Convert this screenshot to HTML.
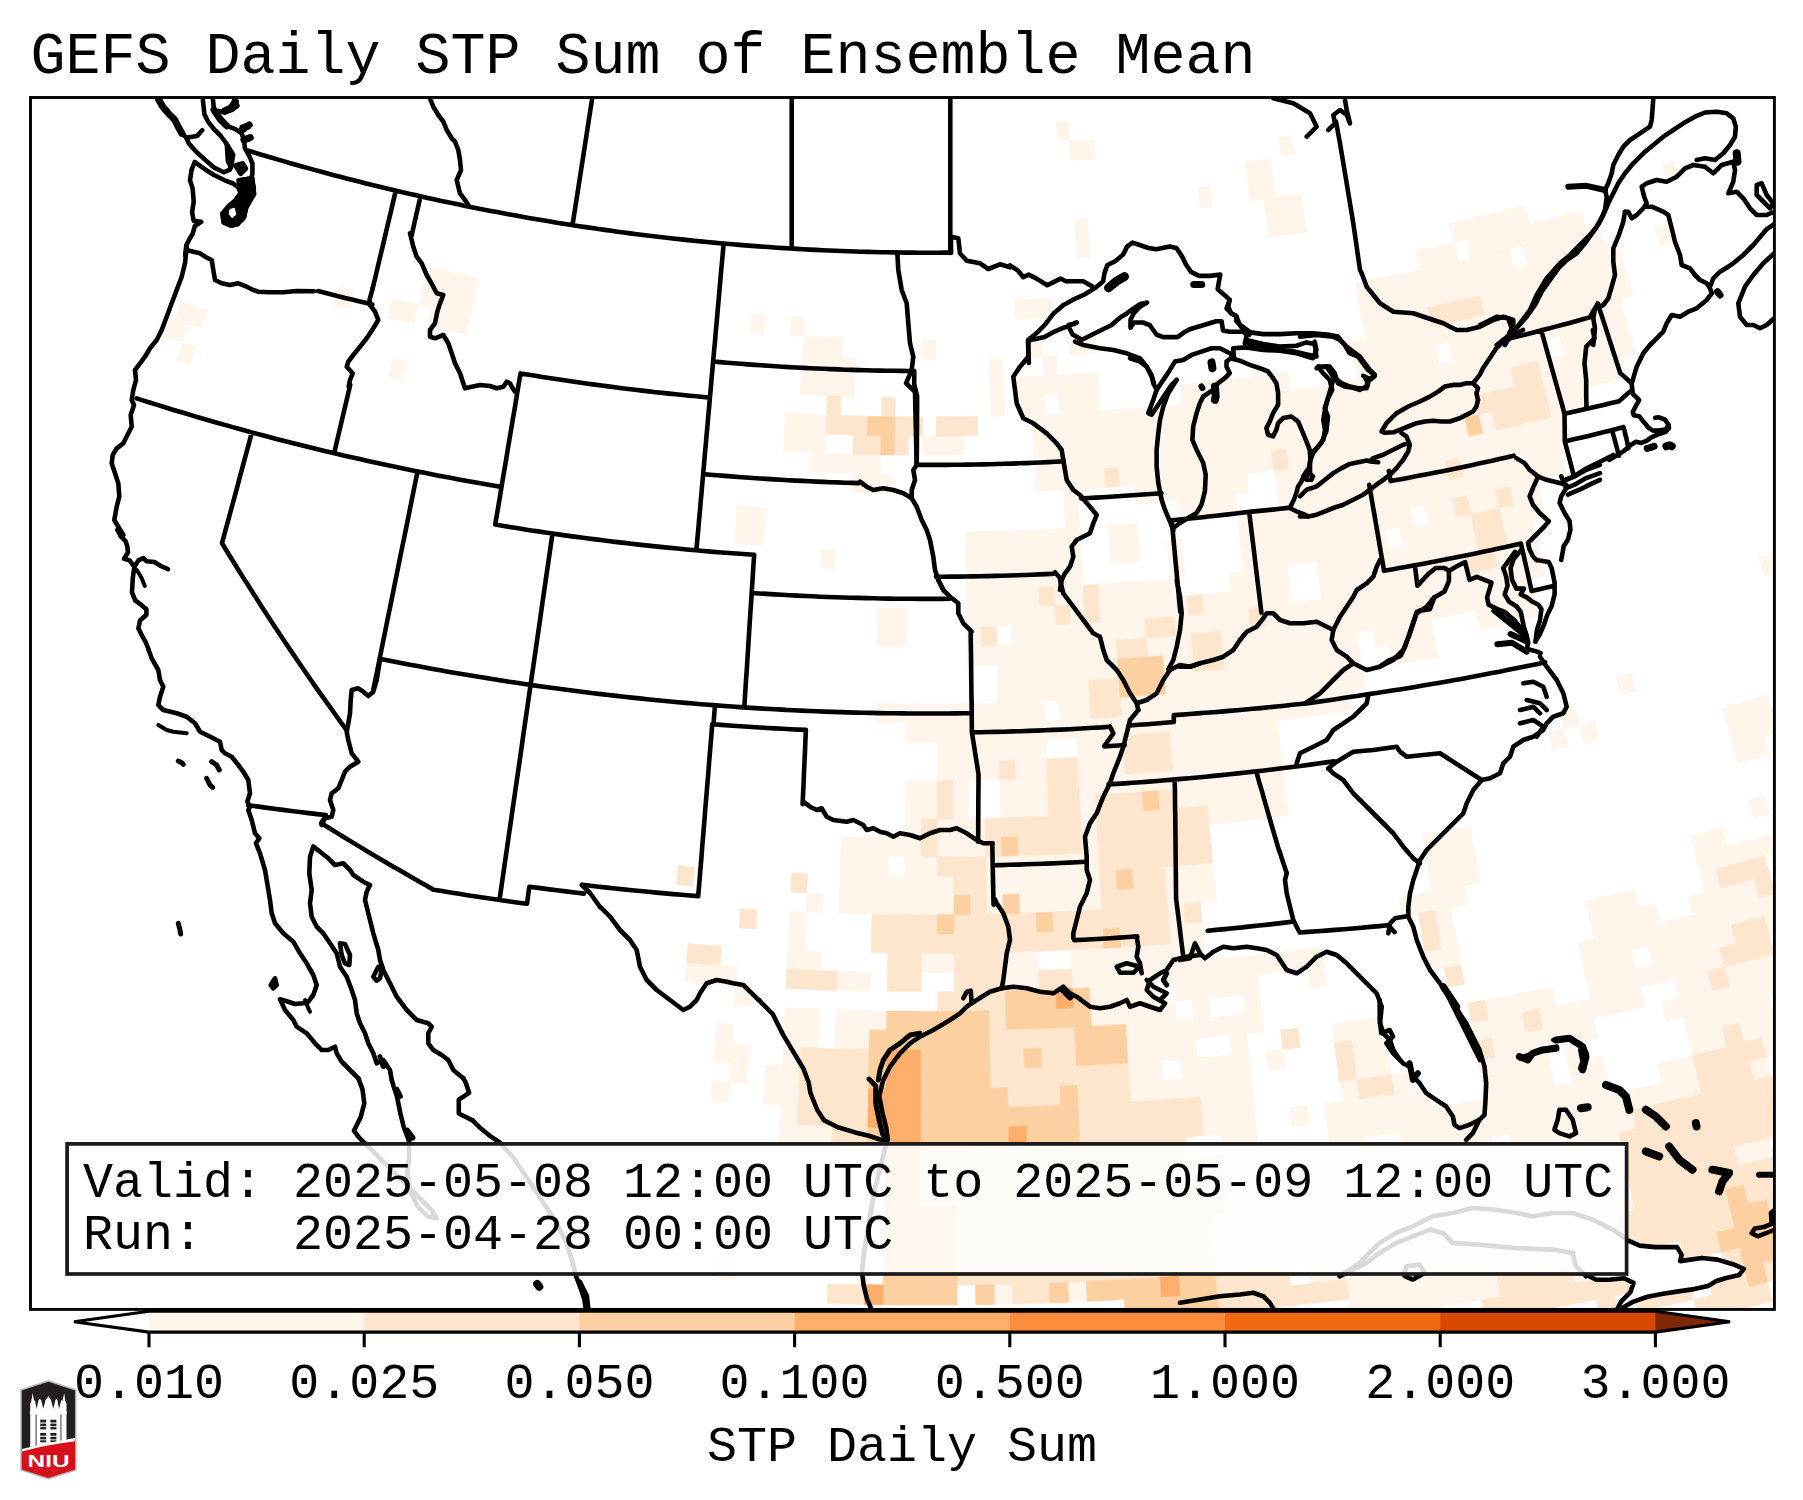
<!DOCTYPE html>
<html><head><meta charset="utf-8"><style>
html,body{margin:0;padding:0;background:#fff;}
body{width:1803px;height:1500px;overflow:hidden;}
svg{display:block;}
</style></head><body>
<svg width="1803" height="1500" viewBox="0 0 1803 1500">
<rect width="1803" height="1500" fill="#fff"/>
<text x="30.4" y="73.4" font-family="Liberation Mono, monospace" font-size="58.33">GEFS Daily STP Sum of Ensemble Mean</text>
<defs><clipPath id="mc"><rect x="30.5" y="97.5" width="1743.9" height="1211.9"/></clipPath></defs>
<g clip-path="url(#mc)">
<path d="M1348.9,1299.0 1367.4,1296.6 1385.9,1294.2 1404.5,1291.6 1423.0,1289.0 1441.5,1286.2 1459.9,1283.3 1478.4,1280.3 1496.8,1277.3 1500.2,1297.0 1481.6,1300.1 1463.0,1303.0 1444.5,1305.9 1425.9,1308.7 1407.3,1311.4 1388.6,1314.0 1370.0,1316.4 1351.3,1318.8Z M1570.4,1264.0 1588.8,1260.4 1592.6,1280.0 1574.2,1283.6Z M1346.4,1279.2 1364.8,1276.9 1383.3,1274.4 1401.7,1271.9 1420.1,1269.2 1438.5,1266.5 1456.8,1263.6 1475.2,1260.7 1493.5,1257.6 1511.8,1254.5 1530.1,1251.2 1548.4,1247.9 1566.7,1244.4 1570.4,1264.0 1552.0,1267.5 1533.7,1270.8 1515.2,1274.1 1496.8,1277.3 1478.4,1280.3 1459.9,1283.3 1441.5,1286.2 1423.0,1289.0 1404.5,1291.6 1385.9,1294.2 1367.4,1296.6 1348.9,1299.0Z M994.0,1284.6 1012.5,1284.2 1013.0,1304.1 994.4,1304.5Z M1067.9,1282.4 1086.3,1281.5 1087.2,1301.4 1068.7,1302.2Z M1307.3,1263.9 1325.6,1261.8 1344.0,1259.5 1346.4,1279.2 1328.0,1281.5 1309.5,1283.6Z M1362.3,1257.2 1380.6,1254.8 1398.9,1252.2 1417.2,1249.6 1435.5,1246.9 1453.7,1244.0 1472.0,1241.1 1490.2,1238.0 1493.5,1257.6 1475.2,1260.7 1456.8,1263.6 1438.5,1266.5 1420.1,1269.2 1401.7,1271.9 1383.3,1274.4 1364.8,1276.9Z M1599.1,1217.7 1617.2,1214.0 1621.3,1233.4 1603.1,1237.2Z M718.3,1258.7 736.6,1259.8 735.5,1279.6 717.0,1278.5Z M1213.7,1253.3 1232.0,1251.6 1250.2,1249.9 1268.5,1248.1 1286.8,1246.2 1305.0,1244.2 1323.3,1242.1 1341.5,1239.8 1359.7,1237.5 1377.9,1235.1 1380.6,1254.8 1362.3,1257.2 1344.0,1259.5 1325.6,1261.8 1307.3,1263.9 1288.9,1265.9 1270.5,1267.8 1252.1,1269.7 1233.8,1271.4 1215.3,1273.0Z M1396.1,1232.6 1414.3,1230.0 1432.5,1227.3 1450.6,1224.4 1453.7,1244.0 1435.5,1246.9 1417.2,1249.6 1398.9,1252.2Z M1577.2,1201.9 1595.2,1198.3 1613.2,1194.6 1631.1,1190.8 1635.3,1210.2 1617.2,1214.0 1599.1,1217.7 1581.0,1221.4Z M1212.0,1233.6 1230.2,1231.9 1248.3,1230.2 1266.5,1228.4 1284.7,1226.5 1302.8,1224.5 1320.9,1222.4 1339.1,1220.2 1357.2,1217.9 1375.3,1215.5 1393.4,1213.0 1411.4,1210.4 1429.5,1207.7 1432.5,1227.3 1414.3,1230.0 1396.1,1232.6 1377.9,1235.1 1359.7,1237.5 1341.5,1239.8 1323.3,1242.1 1305.0,1244.2 1286.8,1246.2 1268.5,1248.1 1250.2,1249.9 1232.0,1251.6 1213.7,1253.3Z M1483.6,1199.0 1501.6,1195.9 1519.5,1192.7 1537.5,1189.4 1555.4,1186.0 1573.3,1182.5 1591.2,1178.9 1609.1,1175.2 1627.0,1171.4 1631.1,1190.8 1613.2,1194.6 1595.2,1198.3 1577.2,1201.9 1559.2,1205.4 1541.1,1208.9 1523.1,1212.2 1505.0,1215.4 1486.9,1218.5Z M1733.7,1146.6 1751.4,1142.2 1769.1,1137.6 1774.1,1156.7 1756.3,1161.3 1738.5,1165.8Z M1210.3,1213.9 1228.4,1212.3 1246.4,1210.6 1264.5,1208.8 1282.6,1206.9 1300.6,1204.9 1318.6,1202.8 1336.6,1200.6 1354.6,1198.3 1372.6,1196.0 1390.6,1193.5 1408.6,1190.9 1426.5,1188.2 1444.4,1185.4 1462.4,1182.5 1480.3,1179.5 1498.2,1176.5 1516.0,1173.3 1533.9,1170.0 1551.7,1166.6 1569.5,1163.2 1587.3,1159.6 1605.1,1155.9 1622.8,1152.1 1627.0,1171.4 1609.1,1175.2 1591.2,1178.9 1573.3,1182.5 1555.4,1186.0 1537.5,1189.4 1519.5,1192.7 1501.6,1195.9 1483.6,1199.0 1465.6,1202.0 1447.5,1204.9 1429.5,1207.7 1411.4,1210.4 1393.4,1213.0 1375.3,1215.5 1357.2,1217.9 1339.1,1220.2 1320.9,1222.4 1302.8,1224.5 1284.7,1226.5 1266.5,1228.4 1248.3,1230.2 1230.2,1231.9 1212.0,1233.6Z M1226.6,1192.7 1244.5,1191.0 1262.5,1189.2 1280.4,1187.3 1298.4,1185.3 1316.3,1183.3 1334.2,1181.1 1352.1,1178.8 1370.0,1176.4 1387.8,1174.0 1405.7,1171.4 1423.5,1168.7 1441.4,1166.0 1459.2,1163.1 1477.0,1160.1 1494.8,1157.1 1512.5,1153.9 1530.3,1150.6 1548.0,1147.3 1565.7,1143.8 1583.4,1140.3 1601.0,1136.6 1618.7,1132.9 1622.8,1152.1 1605.1,1155.9 1587.3,1159.6 1569.5,1163.2 1551.7,1166.6 1533.9,1170.0 1516.0,1173.3 1498.2,1176.5 1480.3,1179.5 1462.4,1182.5 1444.4,1185.4 1426.5,1188.2 1408.6,1190.9 1390.6,1193.5 1372.6,1196.0 1354.6,1198.3 1336.6,1200.6 1318.6,1202.8 1300.6,1204.9 1282.6,1206.9 1264.5,1208.8 1246.4,1210.6 1228.4,1212.3Z M1224.8,1173.1 1242.7,1171.4 1260.5,1169.7 1278.3,1167.8 1296.2,1165.8 1314.0,1163.7 1331.8,1161.6 1349.6,1159.3 1367.3,1157.0 1385.1,1154.5 1402.8,1151.9 1420.6,1149.3 1438.3,1146.5 1456.0,1143.7 1473.7,1140.7 1491.4,1137.7 1494.8,1157.1 1477.0,1160.1 1459.2,1163.1 1441.4,1166.0 1423.5,1168.7 1405.7,1171.4 1387.8,1174.0 1370.0,1176.4 1352.1,1178.8 1334.2,1181.1 1316.3,1183.3 1298.4,1185.3 1280.4,1187.3 1262.5,1189.2 1244.5,1191.0 1226.6,1192.7Z M1509.0,1134.6 1526.7,1131.3 1544.3,1128.0 1561.9,1124.6 1579.5,1121.0 1597.0,1117.4 1614.6,1113.7 1632.1,1109.9 1636.3,1129.1 1618.7,1132.9 1601.0,1136.6 1583.4,1140.3 1565.7,1143.8 1548.0,1147.3 1530.3,1150.6 1512.5,1153.9Z M1223.0,1153.6 1240.8,1151.9 1258.5,1150.1 1276.2,1148.3 1294.0,1146.3 1311.7,1144.3 1329.4,1142.1 1347.0,1139.9 1364.7,1137.5 1367.3,1157.0 1349.6,1159.3 1331.8,1161.6 1314.0,1163.7 1296.2,1165.8 1278.3,1167.8 1260.5,1169.7 1242.7,1171.4 1224.8,1173.1Z M1400.0,1132.5 1417.6,1129.9 1435.2,1127.2 1452.8,1124.3 1470.4,1121.4 1488.0,1118.4 1505.5,1115.3 1523.1,1112.0 1540.6,1108.7 1558.1,1105.3 1575.5,1101.8 1593.0,1098.2 1610.4,1094.5 1627.9,1090.7 1645.2,1086.8 1662.6,1082.8 1680.0,1078.7 1697.3,1074.6 1701.9,1093.6 1684.5,1097.8 1667.1,1101.9 1649.6,1105.9 1632.1,1109.9 1614.6,1113.7 1597.0,1117.4 1579.5,1121.0 1561.9,1124.6 1544.3,1128.0 1526.7,1131.3 1509.0,1134.6 1491.4,1137.7 1473.7,1140.7 1456.0,1143.7 1438.3,1146.5 1420.6,1149.3 1402.8,1151.9Z M1749.1,1061.5 1766.4,1056.9 1771.4,1075.9 1754.1,1080.4Z M1221.3,1134.1 1238.9,1132.4 1256.5,1130.7 1258.5,1150.1 1240.8,1151.9 1223.0,1153.6Z M1326.9,1122.7 1344.5,1120.4 1362.1,1118.1 1379.6,1115.7 1397.2,1113.2 1414.7,1110.5 1432.2,1107.8 1449.7,1105.0 1467.1,1102.1 1484.6,1099.1 1502.1,1096.0 1519.5,1092.8 1536.9,1089.5 1554.3,1086.1 1571.6,1082.6 1589.0,1079.0 1606.3,1075.4 1610.4,1094.5 1593.0,1098.2 1575.5,1101.8 1558.1,1105.3 1540.6,1108.7 1523.1,1112.0 1505.5,1115.3 1488.0,1118.4 1470.4,1121.4 1452.8,1124.3 1435.2,1127.2 1417.6,1129.9 1400.0,1132.5 1382.4,1135.1 1364.7,1137.5 1347.0,1139.9 1329.4,1142.1Z M1658.2,1063.8 1675.4,1059.7 1692.7,1055.5 1697.3,1074.6 1680.0,1078.7 1662.6,1082.8Z M1761.3,1038.0 1778.4,1033.4 1783.6,1052.2 1766.4,1056.9Z M779.7,1124.3 797.3,1125.1 814.9,1125.7 832.5,1126.3 831.9,1145.9 814.2,1145.3 796.5,1144.6 778.8,1143.8Z M1201.9,1116.2 1219.5,1114.6 1237.0,1113.0 1254.5,1111.2 1256.5,1130.7 1238.9,1132.4 1221.3,1134.1 1203.6,1135.6Z M1289.5,1107.4 1307.0,1105.4 1309.3,1124.8 1291.7,1126.9Z M1324.5,1103.3 1342.0,1101.1 1359.4,1098.7 1376.9,1096.3 1394.3,1093.8 1411.7,1091.2 1429.1,1088.5 1432.2,1107.8 1414.7,1110.5 1397.2,1113.2 1379.6,1115.7 1362.1,1118.1 1344.5,1120.4 1326.9,1122.7Z M1481.2,1079.8 1498.6,1076.7 1515.9,1073.6 1533.2,1070.3 1550.5,1066.9 1554.3,1086.1 1536.9,1089.5 1519.5,1092.8 1502.1,1096.0 1484.6,1099.1Z M1567.7,1063.5 1585.0,1059.9 1602.2,1056.2 1606.3,1075.4 1589.0,1079.0 1571.6,1082.6Z M1688.0,1036.6 1705.1,1032.3 1722.2,1028.0 1727.0,1047.0 1709.9,1051.3 1692.7,1055.5Z M1739.2,1023.6 1756.3,1019.1 1773.3,1014.5 1778.4,1033.4 1761.3,1038.0 1744.2,1042.5Z M780.6,1104.8 798.1,1105.6 797.3,1125.1 779.7,1124.3Z M1200.3,1096.7 1217.7,1095.2 1235.1,1093.5 1252.6,1091.8 1254.5,1111.2 1237.0,1113.0 1219.5,1114.6 1201.9,1116.2Z M1339.5,1081.7 1356.8,1079.4 1359.4,1098.7 1342.0,1101.1Z M1391.5,1074.5 1408.8,1071.9 1411.7,1091.2 1394.3,1093.8Z M1477.9,1060.6 1495.1,1057.6 1512.3,1054.4 1529.5,1051.1 1546.7,1047.8 1550.5,1066.9 1533.2,1070.3 1515.9,1073.6 1498.6,1076.7 1481.2,1079.8Z M1563.9,1044.3 1581.0,1040.8 1585.0,1059.9 1567.7,1063.5Z M1683.4,1017.6 1700.4,1013.4 1717.4,1009.1 1734.3,1004.7 1751.2,1000.3 1768.1,995.7 1773.3,1014.5 1756.3,1019.1 1739.2,1023.6 1722.2,1028.0 1705.1,1032.3 1688.0,1036.6Z M712.1,1081.3 729.4,1082.5 728.2,1101.9 710.7,1100.8Z M764.2,1084.5 781.5,1085.3 798.9,1086.1 798.1,1105.6 780.6,1104.8 763.1,1103.9Z M1129.2,1082.5 1146.6,1081.3 1163.9,1080.1 1181.3,1078.7 1198.6,1077.3 1215.9,1075.8 1233.3,1074.1 1250.6,1072.4 1252.6,1091.8 1235.1,1093.5 1217.7,1095.2 1200.3,1096.7 1182.8,1098.2 1165.4,1099.5 1147.9,1100.8 1130.5,1101.9Z M1354.2,1060.1 1371.4,1057.7 1388.6,1055.2 1391.5,1074.5 1374.2,1077.0 1356.8,1079.4Z M1491.6,1038.4 1508.7,1035.2 1525.8,1032.0 1542.9,1028.7 1560.0,1025.3 1577.0,1021.7 1594.0,1018.1 1598.1,1037.2 1581.0,1040.8 1563.9,1044.3 1546.7,1047.8 1529.5,1051.1 1512.3,1054.4 1495.1,1057.6Z M1661.9,1002.8 1678.8,998.7 1695.7,994.5 1712.5,990.2 1729.4,985.9 1746.2,981.4 1763.0,976.9 1779.7,972.3 1785.0,991.0 1768.1,995.7 1751.2,1000.3 1734.3,1004.7 1717.4,1009.1 1700.4,1013.4 1683.4,1017.6 1666.4,1021.7Z M730.7,1063.1 747.9,1064.1 746.8,1083.5 729.4,1082.5Z M765.2,1065.1 782.4,1065.9 799.7,1066.7 798.9,1086.1 781.5,1085.3 764.2,1084.5Z M1128.0,1063.1 1145.3,1061.9 1162.5,1060.7 1163.9,1080.1 1146.6,1081.3 1129.2,1082.5Z M1179.7,1059.4 1197.0,1057.9 1214.2,1056.4 1231.4,1054.8 1248.6,1053.1 1250.6,1072.4 1233.3,1074.1 1215.9,1075.8 1198.6,1077.3 1181.3,1078.7Z M1265.8,1051.3 1283.0,1049.4 1285.2,1068.7 1267.9,1070.6Z M1351.6,1040.8 1368.7,1038.5 1385.8,1036.0 1388.6,1055.2 1371.4,1057.7 1354.2,1060.1Z M1471.2,1022.3 1488.2,1019.2 1505.2,1016.1 1522.2,1012.9 1525.8,1032.0 1508.7,1035.2 1491.6,1038.4 1474.5,1041.4Z M1539.1,1009.6 1556.1,1006.2 1573.0,1002.7 1589.9,999.1 1606.8,995.4 1623.7,991.7 1640.5,987.8 1644.9,1006.7 1628.0,1010.6 1611.0,1014.4 1594.0,1018.1 1577.0,1021.7 1560.0,1025.3 1542.9,1028.7Z M1674.2,979.8 1691.0,975.6 1707.7,971.4 1712.5,990.2 1695.7,994.5 1678.8,998.7Z M1724.5,967.1 1741.2,962.7 1757.9,958.1 1774.5,953.5 1779.7,972.3 1763.0,976.9 1746.2,981.4 1729.4,985.9Z M714.7,1042.5 731.9,1043.7 749.0,1044.7 747.9,1064.1 730.7,1063.1 713.4,1061.9Z M783.4,1046.5 800.5,1047.3 799.7,1066.7 782.4,1065.9Z M1126.8,1043.7 1143.9,1042.5 1161.1,1041.3 1178.2,1040.0 1195.3,1038.6 1197.0,1057.9 1179.7,1059.4 1162.5,1060.7 1145.3,1061.9 1128.0,1063.1Z M1229.5,1035.5 1246.6,1033.8 1248.6,1053.1 1231.4,1054.8Z M1331.9,1023.9 1349.0,1021.6 1366.0,1019.2 1383.0,1016.8 1385.8,1036.0 1368.7,1038.5 1351.6,1040.8 1334.5,1043.1Z M1484.7,1000.1 1501.6,997.0 1518.5,993.8 1535.4,990.6 1552.2,987.2 1556.1,1006.2 1539.1,1009.6 1522.2,1012.9 1505.2,1016.1 1488.2,1019.2Z M1585.8,980.1 1602.6,976.5 1619.4,972.7 1636.1,968.9 1652.9,964.9 1669.6,960.9 1686.2,956.8 1702.9,952.6 1719.5,948.3 1724.5,967.1 1707.7,971.4 1691.0,975.6 1674.2,979.8 1657.4,983.8 1640.5,987.8 1623.7,991.7 1606.8,995.4 1589.9,999.1Z M716.1,1023.2 733.1,1024.3 731.9,1043.7 714.7,1042.5Z M784.3,1027.1 801.3,1027.9 818.4,1028.6 817.7,1047.9 800.5,1047.3 783.4,1046.5Z M835.4,1029.1 852.5,1029.6 869.6,1030.0 869.2,1049.4 852.0,1049.0 834.9,1048.5Z M1125.6,1024.3 1142.6,1023.2 1159.6,1022.0 1176.6,1020.7 1193.7,1019.3 1210.7,1017.8 1227.7,1016.2 1244.7,1014.5 1261.6,1012.7 1263.7,1032.0 1246.6,1033.8 1229.5,1035.5 1212.4,1037.1 1195.3,1038.6 1178.2,1040.0 1161.1,1041.3 1143.9,1042.5 1126.8,1043.7Z M1581.8,961.2 1598.5,957.5 1615.1,953.8 1631.8,950.0 1636.1,968.9 1619.4,972.7 1602.6,976.5 1585.8,980.1Z M1648.4,946.1 1665.0,942.1 1681.5,938.0 1698.1,933.8 1714.6,929.5 1731.1,925.2 1736.1,943.9 1719.5,948.3 1702.9,952.6 1686.2,956.8 1669.6,960.9 1652.9,964.9Z M1764.1,916.2 1780.5,911.5 1785.8,930.2 1769.3,934.8Z M785.2,1007.8 802.1,1008.6 819.1,1009.2 818.4,1028.6 801.3,1027.9 784.3,1027.1Z M836.0,1009.8 853.0,1010.2 870.0,1010.6 886.9,1010.9 886.6,1030.2 869.6,1030.0 852.5,1029.6 835.4,1029.1Z M1090.4,1007.0 1107.4,1006.0 1124.3,1005.0 1141.3,1003.9 1158.2,1002.7 1175.1,1001.4 1176.6,1020.7 1159.6,1022.0 1142.6,1023.2 1125.6,1024.3 1108.5,1025.4 1091.5,1026.3Z M1192.0,1000.0 1208.9,998.5 1210.7,1017.8 1193.7,1019.3Z M1242.7,995.2 1259.6,993.4 1261.6,1012.7 1244.7,1014.5Z M1577.7,942.3 1594.3,938.6 1610.8,934.9 1627.4,931.1 1643.9,927.3 1660.4,923.3 1676.9,919.2 1693.3,915.0 1709.7,910.8 1726.1,906.5 1742.5,902.0 1758.9,897.5 1775.2,892.9 1780.5,911.5 1764.1,916.2 1747.6,920.7 1731.1,925.2 1714.6,929.5 1698.1,933.8 1681.5,938.0 1665.0,942.1 1648.4,946.1 1631.8,950.0 1615.1,953.8 1598.5,957.5 1581.8,961.2Z M735.6,985.7 752.4,986.7 751.3,1006.0 734.3,1005.0Z M1089.4,987.7 1106.3,986.7 1123.1,985.7 1139.9,984.6 1156.7,983.4 1158.2,1002.7 1141.3,1003.9 1124.3,1005.0 1107.4,1006.0 1090.4,1007.0Z M1173.6,982.1 1190.4,980.7 1207.2,979.2 1223.9,977.7 1240.7,976.0 1257.5,974.2 1259.6,993.4 1242.7,995.2 1225.8,996.9 1208.9,998.5 1192.0,1000.0 1175.1,1001.4Z M1307.7,968.4 1324.5,966.3 1327.0,985.4 1310.1,987.6Z M1424.5,951.6 1441.2,948.8 1457.8,945.9 1461.1,965.0 1444.4,967.9 1427.7,970.6Z M1590.1,919.8 1606.6,916.1 1623.0,912.3 1639.4,908.4 1655.8,904.5 1660.4,923.3 1643.9,927.3 1627.4,931.1 1610.8,934.9 1594.3,938.6Z M1688.5,896.3 1704.8,892.1 1721.1,887.8 1737.4,883.4 1753.7,878.9 1758.9,897.5 1742.5,902.0 1726.1,906.5 1709.7,910.8 1693.3,915.0Z M686.6,962.8 703.4,964.1 720.1,965.3 736.8,966.4 735.6,985.7 718.7,984.6 701.9,983.4 685.1,982.1Z M837.2,971.1 853.9,971.6 870.7,972.0 870.3,991.3 853.5,990.9 836.6,990.4Z M1004.7,971.6 1021.5,971.1 1038.2,970.6 1038.9,989.9 1022.1,990.4 1005.2,990.9Z M1071.7,969.2 1088.4,968.4 1105.2,967.5 1121.9,966.4 1138.6,965.3 1155.3,964.1 1172.0,962.8 1188.7,961.5 1205.4,960.0 1222.1,958.4 1238.8,956.8 1255.4,955.0 1272.1,953.2 1288.7,951.3 1305.3,949.2 1322.0,947.1 1324.5,966.3 1307.7,968.4 1291.0,970.4 1274.2,972.4 1257.5,974.2 1240.7,976.0 1223.9,977.7 1207.2,979.2 1190.4,980.7 1173.6,982.1 1156.7,983.4 1139.9,984.6 1123.1,985.7 1106.3,986.7 1089.4,987.7 1072.6,988.5Z M1438.0,929.8 1454.5,926.9 1457.8,945.9 1441.2,948.8Z M1585.9,900.9 1602.3,897.2 1618.6,893.5 1634.9,889.7 1639.4,908.4 1623.0,912.3 1606.6,916.1 1590.1,919.8Z M1700.0,873.4 1716.1,869.1 1721.1,887.8 1704.8,892.1Z M787.9,949.9 804.5,950.7 821.1,951.3 820.5,970.6 803.7,969.9 787.0,969.2Z M921.0,953.2 937.7,953.2 954.3,953.1 954.5,972.4 937.7,972.5 921.0,972.5Z M1004.2,952.3 1020.9,951.9 1037.5,951.3 1038.2,970.6 1021.5,971.1 1004.7,971.6Z M1070.8,949.9 1087.4,949.1 1104.0,948.2 1120.7,947.2 1137.3,946.1 1153.9,944.9 1170.5,943.6 1187.1,942.3 1203.7,940.8 1205.4,960.0 1188.7,961.5 1172.0,962.8 1155.3,964.1 1138.6,965.3 1121.9,966.4 1105.2,967.5 1088.4,968.4 1071.7,969.2Z M1434.7,910.7 1451.1,907.9 1454.5,926.9 1438.0,929.8Z M1695.1,854.8 1711.2,850.5 1727.2,846.2 1743.3,841.7 1759.3,837.2 1775.3,832.6 1780.7,851.1 1764.6,855.7 1748.5,860.3 1732.3,864.8 1716.1,869.1 1700.0,873.4Z M788.8,930.7 805.3,931.4 804.5,950.7 787.9,949.9Z M1168.9,924.4 1185.4,923.1 1201.9,921.6 1203.7,940.8 1187.1,942.3 1170.5,943.6Z M1398.9,897.1 1415.2,894.5 1431.5,891.7 1447.8,888.9 1464.1,886.0 1467.5,905.0 1451.1,907.9 1434.7,910.7 1418.3,913.5 1401.9,916.1Z M1690.2,836.1 1706.2,831.9 1722.2,827.6 1727.2,846.2 1711.2,850.5 1695.1,854.8Z M789.7,911.5 806.1,912.2 805.3,931.4 788.8,930.7Z M1167.4,905.2 1183.8,903.9 1185.4,923.1 1168.9,924.4Z M1428.3,872.8 1444.5,870.0 1460.7,867.1 1476.8,864.1 1480.4,883.1 1464.1,886.0 1447.8,888.9 1431.5,891.7Z M1748.7,800.2 1764.5,795.6 1769.9,814.1 1754.0,818.7Z M806.9,893.0 823.2,893.6 822.5,912.8 806.1,912.2Z M839.5,894.2 855.9,894.6 872.2,895.0 888.5,895.2 904.8,895.4 921.2,895.5 937.5,895.5 953.8,895.4 954.0,914.6 937.6,914.7 921.1,914.7 904.7,914.6 888.2,914.5 871.8,914.2 855.4,913.8 838.9,913.4Z M986.5,895.0 1002.8,894.6 1003.3,913.8 986.9,914.2Z M1019.1,894.2 1035.5,893.6 1051.8,893.0 1068.1,892.3 1084.4,891.5 1100.7,890.6 1101.8,909.8 1085.4,910.7 1069.0,911.5 1052.6,912.2 1036.1,912.8 1019.7,913.4Z M1165.9,886.1 1182.2,884.7 1198.4,883.3 1214.7,881.8 1216.5,900.9 1200.2,902.4 1183.8,903.9 1167.4,905.2Z M1425.1,853.8 1441.2,851.0 1457.3,848.2 1473.3,845.2 1476.8,864.1 1460.7,867.1 1444.5,870.0 1428.3,872.8Z M840.1,875.0 856.3,875.4 872.5,875.8 888.8,876.0 905.0,876.2 921.2,876.3 937.4,876.3 953.7,876.2 953.8,895.4 937.5,895.5 921.2,895.5 904.8,895.4 888.5,895.2 872.2,895.0 855.9,894.6 839.5,894.2Z M986.1,875.8 1002.3,875.4 1018.6,875.0 1034.8,874.4 1051.0,873.8 1067.2,873.1 1083.4,872.3 1099.6,871.4 1100.7,890.6 1084.4,891.5 1068.1,892.3 1051.8,893.0 1035.5,893.6 1019.1,894.2 1002.8,894.6 986.5,895.0Z M1164.3,866.9 1180.5,865.6 1196.7,864.2 1212.8,862.6 1214.7,881.8 1198.4,883.3 1182.2,884.7 1165.9,886.1Z M1421.9,834.9 1437.9,832.1 1453.8,829.3 1469.8,826.4 1473.3,845.2 1457.3,848.2 1441.2,851.0 1425.1,853.8Z M840.7,855.8 856.8,856.2 872.9,856.6 889.0,856.8 888.8,876.0 872.5,875.8 856.3,875.4 840.1,875.0Z M905.2,857.0 921.3,857.1 937.4,857.1 937.4,876.3 921.2,876.3 905.0,876.2Z M985.7,856.6 1001.9,856.2 1018.0,855.8 1034.1,855.2 1050.2,854.6 1066.3,853.9 1082.4,853.1 1098.5,852.2 1099.6,871.4 1083.4,872.3 1067.2,873.1 1051.0,873.8 1034.8,874.4 1018.6,875.0 1002.3,875.4 986.1,875.8Z M1732.9,744.7 1748.4,740.3 1763.9,735.7 1769.4,754.1 1753.8,758.7 1738.2,763.2Z M841.3,836.6 857.3,837.0 873.3,837.4 889.3,837.7 905.3,837.8 921.3,837.9 921.3,857.1 905.2,857.0 889.0,856.8 872.9,856.6 856.8,856.2 840.7,855.8Z M937.3,837.9 953.4,837.8 969.4,837.7 985.4,837.4 985.7,856.6 969.6,856.8 953.5,857.0 937.4,857.1Z M1081.4,834.0 1097.4,833.1 1098.5,852.2 1082.4,853.1Z M1727.7,726.3 1743.1,721.9 1758.4,717.3 1773.8,712.7 1779.3,731.1 1763.9,735.7 1748.4,740.3 1732.9,744.7Z M905.5,818.7 921.4,818.8 921.3,837.9 905.3,837.8Z M937.3,818.8 953.2,818.7 969.1,818.5 985.0,818.2 985.4,837.4 969.4,837.7 953.4,837.8 937.3,837.9Z M1080.4,814.8 1096.3,813.9 1097.4,833.1 1081.4,834.0Z M1207.3,805.4 1223.1,803.8 1239.0,802.1 1254.8,800.4 1270.6,798.6 1286.4,796.6 1288.7,815.7 1272.8,817.6 1256.9,819.4 1241.0,821.2 1225.1,822.9 1209.1,824.5Z M1722.4,707.9 1737.7,703.5 1753.0,699.0 1768.2,694.4 1773.8,712.7 1758.4,717.3 1743.1,721.9 1727.7,726.3Z M905.6,799.5 921.4,799.6 937.2,799.6 937.3,818.8 921.4,818.8 905.5,818.7Z M953.0,799.5 968.8,799.3 969.1,818.5 953.2,818.7Z M1000.4,798.7 1016.2,798.3 1032.0,797.8 1047.8,797.2 1048.6,816.3 1032.7,816.9 1016.8,817.4 1000.9,817.9Z M1079.4,795.7 1095.2,794.8 1096.3,813.9 1080.4,814.8Z M1174.0,789.2 1189.7,787.8 1205.5,786.3 1221.2,784.8 1236.9,783.1 1252.6,781.4 1268.3,779.5 1284.0,777.6 1286.4,796.6 1270.6,798.6 1254.8,800.4 1239.0,802.1 1223.1,803.8 1207.3,805.4 1191.5,806.9 1175.6,808.3Z M1548.7,732.1 1564.1,728.6 1568.3,747.3 1552.8,750.8Z M1579.5,725.1 1594.9,721.4 1599.3,740.1 1583.8,743.7Z M905.8,780.4 921.5,780.5 937.2,780.5 937.2,799.6 921.4,799.6 905.6,799.5Z M952.9,780.4 968.6,780.2 968.8,799.3 953.0,799.5Z M1000.0,779.6 1015.7,779.2 1031.3,778.7 1047.0,778.0 1047.8,797.2 1032.0,797.8 1016.2,798.3 1000.4,798.7Z M1078.4,776.6 1094.1,775.7 1109.7,774.8 1125.4,773.7 1141.1,772.6 1156.7,771.4 1172.4,770.1 1188.0,768.7 1203.6,767.3 1219.2,765.7 1234.9,764.1 1250.5,762.3 1266.1,760.5 1281.6,758.6 1284.0,777.6 1268.3,779.5 1252.6,781.4 1236.9,783.1 1221.2,784.8 1205.5,786.3 1189.7,787.8 1174.0,789.2 1158.2,790.5 1142.5,791.7 1126.7,792.8 1110.9,793.9 1095.2,794.8 1079.4,795.7Z M1559.8,709.9 1575.1,706.4 1579.5,725.1 1564.1,728.6Z M937.1,761.3 952.7,761.2 968.3,761.1 983.9,760.8 999.5,760.5 1000.0,779.6 984.3,779.9 968.6,780.2 952.9,780.4 937.2,780.5Z M1015.1,760.0 1030.7,759.5 1046.2,758.9 1047.0,778.0 1031.3,778.7 1015.7,779.2Z M1077.4,757.5 1093.0,756.6 1108.5,755.7 1124.1,754.6 1125.4,773.7 1109.7,774.8 1094.1,775.7 1078.4,776.6Z M1170.7,751.0 1186.3,749.7 1201.8,748.2 1217.3,746.7 1232.8,745.0 1248.3,743.3 1263.8,741.5 1279.3,739.7 1281.6,758.6 1266.1,760.5 1250.5,762.3 1234.9,764.1 1219.2,765.7 1203.6,767.3 1188.0,768.7 1172.4,770.1Z M1616.3,676.8 1631.4,673.0 1636.1,691.5 1620.9,695.4Z M937.1,742.2 952.6,742.1 968.1,742.0 983.5,741.7 999.0,741.4 1014.5,740.9 1030.0,740.4 1045.5,739.8 1046.2,758.9 1030.7,759.5 1015.1,760.0 999.5,760.5 983.9,760.8 968.3,761.1 952.7,761.2 937.1,761.3Z M1076.4,738.4 1091.9,737.5 1107.3,736.6 1122.8,735.6 1124.1,754.6 1108.5,755.7 1093.0,756.6 1077.4,757.5Z M1169.1,732.0 1184.5,730.6 1199.9,729.2 1215.4,727.6 1230.8,726.0 1246.2,724.3 1261.5,722.5 1276.9,720.7 1279.3,739.7 1263.8,741.5 1248.3,743.3 1232.8,745.0 1217.3,746.7 1201.8,748.2 1186.3,749.7 1170.7,751.0Z M906.3,723.0 921.6,723.1 937.0,723.1 952.4,723.0 967.8,722.8 983.2,722.6 998.5,722.2 1013.9,721.8 1029.3,721.3 1044.7,720.7 1060.0,720.0 1075.4,719.3 1090.8,718.4 1106.1,717.5 1121.5,716.5 1136.8,715.4 1152.1,714.2 1167.5,712.9 1182.8,711.6 1198.1,710.2 1213.4,708.6 1228.7,707.0 1244.0,705.3 1259.3,703.6 1274.5,701.7 1289.8,699.8 1305.1,697.7 1320.3,695.6 1335.5,693.4 1350.7,691.2 1353.6,710.1 1338.3,712.4 1323.0,714.6 1307.6,716.7 1292.3,718.7 1276.9,720.7 1261.5,722.5 1246.2,724.3 1230.8,726.0 1215.4,727.6 1199.9,729.2 1184.5,730.6 1169.1,732.0 1153.7,733.3 1138.2,734.5 1122.8,735.6 1107.3,736.6 1091.9,737.5 1076.4,738.4 1060.9,739.1 1045.5,739.8 1030.0,740.4 1014.5,740.9 999.0,741.4 983.5,741.7 968.1,742.0 952.6,742.1 937.1,742.2 921.6,742.2 906.1,742.1Z M875.9,703.5 891.1,703.7 906.4,703.9 921.7,704.0 937.0,704.0 952.2,703.9 967.5,703.7 982.8,703.5 998.1,703.1 1013.3,702.7 1028.6,702.2 1043.9,701.6 1044.7,720.7 1029.3,721.3 1013.9,721.8 998.5,722.2 983.2,722.6 967.8,722.8 952.4,723.0 937.0,723.1 921.6,723.1 906.3,723.0 890.9,722.8 875.5,722.6Z M1059.1,701.0 1074.4,700.2 1089.7,699.4 1090.8,718.4 1075.4,719.3 1060.0,720.0Z M1120.1,697.4 1135.4,696.3 1150.6,695.2 1165.8,693.9 1181.1,692.6 1196.3,691.1 1211.5,689.6 1226.7,688.0 1241.8,686.3 1257.0,684.6 1272.2,682.7 1287.3,680.8 1302.5,678.8 1317.6,676.7 1332.7,674.5 1347.9,672.3 1362.9,669.9 1365.9,688.8 1350.7,691.2 1335.5,693.4 1320.3,695.6 1305.1,697.7 1289.8,699.8 1274.5,701.7 1259.3,703.6 1244.0,705.3 1228.7,707.0 1213.4,708.6 1198.1,710.2 1182.8,711.6 1167.5,712.9 1152.1,714.2 1136.8,715.4 1121.5,716.5Z M997.6,684.0 1012.8,683.6 1027.9,683.1 1043.1,682.5 1058.2,681.9 1073.4,681.1 1088.5,680.3 1089.7,699.4 1074.4,700.2 1059.1,701.0 1043.9,701.6 1028.6,702.2 1013.3,702.7 998.1,703.1Z M1164.2,674.9 1179.3,673.5 1194.4,672.1 1209.5,670.6 1224.6,669.0 1239.7,667.4 1254.8,665.6 1269.8,663.8 1284.9,661.9 1299.9,659.9 1314.9,657.8 1330.0,655.6 1345.0,653.4 1360.0,651.0 1362.9,669.9 1347.9,672.3 1332.7,674.5 1317.6,676.7 1302.5,678.8 1287.3,680.8 1272.2,682.7 1257.0,684.6 1241.8,686.3 1226.7,688.0 1211.5,689.6 1196.3,691.1 1181.1,692.6 1165.8,693.9Z M1389.9,646.1 1404.9,643.6 1419.8,640.9 1434.7,638.2 1438.2,657.0 1423.2,659.7 1408.2,662.4 1393.1,665.0Z M1758.3,557.3 1772.8,552.7 1778.7,570.9 1764.1,575.5Z M997.1,664.9 1012.2,664.5 1027.2,664.0 1042.3,663.4 1057.4,662.8 1072.4,662.0 1087.4,661.2 1102.5,660.3 1117.5,659.3 1118.8,678.4 1103.7,679.4 1088.5,680.3 1073.4,681.1 1058.2,681.9 1043.1,682.5 1027.9,683.1 1012.8,683.6 997.6,684.0Z M1162.6,655.8 1177.6,654.5 1192.6,653.1 1194.4,672.1 1179.3,673.5 1164.2,674.9Z M1222.6,650.0 1237.5,648.4 1252.5,646.6 1267.5,644.8 1282.4,642.9 1297.4,640.9 1312.3,638.9 1327.2,636.7 1342.1,634.5 1357.0,632.2 1360.0,651.0 1345.0,653.4 1330.0,655.6 1314.9,657.8 1299.9,659.9 1284.9,661.9 1269.8,663.8 1254.8,665.6 1239.7,667.4 1224.6,669.0Z M1371.9,629.8 1386.7,627.3 1401.6,624.7 1416.4,622.1 1431.2,619.4 1434.7,638.2 1419.8,640.9 1404.9,643.6 1389.9,646.1 1374.9,648.6Z M1475.6,610.7 1490.3,607.7 1505.1,604.6 1519.8,601.4 1534.5,598.1 1538.7,616.7 1523.9,620.0 1509.1,623.2 1494.3,626.4 1479.4,629.5Z M966.7,646.4 981.7,646.2 996.7,645.8 1011.6,645.4 1026.6,644.9 1041.5,644.4 1056.5,643.7 1071.4,643.0 1086.3,642.1 1101.3,641.2 1116.2,640.2 1117.5,659.3 1102.5,660.3 1087.4,661.2 1072.4,662.0 1057.4,662.8 1042.3,663.4 1027.2,664.0 1012.2,664.5 997.1,664.9 982.1,665.3 967.0,665.5Z M1146.0,638.0 1161.0,636.8 1175.9,635.5 1190.8,634.1 1192.6,653.1 1177.6,654.5 1162.6,655.8 1147.6,657.1Z M1220.5,631.0 1235.4,629.4 1250.3,627.7 1265.1,625.9 1280.0,624.0 1294.8,622.0 1309.6,619.9 1324.4,617.8 1339.2,615.6 1354.0,613.3 1368.8,610.9 1383.5,608.5 1398.3,605.9 1413.0,603.3 1427.7,600.6 1442.4,597.8 1457.1,595.0 1471.8,592.0 1486.4,589.0 1501.1,585.9 1515.7,582.7 1530.3,579.4 1534.5,598.1 1519.8,601.4 1505.1,604.6 1490.3,607.7 1475.6,610.7 1460.8,613.7 1446.0,616.6 1431.2,619.4 1416.4,622.1 1401.6,624.7 1386.7,627.3 1371.9,629.8 1357.0,632.2 1342.1,634.5 1327.2,636.7 1312.3,638.9 1297.4,640.9 1282.4,642.9 1267.5,644.8 1252.5,646.6 1237.5,648.4 1222.6,650.0Z M877.3,627.1 892.2,627.3 907.0,627.5 906.9,646.6 891.9,646.4 877.0,646.2Z M966.5,627.3 981.3,627.1 981.7,646.2 966.7,646.4Z M1011.0,626.3 1025.9,625.8 1040.7,625.3 1055.6,624.6 1070.4,623.9 1085.2,623.1 1100.1,622.2 1114.9,621.2 1129.7,620.1 1144.5,619.0 1146.0,638.0 1131.1,639.2 1116.2,640.2 1101.3,641.2 1086.3,642.1 1071.4,643.0 1056.5,643.7 1041.5,644.4 1026.6,644.9 1011.6,645.4Z M1174.1,616.4 1188.9,615.1 1203.7,613.6 1218.5,612.0 1233.2,610.4 1248.0,608.7 1250.3,627.7 1235.4,629.4 1220.5,631.0 1205.6,632.6 1190.8,634.1 1175.9,635.5Z M1262.8,606.9 1277.5,605.0 1292.2,603.1 1306.9,601.0 1321.6,598.9 1336.3,596.7 1351.0,594.4 1365.7,592.1 1380.3,589.6 1395.0,587.1 1409.6,584.5 1424.2,581.8 1438.8,579.1 1453.4,576.2 1468.0,573.3 1482.5,570.3 1497.0,567.2 1511.6,564.0 1526.1,560.8 1540.5,557.5 1544.9,576.1 1530.3,579.4 1515.7,582.7 1501.1,585.9 1486.4,589.0 1471.8,592.0 1457.1,595.0 1442.4,597.8 1427.7,600.6 1413.0,603.3 1398.3,605.9 1383.5,608.5 1368.8,610.9 1354.0,613.3 1339.2,615.6 1324.4,617.8 1309.6,619.9 1294.8,622.0 1280.0,624.0 1265.1,625.9Z M877.7,608.0 892.5,608.2 907.2,608.4 907.0,627.5 892.2,627.3 877.3,627.1Z M966.2,608.2 981.0,608.0 995.7,607.6 1010.5,607.2 1025.2,606.7 1039.9,606.2 1054.7,605.5 1055.6,624.6 1040.7,625.3 1025.9,625.8 1011.0,626.3 996.2,626.7 981.3,627.1 966.5,627.3Z M1069.4,604.8 1084.1,604.0 1085.2,623.1 1070.4,623.9Z M1098.9,603.1 1113.6,602.1 1128.3,601.1 1143.0,599.9 1157.7,598.7 1172.4,597.4 1187.1,596.0 1188.9,615.1 1174.1,616.4 1159.3,617.7 1144.5,619.0 1129.7,620.1 1114.9,621.2 1100.1,622.2Z M1201.8,594.6 1216.4,593.0 1231.1,591.4 1245.7,589.7 1260.4,587.9 1275.0,586.1 1289.6,584.1 1292.2,603.1 1277.5,605.0 1262.8,606.9 1248.0,608.7 1233.2,610.4 1218.5,612.0 1203.7,613.6Z M1318.9,580.0 1333.5,577.8 1348.0,575.6 1362.6,573.2 1377.1,570.8 1391.7,568.3 1406.2,565.7 1420.7,563.0 1435.2,560.3 1449.7,557.5 1464.1,554.6 1468.0,573.3 1453.4,576.2 1438.8,579.1 1424.2,581.8 1409.6,584.5 1395.0,587.1 1380.3,589.6 1365.7,592.1 1351.0,594.4 1336.3,596.7 1321.6,598.9Z M1493.0,548.5 1507.4,545.4 1521.8,542.2 1536.2,538.9 1540.5,557.5 1526.1,560.8 1511.6,564.0 1497.0,567.2Z M965.9,589.1 980.6,588.8 995.2,588.5 1009.9,588.1 1024.5,587.6 1039.1,587.1 1039.9,606.2 1025.2,606.7 1010.5,607.2 995.7,607.6 981.0,608.0 966.2,608.2Z M1053.8,586.4 1068.4,585.7 1083.0,584.9 1084.1,604.0 1069.4,604.8 1054.7,605.5Z M1097.7,584.0 1112.3,583.0 1126.9,582.0 1141.5,580.9 1156.1,579.7 1170.7,578.4 1172.4,597.4 1157.7,598.7 1143.0,599.9 1128.3,601.1 1113.6,602.1 1098.9,603.1Z M1228.9,572.4 1243.5,570.7 1258.0,569.0 1272.6,567.1 1287.1,565.2 1289.6,584.1 1275.0,586.1 1260.4,587.9 1245.7,589.7 1231.1,591.4Z M1316.1,561.1 1330.6,558.9 1345.0,556.7 1359.5,554.4 1373.9,551.9 1388.4,549.5 1402.8,546.9 1417.2,544.2 1431.6,541.5 1446.0,538.7 1460.3,535.8 1474.7,532.9 1478.6,551.6 1464.1,554.6 1449.7,557.5 1435.2,560.3 1420.7,563.0 1406.2,565.7 1391.7,568.3 1377.1,570.8 1362.6,573.2 1348.0,575.6 1333.5,577.8 1318.9,580.0Z M1503.3,526.7 1517.6,523.5 1531.9,520.2 1536.2,538.9 1521.8,542.2 1507.4,545.4Z M965.7,570.0 980.2,569.7 994.8,569.4 1009.3,569.0 1023.8,568.5 1038.4,568.0 1052.9,567.3 1067.4,566.6 1081.9,565.8 1083.0,584.9 1068.4,585.7 1053.8,586.4 1039.1,587.1 1024.5,587.6 1009.9,588.1 995.2,588.5 980.6,588.8 965.9,589.1Z M1168.9,559.3 1183.4,558.0 1185.2,577.0 1170.7,578.4Z M1241.2,551.8 1255.7,550.0 1270.1,548.2 1284.5,546.2 1298.9,544.3 1313.3,542.2 1327.7,540.0 1342.1,537.8 1356.4,535.5 1370.8,533.1 1385.1,530.6 1388.4,549.5 1373.9,551.9 1359.5,554.4 1345.0,556.7 1330.6,558.9 1316.1,561.1 1301.6,563.2 1287.1,565.2 1272.6,567.1 1258.0,569.0 1243.5,570.7Z M1399.4,528.1 1413.7,525.5 1428.0,522.8 1442.3,520.0 1456.5,517.1 1470.8,514.2 1474.7,532.9 1460.3,535.8 1446.0,538.7 1431.6,541.5 1417.2,544.2 1402.8,546.9Z M1499.2,508.1 1513.4,504.9 1527.6,501.6 1541.7,498.3 1546.1,516.9 1531.9,520.2 1517.6,523.5 1503.3,526.7Z M821.1,548.9 835.5,549.4 834.8,568.5 820.3,568.0Z M965.4,550.8 979.9,550.6 994.3,550.3 1008.7,549.9 1023.1,549.4 1037.6,548.9 1052.0,548.2 1066.4,547.5 1080.8,546.7 1081.9,565.8 1067.4,566.6 1052.9,567.3 1038.4,568.0 1023.8,568.5 1009.3,569.0 994.8,569.4 980.2,569.7 965.7,570.0Z M1109.6,544.9 1124.0,543.9 1138.4,542.8 1140.0,561.8 1125.5,562.9 1111.0,564.0Z M1167.2,540.3 1181.6,538.9 1183.4,558.0 1168.9,559.3Z M1239.0,532.8 1253.3,531.0 1267.6,529.2 1281.9,527.3 1296.2,525.3 1310.5,523.3 1324.8,521.1 1339.1,518.9 1353.3,516.6 1367.6,514.2 1381.8,511.8 1396.0,509.3 1410.2,506.7 1413.7,525.5 1399.4,528.1 1385.1,530.6 1370.8,533.1 1356.4,535.5 1342.1,537.8 1327.7,540.0 1313.3,542.2 1298.9,544.3 1284.5,546.2 1270.1,548.2 1255.7,550.0 1241.2,551.8Z M1424.4,504.0 1438.6,501.2 1452.7,498.4 1456.5,517.1 1442.3,520.0 1428.0,522.8Z M1466.8,495.4 1481.0,492.5 1495.1,489.4 1499.2,508.1 1485.0,511.1 1470.8,514.2Z M1509.2,486.2 1523.2,483.0 1537.3,479.7 1541.7,498.3 1527.6,501.6 1513.4,504.9Z M736.0,524.8 750.3,525.8 764.6,526.8 763.4,545.8 749.0,544.9 734.6,543.9Z M965.2,531.7 979.5,531.5 993.8,531.2 1008.1,530.8 1022.5,530.3 1036.8,529.7 1051.1,529.1 1065.4,528.4 1079.7,527.6 1080.8,546.7 1066.4,547.5 1052.0,548.2 1037.6,548.9 1023.1,549.4 1008.7,549.9 994.3,550.3 979.9,550.6 965.4,550.8Z M1108.3,525.8 1122.6,524.8 1136.9,523.7 1138.4,542.8 1124.0,543.9 1109.6,544.9Z M1236.7,513.8 1250.9,512.0 1265.2,510.2 1279.4,508.3 1293.6,506.4 1307.7,504.3 1321.9,502.2 1336.1,500.0 1350.2,497.7 1364.4,495.4 1378.5,492.9 1392.6,490.4 1406.7,487.8 1420.8,485.2 1434.8,482.4 1448.9,479.6 1462.9,476.7 1476.9,473.7 1490.9,470.7 1504.9,467.6 1518.9,464.4 1532.8,461.1 1546.8,457.7 1560.7,454.3 1565.3,472.8 1551.3,476.3 1537.3,479.7 1523.2,483.0 1509.2,486.2 1495.1,489.4 1481.0,492.5 1466.8,495.4 1452.7,498.4 1438.6,501.2 1424.4,504.0 1410.2,506.7 1396.0,509.3 1381.8,511.8 1367.6,514.2 1353.3,516.6 1339.1,518.9 1324.8,521.1 1310.5,523.3 1296.2,525.3 1281.9,527.3 1267.6,529.2 1253.3,531.0 1239.0,532.8Z M737.5,505.7 751.7,506.7 765.9,507.7 764.6,526.8 750.3,525.8 736.0,524.8Z M1064.4,509.3 1078.6,508.5 1079.7,527.6 1065.4,528.4Z M1177.9,500.8 1192.0,499.4 1206.2,498.0 1220.3,496.4 1234.5,494.8 1236.7,513.8 1222.5,515.4 1208.2,517.0 1194.0,518.5 1179.7,519.9Z M1276.8,489.4 1290.9,487.4 1305.0,485.4 1319.0,483.3 1333.1,481.1 1347.1,478.8 1361.2,476.5 1375.2,474.1 1389.2,471.6 1403.2,469.0 1417.2,466.4 1431.1,463.7 1445.1,460.9 1448.9,479.6 1434.8,482.4 1420.8,485.2 1406.7,487.8 1392.6,490.4 1378.5,492.9 1364.4,495.4 1350.2,497.7 1336.1,500.0 1321.9,502.2 1307.7,504.3 1293.6,506.4 1279.4,508.3Z M1459.0,458.0 1472.9,455.0 1486.8,452.0 1500.7,448.9 1514.6,445.7 1528.4,442.5 1542.2,439.1 1556.1,435.7 1569.8,432.2 1574.6,450.8 1560.7,454.3 1546.8,457.7 1532.8,461.1 1518.9,464.4 1504.9,467.6 1490.9,470.7 1476.9,473.7 1462.9,476.7Z M1063.4,490.2 1077.5,489.4 1078.6,508.5 1064.4,509.3Z M1133.9,485.5 1147.9,484.3 1162.0,483.1 1176.0,481.8 1190.1,480.4 1204.1,478.9 1218.2,477.4 1232.2,475.7 1246.2,474.0 1248.6,493.0 1234.5,494.8 1220.3,496.4 1206.2,498.0 1192.0,499.4 1177.9,500.8 1163.7,502.2 1149.6,503.4 1135.4,504.6Z M1274.2,470.4 1288.2,468.5 1302.2,466.4 1316.1,464.4 1330.1,462.2 1344.0,459.9 1358.0,457.6 1371.9,455.2 1385.8,452.8 1399.7,450.2 1413.5,447.6 1427.4,444.9 1441.3,442.1 1455.1,439.2 1468.9,436.3 1482.7,433.3 1496.5,430.2 1510.2,427.1 1524.0,423.8 1537.7,420.5 1551.4,417.1 1565.1,413.7 1569.8,432.2 1556.1,435.7 1542.2,439.1 1528.4,442.5 1514.6,445.7 1500.7,448.9 1486.8,452.0 1472.9,455.0 1459.0,458.0 1445.1,460.9 1431.1,463.7 1417.2,466.4 1403.2,469.0 1389.2,471.6 1375.2,474.1 1361.2,476.5 1347.1,478.8 1333.1,481.1 1319.0,483.3 1305.0,485.4 1290.9,487.4 1276.8,489.4Z M852.3,473.3 866.3,473.7 880.3,474.0 894.3,474.3 894.0,493.4 879.9,493.2 865.8,492.9 851.7,492.5Z M1034.4,472.3 1048.4,471.7 1062.4,471.0 1076.4,470.3 1090.4,469.4 1104.4,468.5 1105.7,487.6 1091.6,488.5 1077.5,489.4 1063.4,490.2 1049.3,490.9 1035.2,491.5Z M1118.4,467.5 1132.3,466.4 1146.3,465.2 1160.3,464.0 1174.2,462.7 1188.2,461.3 1202.1,459.9 1216.0,458.3 1229.9,456.7 1243.9,455.0 1257.8,453.2 1271.6,451.4 1274.2,470.4 1260.2,472.2 1246.2,474.0 1232.2,475.7 1218.2,477.4 1204.1,478.9 1190.1,480.4 1176.0,481.8 1162.0,483.1 1147.9,484.3 1133.9,485.5 1119.8,486.6Z M1285.5,449.5 1299.4,447.5 1313.3,445.4 1327.1,443.3 1340.9,441.0 1354.8,438.7 1368.6,436.3 1382.4,433.9 1396.2,431.4 1409.9,428.8 1423.7,426.1 1437.4,423.3 1451.2,420.5 1464.9,417.6 1468.9,436.3 1455.1,439.2 1441.3,442.1 1427.4,444.9 1413.5,447.6 1399.7,450.2 1385.8,452.8 1371.9,455.2 1358.0,457.6 1344.0,459.9 1330.1,462.2 1316.1,464.4 1302.2,466.4 1288.2,468.5Z M1478.6,414.6 1492.2,411.5 1496.5,430.2 1482.7,433.3Z M1546.8,398.5 1560.3,395.1 1573.9,391.6 1587.5,388.0 1592.4,406.5 1578.8,410.1 1565.1,413.7 1551.4,417.1Z M182.6,342.5 195.9,346.6 190.3,364.9 176.9,360.8Z M811.2,452.6 825.0,453.2 838.9,453.7 852.8,454.2 866.7,454.6 880.7,454.9 880.3,474.0 866.3,473.7 852.3,473.3 838.3,472.9 824.3,472.3 810.3,471.7Z M1033.6,453.2 1047.5,452.6 1061.4,451.9 1075.3,451.1 1089.2,450.3 1103.1,449.3 1116.9,448.4 1130.8,447.3 1144.7,446.1 1158.5,444.9 1172.4,443.6 1186.2,442.2 1200.0,440.8 1213.9,439.3 1227.7,437.7 1241.5,436.0 1255.3,434.2 1269.1,432.4 1282.8,430.5 1296.6,428.5 1310.4,426.4 1324.1,424.3 1337.8,422.1 1351.6,419.8 1365.3,417.5 1379.0,415.0 1392.6,412.5 1406.3,409.9 1420.0,407.3 1433.6,404.5 1447.2,401.7 1460.8,398.8 1474.4,395.9 1478.6,414.6 1464.9,417.6 1451.2,420.5 1437.4,423.3 1423.7,426.1 1409.9,428.8 1396.2,431.4 1382.4,433.9 1368.6,436.3 1354.8,438.7 1340.9,441.0 1327.1,443.3 1313.3,445.4 1299.4,447.5 1285.5,449.5 1271.6,451.4 1257.8,453.2 1243.9,455.0 1229.9,456.7 1216.0,458.3 1202.1,459.9 1188.2,461.3 1174.2,462.7 1160.3,464.0 1146.3,465.2 1132.3,466.4 1118.4,467.5 1104.4,468.5 1090.4,469.4 1076.4,470.3 1062.4,471.0 1048.4,471.7 1034.4,472.3Z M1542.1,379.9 1555.6,376.5 1569.1,373.0 1582.5,369.5 1595.9,365.9 1609.3,362.1 1622.7,358.4 1628.0,376.8 1614.5,380.6 1601.0,384.4 1587.5,388.0 1573.9,391.6 1560.3,395.1 1546.8,398.5Z M161.9,315.9 175.1,320.1 188.3,324.2 182.6,342.5 169.3,338.4 156.1,334.2Z M784.5,431.9 798.3,432.7 812.0,433.4 825.8,434.0 825.0,453.2 811.2,452.6 797.3,451.9 783.4,451.1Z M922.4,436.1 936.2,436.1 950.0,436.0 963.8,435.9 964.1,455.1 950.2,455.2 936.3,455.3 922.4,455.3Z M1032.8,434.0 1046.6,433.4 1060.4,432.7 1074.2,431.9 1088.0,431.1 1101.7,430.2 1115.5,429.2 1129.3,428.2 1143.0,427.0 1156.8,425.8 1170.5,424.5 1184.3,423.1 1198.0,421.7 1211.7,420.2 1225.4,418.6 1239.1,416.9 1252.8,415.2 1266.5,413.4 1280.2,411.5 1293.8,409.5 1307.5,407.5 1321.1,405.4 1334.7,403.2 1348.4,400.9 1362.0,398.5 1375.6,396.1 1389.1,393.6 1402.7,391.1 1416.2,388.4 1429.8,385.7 1443.3,382.9 1456.8,380.1 1470.3,377.1 1483.7,374.1 1497.2,371.0 1510.6,367.9 1515.1,386.5 1501.5,389.7 1488.0,392.8 1474.4,395.9 1460.8,398.8 1447.2,401.7 1433.6,404.5 1420.0,407.3 1406.3,409.9 1392.6,412.5 1379.0,415.0 1365.3,417.5 1351.6,419.8 1337.8,422.1 1324.1,424.3 1310.4,426.4 1296.6,428.5 1282.8,430.5 1269.1,432.4 1255.3,434.2 1241.5,436.0 1227.7,437.7 1213.9,439.3 1200.0,440.8 1186.2,442.2 1172.4,443.6 1158.5,444.9 1144.7,446.1 1130.8,447.3 1116.9,448.4 1103.1,449.3 1089.2,450.3 1075.3,451.1 1061.4,451.9 1047.5,452.6 1033.6,453.2Z M1537.5,361.3 1550.8,357.9 1564.2,354.5 1577.5,350.9 1590.9,347.3 1604.2,343.7 1617.5,339.9 1630.7,336.1 1636.1,354.5 1622.7,358.4 1609.3,362.1 1595.9,365.9 1582.5,369.5 1569.1,373.0 1555.6,376.5 1542.1,379.9Z M180.9,301.7 194.0,305.8 207.1,309.8 201.5,328.2 188.3,324.2 175.1,320.1Z M392.5,358.4 405.9,361.3 401.9,380.1 388.4,377.1Z M785.6,412.8 799.3,413.5 812.9,414.2 826.6,414.8 825.8,434.0 812.0,433.4 798.3,432.7 784.5,431.9Z M1032.0,414.8 1045.7,414.2 1059.4,413.5 1073.1,412.8 1086.7,411.9 1100.4,411.0 1114.1,410.1 1127.7,409.0 1141.4,407.9 1155.0,406.7 1168.7,405.4 1182.3,404.0 1195.9,402.6 1209.5,401.1 1223.1,399.5 1236.7,397.9 1250.3,396.1 1263.9,394.3 1277.5,392.5 1291.0,390.5 1304.6,388.5 1318.1,386.4 1331.6,384.2 1345.2,381.9 1358.6,379.6 1372.1,377.2 1385.6,374.7 1399.1,372.2 1412.5,369.6 1425.9,366.9 1439.4,364.1 1452.8,361.3 1466.1,358.4 1479.5,355.4 1492.9,352.3 1506.2,349.2 1519.5,346.0 1532.8,342.7 1546.1,339.3 1550.8,357.9 1537.5,361.3 1524.1,364.6 1510.6,367.9 1497.2,371.0 1483.7,374.1 1470.3,377.1 1456.8,380.1 1443.3,382.9 1429.8,385.7 1416.2,388.4 1402.7,391.1 1389.1,393.6 1375.6,396.1 1362.0,398.5 1348.4,400.9 1334.7,403.2 1321.1,405.4 1307.5,407.5 1293.8,409.5 1280.2,411.5 1266.5,413.4 1252.8,415.2 1239.1,416.9 1225.4,418.6 1211.7,420.2 1198.0,421.7 1184.3,423.1 1170.5,424.5 1156.8,425.8 1143.0,427.0 1129.3,428.2 1115.5,429.2 1101.7,430.2 1088.0,431.1 1074.2,431.9 1060.4,432.7 1046.6,433.4 1032.8,434.0Z M1559.3,335.9 1572.6,332.4 1585.8,328.8 1599.0,325.2 1612.2,321.4 1625.4,317.6 1630.7,336.1 1617.5,339.9 1604.2,343.7 1590.9,347.3 1577.5,350.9 1564.2,354.5Z M990.5,396.9 1004.1,396.6 1004.7,415.8 991.0,416.2Z M1017.7,396.1 1031.2,395.6 1044.8,395.0 1045.7,414.2 1032.0,414.8 1018.3,415.3Z M1058.4,394.3 1072.0,393.6 1085.5,392.7 1099.1,391.8 1100.4,411.0 1086.7,411.9 1073.1,412.8 1059.4,413.5Z M1180.3,384.9 1193.9,383.5 1207.4,382.0 1220.9,380.4 1234.4,378.8 1247.8,377.1 1261.3,375.3 1274.8,373.4 1288.2,371.5 1291.0,390.5 1277.5,392.5 1263.9,394.3 1250.3,396.1 1236.7,397.9 1223.1,399.5 1209.5,401.1 1195.9,402.6 1182.3,404.0Z M1355.3,360.7 1368.7,358.3 1382.1,355.8 1395.4,353.3 1408.8,350.7 1422.1,348.0 1435.4,345.3 1439.4,364.1 1425.9,366.9 1412.5,369.6 1399.1,372.2 1385.6,374.7 1372.1,377.2 1358.6,379.6Z M1448.7,342.5 1462.0,339.6 1475.3,336.6 1488.5,333.6 1501.7,330.5 1514.9,327.3 1528.1,324.0 1541.3,320.7 1554.5,317.3 1567.6,313.8 1580.7,310.3 1593.8,306.6 1606.9,302.9 1620.0,299.2 1625.4,317.6 1612.2,321.4 1599.0,325.2 1585.8,328.8 1572.6,332.4 1559.3,335.9 1546.1,339.3 1532.8,342.7 1519.5,346.0 1506.2,349.2 1492.9,352.3 1479.5,355.4 1466.1,358.4 1452.8,361.3Z M801.3,375.1 814.7,375.8 828.2,376.3 841.7,376.9 855.2,377.3 854.6,396.6 841.0,396.1 827.4,395.6 813.8,395.0 800.3,394.3Z M990.0,377.7 1003.5,377.3 1004.1,396.6 990.5,396.9Z M1017.0,376.9 1030.4,376.3 1043.9,375.8 1057.4,375.1 1070.9,374.3 1084.3,373.5 1097.8,372.6 1099.1,391.8 1085.5,392.7 1072.0,393.6 1058.4,394.3 1044.8,395.0 1031.2,395.6 1017.7,396.1Z M1352.0,341.7 1365.3,339.4 1378.6,336.9 1391.8,334.4 1405.0,331.8 1418.3,329.2 1431.5,326.4 1444.7,323.6 1457.8,320.8 1471.0,317.8 1484.1,314.8 1497.3,311.7 1510.4,308.6 1523.5,305.3 1536.5,302.0 1549.6,298.7 1562.6,295.2 1575.7,291.7 1588.7,288.1 1601.6,284.4 1614.6,280.7 1627.5,276.9 1633.0,295.3 1620.0,299.2 1606.9,302.9 1593.8,306.6 1580.7,310.3 1567.6,313.8 1554.5,317.3 1541.3,320.7 1528.1,324.0 1514.9,327.3 1501.7,330.5 1488.5,333.6 1475.3,336.6 1462.0,339.6 1448.7,342.5 1435.4,345.3 1422.1,348.0 1408.8,350.7 1395.4,353.3 1382.1,355.8 1368.7,358.3 1355.3,360.7Z M339.9,286.6 352.9,289.8 348.3,308.6 335.2,305.3Z M391.9,299.0 405.0,302.0 418.1,304.8 414.0,323.6 400.8,320.8 387.7,317.8Z M431.1,307.6 444.2,310.3 457.4,312.9 470.5,315.5 466.9,334.4 453.6,331.8 440.4,329.2 427.2,326.4Z M802.3,355.8 815.6,356.5 829.0,357.1 842.4,357.6 855.8,358.0 855.2,377.3 841.7,376.9 828.2,376.3 814.7,375.8 801.3,375.1Z M989.5,358.4 1002.9,358.0 1003.5,377.3 990.0,377.7Z M1043.0,356.5 1056.4,355.8 1057.4,375.1 1043.9,375.8Z M1361.9,320.4 1375.0,318.0 1388.2,315.5 1401.3,312.9 1414.4,310.3 1427.5,307.6 1431.5,326.4 1418.3,329.2 1405.0,331.8 1391.8,334.4 1378.6,336.9 1365.3,339.4Z M1479.8,296.0 1492.8,293.0 1505.8,289.8 1518.8,286.6 1531.8,283.4 1544.7,280.0 1557.7,276.6 1570.6,273.1 1583.5,269.5 1596.3,265.9 1609.2,262.2 1622.0,258.4 1627.5,276.9 1614.6,280.7 1601.6,284.4 1588.7,288.1 1575.7,291.7 1562.6,295.2 1549.6,298.7 1536.5,302.0 1523.5,305.3 1510.4,308.6 1497.3,311.7 1484.1,314.8Z M422.1,285.9 435.1,288.7 448.1,291.4 461.1,294.0 474.1,296.5 470.5,315.5 457.4,312.9 444.2,310.3 431.1,307.6 418.1,304.8Z M803.3,336.6 816.5,337.2 829.8,337.8 843.1,338.3 842.4,357.6 829.0,357.1 815.6,356.5 802.3,355.8Z M922.7,339.9 936.0,339.9 936.0,359.2 922.6,359.2Z M1028.9,337.8 1042.1,337.2 1043.0,356.5 1029.7,357.1Z M1068.6,335.8 1081.9,335.0 1095.1,334.2 1096.4,353.4 1083.1,354.3 1069.7,355.1Z M1358.4,301.4 1371.5,299.0 1384.5,296.5 1397.6,294.0 1410.6,291.4 1423.6,288.7 1436.6,285.9 1449.5,283.1 1462.5,280.2 1475.4,277.2 1488.3,274.2 1501.2,271.1 1514.1,267.9 1527.0,264.7 1539.8,261.3 1552.7,257.9 1565.5,254.5 1578.3,250.9 1591.1,247.3 1603.8,243.7 1616.5,239.9 1622.0,258.4 1609.2,262.2 1596.3,265.9 1583.5,269.5 1570.6,273.1 1557.7,276.6 1544.7,280.0 1531.8,283.4 1518.8,286.6 1505.8,289.8 1492.8,293.0 1479.8,296.0 1466.7,299.0 1453.7,302.0 1440.6,304.8 1427.5,307.6 1414.4,310.3 1401.3,312.9 1388.2,315.5 1375.0,318.0 1361.9,320.4Z M1654.6,228.3 1667.3,224.2 1673.2,242.6 1660.4,246.7Z M426.2,267.0 439.1,269.8 452.0,272.4 464.9,275.0 477.8,277.6 474.1,296.5 461.1,294.0 448.1,291.4 435.1,288.7 422.1,285.9Z M751.7,313.9 764.9,314.9 763.5,334.2 750.3,333.2Z M791.2,316.5 804.3,317.3 803.3,336.6 790.0,335.8Z M1355.0,282.4 1367.9,280.0 1380.9,277.6 1393.8,275.0 1406.7,272.4 1419.6,269.8 1432.5,267.0 1445.4,264.2 1458.2,261.4 1471.0,258.4 1483.9,255.4 1496.7,252.3 1509.4,249.2 1514.1,267.9 1501.2,271.1 1488.3,274.2 1475.4,277.2 1462.5,280.2 1449.5,283.1 1436.6,285.9 1423.6,288.7 1410.6,291.4 1397.6,294.0 1384.5,296.5 1371.5,299.0 1358.4,301.4Z M1522.2,245.9 1535.0,242.6 1547.7,239.3 1560.4,235.8 1573.1,232.3 1585.8,228.7 1598.4,225.1 1603.8,243.7 1591.1,247.3 1578.3,250.9 1565.5,254.5 1552.7,257.9 1539.8,261.3 1527.0,264.7Z M1014.2,299.7 1027.3,299.2 1040.3,298.6 1053.4,297.9 1054.4,317.3 1041.2,317.9 1028.1,318.5 1014.9,319.0Z M1415.6,250.8 1428.4,248.1 1441.2,245.3 1453.9,242.5 1458.2,261.4 1445.4,264.2 1432.5,267.0 1419.6,269.8Z M1466.7,239.6 1479.4,236.6 1492.1,233.5 1504.7,230.4 1517.4,227.2 1530.1,223.9 1542.7,220.6 1555.3,217.2 1567.9,213.7 1580.4,210.1 1585.8,228.7 1573.1,232.3 1560.4,235.8 1547.7,239.3 1535.0,242.6 1522.2,245.9 1509.4,249.2 1496.7,252.3 1483.9,255.4 1471.0,258.4Z M1449.6,223.6 1462.3,220.7 1474.9,217.7 1487.5,214.7 1500.0,211.6 1512.6,208.4 1525.2,205.2 1530.1,223.9 1517.4,227.2 1504.7,230.4 1492.1,233.5 1479.4,236.6 1466.7,239.6 1453.9,242.5Z M1661.8,165.0 1674.1,160.9 1680.3,179.3 1667.9,183.4Z M1075.7,238.3 1088.5,237.5 1089.8,256.9 1077.0,257.7Z M1265.8,218.4 1278.4,216.5 1290.9,214.5 1303.5,212.5 1306.7,231.7 1294.0,233.7 1281.3,235.7 1268.6,237.6Z M1074.5,218.9 1087.1,218.0 1088.5,237.5 1075.7,238.3Z M1262.9,199.1 1275.4,197.2 1287.9,195.3 1300.4,193.3 1303.5,212.5 1290.9,214.5 1278.4,216.5 1265.8,218.4Z M1198.0,188.0 1210.4,186.5 1212.9,205.9 1200.3,207.4Z M1247.7,181.6 1260.1,179.8 1272.5,177.9 1275.4,197.2 1262.9,199.1 1250.4,200.9Z M1245.0,162.2 1257.3,160.4 1269.5,158.6 1272.5,177.9 1260.1,179.8 1247.7,181.6Z M1278.7,137.4 1290.9,135.4 1294.1,154.7 1281.8,156.7Z M1069.6,140.7 1081.7,139.9 1093.9,139.0 1095.4,158.6 1083.1,159.5 1070.8,160.3Z M1056.2,121.8 1068.3,121.1 1069.6,140.7 1057.4,141.5Z" fill="#fff5eb" stroke="#fff5eb" stroke-width="0.6"/>
<path d="M1693.5,1299.6 1712.0,1295.3 1730.5,1290.9 1749.0,1286.5 1767.5,1281.9 1772.4,1301.4 1753.8,1306.0 1735.2,1310.5 1716.6,1314.9 1697.9,1319.2Z M1596.5,1299.6 1615.1,1295.9 1619.1,1315.6 1600.4,1319.3Z M1633.6,1292.1 1652.1,1288.1 1670.6,1284.1 1689.0,1280.0 1693.5,1299.6 1674.9,1303.7 1656.3,1307.8 1637.7,1311.7Z M1707.5,1275.8 1725.9,1271.4 1744.3,1267.0 1749.0,1286.5 1730.5,1290.9 1712.0,1295.3Z M1762.6,1262.5 1781.0,1257.8 1785.9,1277.3 1767.5,1281.9Z M1481.6,1300.1 1500.2,1297.0 1518.7,1293.8 1537.2,1290.5 1555.7,1287.1 1574.2,1283.6 1592.6,1280.0 1611.1,1276.3 1629.5,1272.5 1633.6,1292.1 1615.1,1295.9 1596.5,1299.6 1578.0,1303.2 1559.4,1306.8 1540.8,1310.2 1522.1,1313.5 1503.5,1316.7 1484.8,1319.8Z M1721.2,1252.0 1739.5,1247.6 1744.3,1267.0 1725.9,1271.4Z M1496.8,1277.3 1515.2,1274.1 1533.7,1270.8 1552.0,1267.5 1570.4,1264.0 1574.2,1283.6 1555.7,1287.1 1537.2,1290.5 1518.7,1293.8 1500.2,1297.0Z M1680.2,1241.0 1698.4,1236.8 1716.6,1232.5 1721.2,1252.0 1702.9,1256.3 1684.6,1260.5Z M1217.0,1292.8 1235.6,1291.2 1254.1,1289.4 1272.6,1287.6 1291.0,1285.7 1309.5,1283.6 1328.0,1281.5 1346.4,1279.2 1348.9,1299.0 1330.3,1301.3 1311.7,1303.4 1293.2,1305.5 1274.6,1307.4 1256.0,1309.3 1237.4,1311.0 1218.7,1312.7Z M1621.3,1233.4 1639.5,1229.6 1657.7,1225.6 1675.8,1221.6 1693.9,1217.4 1712.0,1213.2 1730.1,1208.8 1734.8,1228.2 1716.6,1232.5 1698.4,1236.8 1680.2,1241.0 1661.9,1245.1 1643.7,1249.1 1625.4,1252.9Z M1766.1,1199.8 1784.1,1195.1 1789.1,1214.4 1771.1,1219.1Z M827.7,1283.7 846.2,1284.2 864.7,1284.6 864.3,1304.5 845.7,1304.1 827.1,1303.5Z M1012.5,1284.2 1030.9,1283.7 1049.4,1283.1 1050.1,1302.9 1031.5,1303.5 1013.0,1304.1Z M1215.3,1273.0 1233.8,1271.4 1252.1,1269.7 1270.5,1267.8 1288.9,1265.9 1291.0,1285.7 1272.6,1287.6 1254.1,1289.4 1235.6,1291.2 1217.0,1292.8Z M1617.2,1214.0 1635.3,1210.2 1653.4,1206.2 1671.4,1202.2 1689.4,1198.1 1707.4,1193.8 1725.3,1189.5 1730.1,1208.8 1712.0,1213.2 1693.9,1217.4 1675.8,1221.6 1657.7,1225.6 1639.5,1229.6 1621.3,1233.4Z M1743.3,1185.1 1761.2,1180.5 1779.1,1175.9 1784.1,1195.1 1766.1,1199.8 1748.1,1204.3Z M956.9,1265.3 975.2,1265.1 993.6,1264.8 1012.0,1264.4 1030.3,1263.9 1048.7,1263.3 1067.0,1262.6 1085.4,1261.7 1103.7,1260.8 1122.1,1259.8 1140.4,1258.7 1158.7,1257.5 1177.0,1256.2 1195.4,1254.8 1213.7,1253.3 1215.3,1273.0 1196.9,1274.5 1178.5,1276.0 1160.1,1277.3 1141.7,1278.5 1123.2,1279.6 1104.8,1280.6 1086.3,1281.5 1067.9,1282.4 1049.4,1283.1 1030.9,1283.7 1012.5,1284.2 994.0,1284.6 975.5,1284.9 957.0,1285.1Z M1631.1,1190.8 1649.1,1186.9 1667.0,1182.9 1684.9,1178.8 1702.8,1174.5 1720.6,1170.2 1738.5,1165.8 1756.3,1161.3 1774.1,1156.7 1779.1,1175.9 1761.2,1180.5 1743.3,1185.1 1725.3,1189.5 1707.4,1193.8 1689.4,1198.1 1671.4,1202.2 1653.4,1206.2 1635.3,1210.2Z M956.7,1245.5 975.0,1245.3 993.2,1245.0 1011.5,1244.6 1029.7,1244.1 1048.0,1243.5 1066.2,1242.8 1084.5,1242.0 1102.7,1241.1 1120.9,1240.1 1139.1,1239.0 1157.4,1237.8 1175.6,1236.5 1193.8,1235.1 1212.0,1233.6 1213.7,1253.3 1195.4,1254.8 1177.0,1256.2 1158.7,1257.5 1140.4,1258.7 1122.1,1259.8 1103.7,1260.8 1085.4,1261.7 1067.0,1262.6 1048.7,1263.3 1030.3,1263.9 1012.0,1264.4 993.6,1264.8 975.2,1265.1 956.9,1265.3Z M1627.0,1171.4 1644.8,1167.6 1662.6,1163.6 1680.4,1159.5 1698.2,1155.3 1716.0,1151.0 1733.7,1146.6 1738.5,1165.8 1720.6,1170.2 1702.8,1174.5 1684.9,1178.8 1667.0,1182.9 1649.1,1186.9 1631.1,1190.8Z M956.6,1225.8 974.7,1225.6 992.8,1225.3 1011.0,1224.9 1029.1,1224.4 1047.3,1223.8 1065.4,1223.1 1083.5,1222.3 1101.7,1221.4 1119.8,1220.4 1137.9,1219.3 1156.0,1218.1 1174.1,1216.8 1192.2,1215.4 1210.3,1213.9 1212.0,1233.6 1193.8,1235.1 1175.6,1236.5 1157.4,1237.8 1139.1,1239.0 1120.9,1240.1 1102.7,1241.1 1084.5,1242.0 1066.2,1242.8 1048.0,1243.5 1029.7,1244.1 1011.5,1244.6 993.2,1245.0 975.0,1245.3 956.7,1245.5Z M1622.8,1152.1 1640.6,1148.3 1658.3,1144.3 1676.0,1140.3 1693.6,1136.1 1711.3,1131.9 1728.9,1127.5 1746.5,1123.1 1764.1,1118.5 1781.6,1113.9 1786.7,1132.9 1769.1,1137.6 1751.4,1142.2 1733.7,1146.6 1716.0,1151.0 1698.2,1155.3 1680.4,1159.5 1662.6,1163.6 1644.8,1167.6 1627.0,1171.4Z M956.4,1206.1 974.4,1205.9 992.5,1205.6 1010.5,1205.2 1028.5,1204.7 1046.6,1204.1 1064.6,1203.4 1082.6,1202.6 1100.6,1201.7 1118.6,1200.7 1136.7,1199.6 1154.7,1198.4 1172.7,1197.1 1190.6,1195.8 1208.6,1194.3 1226.6,1192.7 1228.4,1212.3 1210.3,1213.9 1192.2,1215.4 1174.1,1216.8 1156.0,1218.1 1137.9,1219.3 1119.8,1220.4 1101.7,1221.4 1083.5,1222.3 1065.4,1223.1 1047.3,1223.8 1029.1,1224.4 1011.0,1224.9 992.8,1225.3 974.7,1225.6 956.6,1225.8Z M1618.7,1132.9 1636.3,1129.1 1653.9,1125.1 1671.5,1121.1 1689.1,1116.9 1706.6,1112.7 1724.1,1108.4 1741.6,1104.0 1759.1,1099.5 1776.5,1094.8 1781.6,1113.9 1764.1,1118.5 1746.5,1123.1 1728.9,1127.5 1711.3,1131.9 1693.6,1136.1 1676.0,1140.3 1658.3,1144.3 1640.6,1148.3 1622.8,1152.1Z M920.4,1186.5 938.3,1186.5 956.2,1186.4 974.2,1186.2 992.1,1185.9 1010.0,1185.5 1027.9,1185.0 1045.9,1184.4 1063.8,1183.8 1081.7,1183.0 1099.6,1182.1 1117.5,1181.1 1135.4,1180.0 1153.3,1178.8 1171.2,1177.5 1189.1,1176.2 1206.9,1174.7 1224.8,1173.1 1226.6,1192.7 1208.6,1194.3 1190.6,1195.8 1172.7,1197.1 1154.7,1198.4 1136.7,1199.6 1118.6,1200.7 1100.6,1201.7 1082.6,1202.6 1064.6,1203.4 1046.6,1204.1 1028.5,1204.7 1010.5,1205.2 992.5,1205.6 974.4,1205.9 956.4,1206.1 938.4,1206.2 920.3,1206.2Z M1632.1,1109.9 1649.6,1105.9 1667.1,1101.9 1684.5,1097.8 1701.9,1093.6 1719.4,1089.3 1736.7,1084.9 1754.1,1080.4 1771.4,1075.9 1776.5,1094.8 1759.1,1099.5 1741.6,1104.0 1724.1,1108.4 1706.6,1112.7 1689.1,1116.9 1671.5,1121.1 1653.9,1125.1 1636.3,1129.1Z M920.4,1166.9 938.2,1166.9 956.1,1166.8 973.9,1166.6 991.7,1166.3 1009.5,1165.9 1027.4,1165.4 1045.2,1164.8 1063.0,1164.1 1080.8,1163.4 1098.6,1162.5 1116.4,1161.5 1134.2,1160.4 1152.0,1159.2 1169.7,1158.0 1187.5,1156.6 1205.3,1155.1 1223.0,1153.6 1224.8,1173.1 1206.9,1174.7 1189.1,1176.2 1171.2,1177.5 1153.3,1178.8 1135.4,1180.0 1117.5,1181.1 1099.6,1182.1 1081.7,1183.0 1063.8,1183.8 1045.9,1184.4 1027.9,1185.0 1010.0,1185.5 992.1,1185.9 974.2,1186.2 956.2,1186.4 938.3,1186.5 920.4,1186.5Z M1697.3,1074.6 1714.6,1070.3 1731.9,1065.9 1749.1,1061.5 1754.1,1080.4 1736.7,1084.9 1719.4,1089.3 1701.9,1093.6Z M920.5,1147.3 938.2,1147.3 955.9,1147.2 973.6,1147.0 991.3,1146.7 1009.0,1146.3 1026.8,1145.9 1044.5,1145.3 1062.2,1144.6 1079.9,1143.8 1097.6,1142.9 1115.3,1142.0 1132.9,1140.9 1150.6,1139.7 1168.3,1138.4 1185.9,1137.1 1187.5,1156.6 1169.7,1158.0 1152.0,1159.2 1134.2,1160.4 1116.4,1161.5 1098.6,1162.5 1080.8,1163.4 1063.0,1164.1 1045.2,1164.8 1027.4,1165.4 1009.5,1165.9 991.7,1166.3 973.9,1166.6 956.1,1166.8 938.2,1166.9 920.4,1166.9Z M1692.7,1055.5 1709.9,1051.3 1727.0,1047.0 1744.2,1042.5 1761.3,1038.0 1766.4,1056.9 1749.1,1061.5 1731.9,1065.9 1714.6,1070.3 1697.3,1074.6Z M832.5,1126.3 850.1,1126.8 867.7,1127.2 867.3,1146.7 849.6,1146.3 831.9,1145.9Z M1079.0,1124.3 1096.5,1123.4 1114.1,1122.4 1131.7,1121.4 1149.3,1120.2 1166.8,1119.0 1184.4,1117.6 1201.9,1116.2 1203.6,1135.6 1185.9,1137.1 1168.3,1138.4 1150.6,1139.7 1132.9,1140.9 1115.3,1142.0 1097.6,1142.9 1079.9,1143.8Z M1722.2,1028.0 1739.2,1023.6 1744.2,1042.5 1727.0,1047.0Z M798.1,1105.6 815.6,1106.2 833.1,1106.8 850.6,1107.3 868.1,1107.7 867.7,1127.2 850.1,1126.8 832.5,1126.3 814.9,1125.7 797.3,1125.1Z M1078.0,1104.8 1095.5,1103.9 1113.0,1103.0 1130.5,1101.9 1147.9,1100.8 1165.4,1099.5 1182.8,1098.2 1200.3,1096.7 1201.9,1116.2 1184.4,1117.6 1166.8,1119.0 1149.3,1120.2 1131.7,1121.4 1114.1,1122.4 1096.5,1123.4 1079.0,1124.3Z M1356.8,1079.4 1374.2,1077.0 1391.5,1074.5 1394.3,1093.8 1376.9,1096.3 1359.4,1098.7Z M798.9,1086.1 816.3,1086.8 833.7,1087.3 851.1,1087.8 868.5,1088.2 868.1,1107.7 850.6,1107.3 833.1,1106.8 815.6,1106.2 798.1,1105.6Z M1007.6,1087.8 1025.0,1087.3 1042.4,1086.8 1059.8,1086.1 1060.6,1105.6 1043.1,1106.2 1025.6,1106.8 1008.1,1107.3Z M1077.1,1085.3 1094.5,1084.5 1111.9,1083.5 1129.2,1082.5 1130.5,1101.9 1113.0,1103.0 1095.5,1103.9 1078.0,1104.8Z M1337.0,1062.4 1354.2,1060.1 1356.8,1079.4 1339.5,1081.7Z M1474.5,1041.4 1491.6,1038.4 1495.1,1057.6 1477.9,1060.6Z M799.7,1066.7 817.0,1067.3 834.3,1067.9 851.5,1068.4 868.8,1068.8 868.5,1088.2 851.1,1087.8 833.7,1087.3 816.3,1086.8 798.9,1086.1Z M989.8,1068.8 1007.1,1068.4 1024.4,1067.9 1041.7,1067.3 1059.0,1066.7 1076.2,1065.9 1093.5,1065.1 1110.7,1064.1 1128.0,1063.1 1129.2,1082.5 1111.9,1083.5 1094.5,1084.5 1077.1,1085.3 1059.8,1086.1 1042.4,1086.8 1025.0,1087.3 1007.6,1087.8 990.2,1088.2Z M1334.5,1043.1 1351.6,1040.8 1354.2,1060.1 1337.0,1062.4Z M1522.2,1012.9 1539.1,1009.6 1542.9,1028.7 1525.8,1032.0Z M1707.7,971.4 1724.5,967.1 1729.4,985.9 1712.5,990.2Z M800.5,1047.3 817.7,1047.9 834.9,1048.5 852.0,1049.0 869.2,1049.4 868.8,1068.8 851.5,1068.4 834.3,1067.9 817.0,1067.3 799.7,1066.7Z M989.5,1049.4 1006.6,1049.0 1023.8,1048.5 1024.4,1067.9 1007.1,1068.4 989.8,1068.8Z M1041.0,1047.9 1058.1,1047.3 1075.3,1046.5 1076.2,1065.9 1059.0,1066.7 1041.7,1067.3Z M1280.8,1030.1 1297.9,1028.1 1300.1,1047.4 1283.0,1049.4Z M1467.8,1003.1 1484.7,1000.1 1488.2,1019.2 1471.2,1022.3Z M1719.5,948.3 1736.1,943.9 1752.7,939.4 1769.3,934.8 1774.5,953.5 1757.9,958.1 1741.2,962.7 1724.5,967.1Z M989.1,1030.0 1006.2,1029.6 1023.2,1029.1 1040.3,1028.6 1057.4,1027.9 1074.4,1027.1 1075.3,1046.5 1058.1,1047.3 1041.0,1047.9 1023.8,1048.5 1006.6,1049.0 989.5,1049.4Z M1731.1,925.2 1747.6,920.7 1764.1,916.2 1769.3,934.8 1752.7,939.4 1736.1,943.9Z M988.7,1010.6 1005.7,1010.2 1006.2,1029.6 989.1,1030.0Z M1444.4,967.9 1461.1,965.0 1464.5,984.1 1447.6,986.9Z M937.8,991.8 954.6,991.7 971.5,991.6 988.3,991.3 1005.2,990.9 1005.7,1010.2 988.7,1010.6 971.7,1010.9 954.8,1011.1 937.8,1011.2Z M1753.7,878.9 1769.9,874.3 1775.2,892.9 1758.9,897.5Z M787.0,969.2 803.7,969.9 820.5,970.6 837.2,971.1 836.6,990.4 819.8,989.9 802.9,989.2 786.1,988.5Z M887.4,972.2 904.2,972.4 921.0,972.5 920.9,991.8 904.0,991.7 887.2,991.6Z M954.5,972.4 971.2,972.2 988.0,972.0 1004.7,971.6 1005.2,990.9 988.3,991.3 971.5,991.6 954.6,991.7Z M1038.2,970.6 1055.0,969.9 1071.7,969.2 1072.6,988.5 1055.8,989.2 1038.9,989.9Z M1421.4,932.5 1438.0,929.8 1441.2,948.8 1424.5,951.6Z M1716.1,869.1 1732.3,864.8 1748.5,860.3 1764.6,855.7 1769.9,874.3 1753.7,878.9 1737.4,883.4 1721.1,887.8Z M688.2,943.6 704.8,944.9 721.4,946.1 720.1,965.3 703.4,964.1 686.6,962.8Z M887.7,953.0 904.4,953.1 921.0,953.2 921.0,972.5 904.2,972.4 887.4,972.2Z M954.3,953.1 971.0,953.0 987.6,952.7 1004.2,952.3 1004.7,971.6 988.0,972.0 971.2,972.2 954.5,972.4Z M1418.3,913.5 1434.7,910.7 1438.0,929.8 1421.4,932.5Z M871.4,933.4 888.0,933.7 904.5,933.9 921.1,934.0 937.6,934.0 954.1,933.9 970.7,933.7 987.2,933.4 1003.8,933.1 1020.3,932.6 1036.8,932.1 1053.4,931.4 1069.9,930.7 1086.4,929.9 1102.9,929.0 1104.0,948.2 1087.4,949.1 1070.8,949.9 1054.2,950.7 1037.5,951.3 1020.9,951.9 1004.2,952.3 987.6,952.7 971.0,953.0 954.3,953.1 937.7,953.2 921.0,953.2 904.4,953.1 887.7,953.0 871.1,952.7Z M1119.4,928.0 1136.0,926.9 1152.5,925.7 1168.9,924.4 1170.5,943.6 1153.9,944.9 1137.3,946.1 1120.7,947.2Z M740.4,908.8 756.8,909.8 755.7,929.0 739.2,928.0Z M871.8,914.2 888.2,914.5 904.7,914.6 921.1,914.7 937.6,914.7 937.6,934.0 921.1,934.0 904.5,933.9 888.0,933.7 871.4,933.4Z M954.0,914.6 970.4,914.5 986.9,914.2 1003.3,913.8 1019.7,913.4 1036.1,912.8 1036.8,932.1 1020.3,932.6 1003.8,933.1 987.2,933.4 970.7,933.7 954.1,933.9Z M1052.6,912.2 1069.0,911.5 1085.4,910.7 1101.8,909.8 1118.2,908.8 1134.6,907.7 1151.0,906.5 1167.4,905.2 1168.9,924.4 1152.5,925.7 1136.0,926.9 1119.4,928.0 1102.9,929.0 1086.4,929.9 1069.9,930.7 1053.4,931.4Z M1183.8,903.9 1200.2,902.4 1201.9,921.6 1185.4,923.1Z M970.2,895.2 986.5,895.0 986.9,914.2 970.4,914.5Z M1100.7,890.6 1117.0,889.6 1133.3,888.5 1149.6,887.3 1165.9,886.1 1167.4,905.2 1151.0,906.5 1134.6,907.7 1118.2,908.8 1101.8,909.8Z M678.1,865.6 694.3,866.9 692.8,886.1 676.5,884.7Z M791.5,873.1 807.7,873.8 806.9,893.0 790.6,892.3Z M953.7,876.2 969.9,876.0 986.1,875.8 986.5,895.0 970.2,895.2 953.8,895.4Z M1099.6,871.4 1115.8,870.4 1117.0,889.6 1100.7,890.6Z M1132.0,869.3 1148.2,868.2 1164.3,866.9 1165.9,886.1 1149.6,887.3 1133.3,888.5Z M937.4,857.1 953.5,857.0 969.6,856.8 985.7,856.6 986.1,875.8 969.9,876.0 953.7,876.2 937.4,876.3Z M1098.5,852.2 1114.6,851.2 1130.7,850.2 1146.7,849.0 1162.8,847.8 1178.9,846.5 1194.9,845.0 1211.0,843.5 1212.8,862.6 1196.7,864.2 1180.5,865.6 1164.3,866.9 1148.2,868.2 1132.0,869.3 1115.8,870.4 1099.6,871.4Z M921.3,837.9 937.3,837.9 937.4,857.1 921.3,857.1Z M985.4,837.4 1001.4,837.0 1001.9,856.2 985.7,856.6Z M1017.4,836.6 1033.4,836.1 1049.4,835.5 1065.4,834.8 1081.4,834.0 1082.4,853.1 1066.3,853.9 1050.2,854.6 1034.1,855.2 1018.0,855.8Z M1097.4,833.1 1113.4,832.1 1129.4,831.1 1145.3,829.9 1161.3,828.7 1177.2,827.4 1193.2,825.9 1209.1,824.5 1211.0,843.5 1194.9,845.0 1178.9,846.5 1162.8,847.8 1146.7,849.0 1130.7,850.2 1114.6,851.2 1098.5,852.2Z M921.4,818.8 937.3,818.8 937.3,837.9 921.3,837.9Z M985.0,818.2 1000.9,817.9 1016.8,817.4 1032.7,816.9 1048.6,816.3 1064.5,815.6 1080.4,814.8 1081.4,834.0 1065.4,834.8 1049.4,835.5 1033.4,836.1 1017.4,836.6 1001.4,837.0 985.4,837.4Z M1096.3,813.9 1112.2,813.0 1128.0,811.9 1143.9,810.8 1159.8,809.6 1175.6,808.3 1191.5,806.9 1207.3,805.4 1209.1,824.5 1193.2,825.9 1177.2,827.4 1161.3,828.7 1145.3,829.9 1129.4,831.1 1113.4,832.1 1097.4,833.1Z M937.2,799.6 953.0,799.5 953.2,818.7 937.3,818.8Z M1047.8,797.2 1063.6,796.5 1079.4,795.7 1080.4,814.8 1064.5,815.6 1048.6,816.3Z M1095.2,794.8 1110.9,793.9 1126.7,792.8 1142.5,791.7 1143.9,810.8 1128.0,811.9 1112.2,813.0 1096.3,813.9Z M1158.2,790.5 1174.0,789.2 1175.6,808.3 1159.8,809.6Z M937.2,780.5 952.9,780.4 953.0,799.5 937.2,799.6Z M1047.0,778.0 1062.7,777.4 1078.4,776.6 1079.4,795.7 1063.6,796.5 1047.8,797.2Z M999.5,760.5 1015.1,760.0 1015.7,779.2 1000.0,779.6Z M1046.2,758.9 1061.8,758.2 1077.4,757.5 1078.4,776.6 1062.7,777.4 1047.0,778.0Z M1124.1,754.6 1139.6,753.5 1155.2,752.3 1170.7,751.0 1172.4,770.1 1156.7,771.4 1141.1,772.6 1125.4,773.7Z M1122.8,735.6 1138.2,734.5 1153.7,733.3 1169.1,732.0 1170.7,751.0 1155.2,752.3 1139.6,753.5 1124.1,754.6Z M1089.7,699.4 1104.9,698.4 1120.1,697.4 1121.5,716.5 1106.1,717.5 1090.8,718.4Z M1088.5,680.3 1103.7,679.4 1118.8,678.4 1120.1,697.4 1104.9,698.4 1089.7,699.4Z M1192.6,653.1 1207.6,651.6 1222.6,650.0 1224.6,669.0 1209.5,670.6 1194.4,672.1Z M1116.2,640.2 1131.1,639.2 1146.0,638.0 1147.6,657.1 1132.5,658.2 1117.5,659.3Z M1190.8,634.1 1205.6,632.6 1220.5,631.0 1222.6,650.0 1207.6,651.6 1192.6,653.1Z M981.3,627.1 996.2,626.7 996.7,645.8 981.7,646.2Z M1144.5,619.0 1159.3,617.7 1174.1,616.4 1175.9,635.5 1161.0,636.8 1146.0,638.0Z M1248.0,608.7 1262.8,606.9 1265.1,625.9 1250.3,627.7Z M1054.7,605.5 1069.4,604.8 1070.4,623.9 1055.6,624.6Z M1084.1,604.0 1098.9,603.1 1100.1,622.2 1085.2,623.1Z M1187.1,596.0 1201.8,594.6 1203.7,613.6 1188.9,615.1Z M1464.1,554.6 1478.6,551.6 1493.0,548.5 1497.0,567.2 1482.5,570.3 1468.0,573.3Z M1039.1,587.1 1053.8,586.4 1054.7,605.5 1039.9,606.2Z M1083.0,584.9 1097.7,584.0 1098.9,603.1 1084.1,604.0Z M1474.7,532.9 1489.0,529.8 1503.3,526.7 1507.4,545.4 1493.0,548.5 1478.6,551.6Z M1470.8,514.2 1485.0,511.1 1499.2,508.1 1503.3,526.7 1489.0,529.8 1474.7,532.9Z M1452.7,498.4 1466.8,495.4 1470.8,514.2 1456.5,517.1Z M1495.1,489.4 1509.2,486.2 1513.4,504.9 1499.2,508.1Z M1445.1,460.9 1459.0,458.0 1462.9,476.7 1448.9,479.6Z M1104.4,468.5 1118.4,467.5 1119.8,486.6 1105.7,487.6Z M1271.6,451.4 1285.5,449.5 1288.2,468.5 1274.2,470.4Z M1492.2,411.5 1505.9,408.4 1519.5,405.2 1533.2,401.9 1546.8,398.5 1551.4,417.1 1537.7,420.5 1524.0,423.8 1510.2,427.1 1496.5,430.2Z M1474.4,395.9 1488.0,392.8 1501.5,389.7 1515.1,386.5 1528.6,383.3 1542.1,379.9 1546.8,398.5 1533.2,401.9 1519.5,405.2 1505.9,408.4 1492.2,411.5 1478.6,414.6Z M853.4,435.0 867.2,435.4 881.0,435.7 880.7,454.9 866.7,454.6 852.8,454.2Z M894.8,435.9 908.6,436.0 908.5,455.2 894.6,455.1Z M1510.6,367.9 1524.1,364.6 1537.5,361.3 1542.1,379.9 1528.6,383.3 1515.1,386.5Z M826.6,414.8 840.3,415.3 854.0,415.8 867.7,416.2 867.2,435.4 853.4,435.0 839.6,434.5 825.8,434.0Z M895.1,416.7 908.8,416.8 922.5,416.9 922.4,436.1 908.6,436.0 894.8,435.9Z M936.2,416.9 949.9,416.8 963.6,416.7 977.3,416.5 977.6,435.7 963.8,435.9 950.0,436.0 936.2,436.1Z M827.4,395.6 841.0,396.1 840.3,415.3 826.6,414.8Z M881.8,397.2 895.4,397.5 895.1,416.7 881.4,416.5Z M1427.5,307.6 1440.6,304.8 1453.7,302.0 1466.7,299.0 1479.8,296.0 1484.1,314.8 1471.0,317.8 1457.8,320.8 1444.7,323.6 1431.5,326.4Z" fill="#fee6ce" stroke="#fee6ce" stroke-width="0.6"/>
<path d="M1744.3,1267.0 1762.6,1262.5 1767.5,1281.9 1749.0,1286.5Z M1739.5,1247.6 1757.8,1243.0 1776.0,1238.4 1781.0,1257.8 1762.6,1262.5 1744.3,1267.0Z M1716.6,1232.5 1734.8,1228.2 1752.9,1223.7 1771.1,1219.1 1776.0,1238.4 1757.8,1243.0 1739.5,1247.6 1721.2,1252.0Z M1124.4,1299.5 1142.9,1298.3 1161.5,1297.1 1180.0,1295.8 1198.5,1294.3 1217.0,1292.8 1218.7,1312.7 1200.1,1314.2 1181.5,1315.6 1162.8,1317.0 1144.2,1318.2 1125.5,1319.3Z M1730.1,1208.8 1748.1,1204.3 1766.1,1199.8 1771.1,1219.1 1752.9,1223.7 1734.8,1228.2Z M883.1,1284.9 901.6,1285.1 920.1,1285.2 938.6,1285.2 957.0,1285.1 957.2,1305.0 938.6,1305.1 920.0,1305.1 901.5,1305.0 882.9,1304.8Z M975.5,1284.9 994.0,1284.6 994.4,1304.5 975.8,1304.8Z M1049.4,1283.1 1067.9,1282.4 1068.7,1302.2 1050.1,1302.9Z M1086.3,1281.5 1104.8,1280.6 1123.2,1279.6 1141.7,1278.5 1160.1,1277.3 1161.5,1297.1 1142.9,1298.3 1124.4,1299.5 1105.8,1300.5 1087.2,1301.4Z M1178.5,1276.0 1196.9,1274.5 1215.3,1273.0 1217.0,1292.8 1198.5,1294.3 1180.0,1295.8Z M1725.3,1189.5 1743.3,1185.1 1748.1,1204.3 1730.1,1208.8Z M883.4,1265.1 901.8,1265.3 920.2,1265.4 938.5,1265.4 956.9,1265.3 957.0,1285.1 938.6,1285.2 920.1,1285.2 901.6,1285.1 883.1,1284.9Z M883.7,1245.3 901.9,1245.5 920.2,1245.6 938.5,1245.6 956.7,1245.5 956.9,1265.3 938.5,1265.4 920.2,1265.4 901.8,1265.3 883.4,1265.1Z M884.0,1225.6 902.1,1225.8 920.3,1225.9 938.4,1225.9 956.6,1225.8 956.7,1245.5 938.5,1245.6 920.2,1245.6 901.9,1245.5 883.7,1245.3Z M884.2,1205.9 902.3,1206.1 920.3,1206.2 938.4,1206.2 956.4,1206.1 956.6,1225.8 938.4,1225.9 920.3,1225.9 902.1,1225.8 884.0,1225.6Z M884.5,1186.2 902.4,1186.4 920.4,1186.5 920.3,1206.2 902.3,1206.1 884.2,1205.9Z M884.8,1166.6 902.6,1166.8 920.4,1166.9 920.4,1186.5 902.4,1186.4 884.5,1186.2Z M885.0,1147.0 902.8,1147.2 920.5,1147.3 920.4,1166.9 902.6,1166.8 884.8,1166.6Z M867.7,1127.2 885.3,1127.5 885.0,1147.0 867.3,1146.7Z M920.5,1127.8 938.1,1127.8 955.7,1127.7 973.4,1127.5 991.0,1127.2 1008.6,1126.8 1009.0,1146.3 991.3,1146.7 973.6,1147.0 955.9,1147.2 938.2,1147.3 920.5,1147.3Z M1026.2,1126.3 1043.8,1125.7 1061.4,1125.1 1079.0,1124.3 1079.9,1143.8 1062.2,1144.6 1044.5,1145.3 1026.8,1145.9Z M920.6,1108.3 938.1,1108.3 955.6,1108.2 973.1,1108.0 990.6,1107.7 1008.1,1107.3 1025.6,1106.8 1043.1,1106.2 1060.6,1105.6 1078.0,1104.8 1079.0,1124.3 1061.4,1125.1 1043.8,1125.7 1026.2,1126.3 1008.6,1126.8 991.0,1127.2 973.4,1127.5 955.7,1127.7 938.1,1127.8 920.5,1127.8Z M920.6,1088.8 938.0,1088.8 955.4,1088.7 972.8,1088.5 990.2,1088.2 1007.6,1087.8 1008.1,1107.3 990.6,1107.7 973.1,1108.0 955.6,1108.2 938.1,1108.3 920.6,1108.3Z M1059.8,1086.1 1077.1,1085.3 1078.0,1104.8 1060.6,1105.6Z M868.8,1068.8 886.1,1069.0 885.8,1088.5 868.5,1088.2Z M920.7,1069.3 938.0,1069.3 955.3,1069.2 972.5,1069.0 989.8,1068.8 990.2,1088.2 972.8,1088.5 955.4,1088.7 938.0,1088.8 920.6,1088.8Z M869.2,1049.4 886.4,1049.6 886.1,1069.0 868.8,1068.8Z M920.7,1049.9 937.9,1049.9 955.1,1049.8 972.3,1049.6 989.5,1049.4 989.8,1068.8 972.5,1069.0 955.3,1069.2 938.0,1069.3 920.7,1069.3Z M1023.8,1048.5 1041.0,1047.9 1041.7,1067.3 1024.4,1067.9Z M1075.3,1046.5 1092.5,1045.7 1109.6,1044.7 1126.8,1043.7 1128.0,1063.1 1110.7,1064.1 1093.5,1065.1 1076.2,1065.9Z M869.6,1030.0 886.6,1030.2 903.7,1030.4 920.8,1030.5 937.9,1030.5 954.9,1030.4 972.0,1030.2 989.1,1030.0 989.5,1049.4 972.3,1049.6 955.1,1049.8 937.9,1049.9 920.7,1049.9 903.6,1049.8 886.4,1049.6 869.2,1049.4Z M1074.4,1027.1 1091.5,1026.3 1108.5,1025.4 1125.6,1024.3 1126.8,1043.7 1109.6,1044.7 1092.5,1045.7 1075.3,1046.5Z M886.9,1010.9 903.9,1011.1 920.8,1011.2 937.8,1011.2 954.8,1011.1 971.7,1010.9 988.7,1010.6 989.1,1030.0 972.0,1030.2 954.9,1030.4 937.9,1030.5 920.8,1030.5 903.7,1030.4 886.6,1030.2Z M1005.7,1010.2 1022.6,1009.8 1039.6,1009.2 1056.6,1008.6 1073.5,1007.8 1090.4,1007.0 1091.5,1026.3 1074.4,1027.1 1057.4,1027.9 1040.3,1028.6 1023.2,1029.1 1006.2,1029.6Z M1005.2,990.9 1022.1,990.4 1038.9,989.9 1055.8,989.2 1056.6,1008.6 1039.6,1009.2 1022.6,1009.8 1005.7,1010.2Z M1072.6,988.5 1089.4,987.7 1090.4,1007.0 1073.5,1007.8Z M1102.9,929.0 1119.4,928.0 1120.7,947.2 1104.0,948.2Z M937.6,914.7 954.0,914.6 954.1,933.9 937.6,934.0Z M1036.1,912.8 1052.6,912.2 1053.4,931.4 1036.8,932.1Z M953.8,895.4 970.2,895.2 970.4,914.5 954.0,914.6Z M1002.8,894.6 1019.1,894.2 1019.7,913.4 1003.3,913.8Z M1115.8,870.4 1132.0,869.3 1133.3,888.5 1117.0,889.6Z M1001.4,837.0 1017.4,836.6 1018.0,855.8 1001.9,856.2Z M1142.5,791.7 1158.2,790.5 1159.8,809.6 1143.9,810.8Z M1118.8,678.4 1134.0,677.3 1149.1,676.1 1164.2,674.9 1165.8,693.9 1150.6,695.2 1135.4,696.3 1120.1,697.4Z M1117.5,659.3 1132.5,658.2 1147.6,657.1 1162.6,655.8 1164.2,674.9 1149.1,676.1 1134.0,677.3 1118.8,678.4Z M1464.9,417.6 1478.6,414.6 1482.7,433.3 1468.9,436.3Z M881.0,435.7 894.8,435.9 894.6,455.1 880.7,454.9Z M867.7,416.2 881.4,416.5 895.1,416.7 894.8,435.9 881.0,435.7 867.2,435.4Z" fill="#fdd0a2" stroke="#fdd0a2" stroke-width="0.6"/>
<path d="M864.7,1284.6 883.1,1284.9 882.9,1304.8 864.3,1304.5Z M1160.1,1277.3 1178.5,1276.0 1180.0,1295.8 1161.5,1297.1Z M885.3,1127.5 902.9,1127.7 920.5,1127.8 920.5,1147.3 902.8,1147.2 885.0,1147.0Z M1008.6,1126.8 1026.2,1126.3 1026.8,1145.9 1009.0,1146.3Z M868.1,1107.7 885.6,1108.0 903.1,1108.2 920.6,1108.3 920.5,1127.8 902.9,1127.7 885.3,1127.5 867.7,1127.2Z M868.5,1088.2 885.8,1088.5 903.2,1088.7 920.6,1088.8 920.6,1108.3 903.1,1108.2 885.6,1108.0 868.1,1107.7Z M886.1,1069.0 903.4,1069.2 920.7,1069.3 920.6,1088.8 903.2,1088.7 885.8,1088.5Z M886.4,1049.6 903.6,1049.8 920.7,1049.9 920.7,1069.3 903.4,1069.2 886.1,1069.0Z M1055.8,989.2 1072.6,988.5 1073.5,1007.8 1056.6,1008.6Z" fill="#fdae6b" stroke="#fdae6b" stroke-width="0.6"/>

<path d="M1339.7,1276.2 1359.7,1262.9 1379.7,1242.9 1396.3,1232.9 1412.9,1226.3 1432.9,1216.3 1452.9,1213.0 1472.8,1208.0 1496.1,1209.7 1516.1,1213.0 1532.7,1216.3 1552.7,1213.0 1572.7,1213.0 1592.6,1219.6 1612.6,1229.6 1628.9,1240.9 1639.8,1245.6 1655.3,1247.1 1677.0,1247.1 1681.7,1254.9 1680.1,1261.1 1701.9,1258.0 1717.4,1259.6 1732.9,1264.2 1743.8,1268.9 1739.1,1275.1 1725.2,1278.2 1715.8,1281.3 1708.1,1286.0 1694.1,1289.1 1678.6,1291.4 1663.0,1293.7 1647.5,1296.8 1633.5,1301.6 1622.7,1307.7 1620.0,1315.0 1615.0,1315.0 1618.0,1307.7 1621.1,1301.6 1630.4,1292.2 1633.5,1282.9 1624.2,1278.2 1608.7,1279.8 1596.3,1279.8 1587.0,1275.1 1586.0,1276.2 1576.0,1266.2 1572.7,1252.9 1552.7,1249.6 1512.8,1247.9 1479.5,1244.6 1452.9,1242.9 1442.9,1232.9 1429.6,1229.6 1412.9,1236.3 1396.3,1242.9 1379.7,1252.9 1366.4,1262.9 1346.4,1272.9 1339.7,1276.2Z" fill="#fff"/>

<path d="M247.4,150.4 253.5,152.3 259.7,154.2 265.8,156.0 272.0,157.8 278.2,159.6 284.3,161.4 290.5,163.2 296.7,165.0 302.9,166.7 309.1,168.4 315.3,170.1 321.5,171.8 327.7,173.5 333.9,175.2 340.2,176.8 346.4,178.4 352.6,180.0 358.8,181.6 365.1,183.2 371.3,184.7 377.6,186.3 383.8,187.8 390.1,189.3 396.3,190.8 402.6,192.2 408.9,193.7 415.1,195.1 421.4,196.5 427.7,197.9 434.0,199.3 440.2,200.7 446.5,202.0 452.8,203.3 459.1,204.6 465.4,205.9 471.7,207.2 478.0,208.5 484.3,209.7 490.7,210.9 497.0,212.1 503.3,213.3 509.6,214.5 515.9,215.6 522.3,216.8 528.6,217.9 535.0,219.0 541.3,220.1 547.6,221.1 554.0,222.2 560.3,223.2 566.7,224.2 573.0,225.2 579.4,226.2 585.7,227.1 592.1,228.1 598.5,229.0 604.8,229.9 611.2,230.8 617.6,231.7 624.0,232.5 630.3,233.4 636.7,234.2 643.1,235.0 649.5,235.8 655.9,236.5 662.3,237.3 668.6,238.0 675.0,238.7 681.4,239.4 687.8,240.1 694.2,240.8 700.6,241.4 707.0,242.0 713.4,242.6 719.8,243.2 726.2,243.8 732.6,244.3 739.1,244.9 745.5,245.4 751.9,245.9 758.3,246.4 764.7,246.8 771.1,247.3 777.5,247.7 784.0,248.1 790.4,248.5 796.8,248.9 803.2,249.3 809.6,249.6 816.1,249.9 822.5,250.2 828.9,250.5 835.3,250.8 841.8,251.0 848.2,251.3 854.6,251.5 861.1,251.7 867.5,251.9 873.9,252.0 880.3,252.2 886.8,252.3 893.2,252.4 899.6,252.5 906.1,252.6 912.5,252.6 918.9,252.7 925.4,252.7 931.8,252.7 938.2,252.7 944.7,252.6 951.1,252.6 M951.1,252.6 950.9,237.8 M572.5,225.1 574.0,215.5 575.5,205.9 577.0,196.3 578.5,186.6 580.0,177.0 581.5,167.3 583.0,157.7 584.5,148.0 586.0,138.3 587.5,128.6 589.0,118.9 590.5,109.2 592.0,99.5 593.6,89.7 595.1,80.0 596.6,70.2 598.1,60.4 599.6,50.6 601.1,40.8 602.7,31.0 604.2,21.2 605.7,11.3 607.3,1.5 608.8,-8.4 610.3,-18.3 611.9,-28.2 613.4,-38.1 614.9,-48.0 M395.8,190.6 393.5,200.4 391.2,210.1 388.9,219.9 386.6,229.6 384.3,239.4 382.0,249.1 379.7,258.8 377.4,268.5 375.1,278.2 372.8,287.9 M318.0,291.0 324.8,292.8 331.5,294.5 338.3,296.2 345.1,297.9 351.9,299.5 358.7,301.2 365.5,302.8 372.3,304.4 M350.2,384.9 347.9,394.7 345.6,404.5 343.3,414.2 341.0,424.0 338.7,433.7 336.4,443.5 334.2,453.2 M420.5,196.3 418.3,206.0 416.1,215.6 413.9,225.3 411.8,234.9 M136.6,398.4 143.5,400.6 150.4,402.7 157.3,404.9 164.2,407.0 171.1,409.2 178.0,411.3 185.0,413.3 191.9,415.4 198.8,417.5 205.8,419.5 212.7,421.5 219.7,423.5 226.6,425.4 233.6,427.4 240.5,429.3 247.5,431.2 254.5,433.1 261.5,435.0 268.4,436.8 275.4,438.7 282.4,440.5 289.4,442.3 296.4,444.0 303.5,445.8 310.5,447.5 317.5,449.2 324.5,450.9 331.5,452.6 338.6,454.3 345.6,455.9 352.7,457.5 359.7,459.1 366.8,460.7 373.8,462.2 380.9,463.8 387.9,465.3 395.0,466.8 402.1,468.3 409.2,469.7 416.2,471.2 423.3,472.6 430.4,474.0 437.5,475.4 444.6,476.7 451.7,478.1 458.8,479.4 465.9,480.7 473.0,482.0 480.2,483.2 487.3,484.5 494.4,485.7 501.5,486.9 M520.5,373.4 518.9,382.9 517.3,392.3 515.8,401.8 514.2,411.3 512.6,420.7 511.0,430.2 509.4,439.7 507.8,449.1 506.3,458.6 504.7,468.0 503.1,477.4 501.5,486.9 500.0,496.3 498.4,505.8 496.8,515.2 495.2,524.6 M495.2,524.6 502.4,525.8 509.5,527.0 516.7,528.1 523.8,529.3 531.0,530.4 538.1,531.4 545.3,532.5 552.5,533.6 559.7,534.6 566.8,535.6 574.0,536.6 581.2,537.5 588.4,538.5 595.6,539.4 602.7,540.3 609.9,541.2 617.1,542.1 624.3,542.9 631.5,543.8 638.7,544.6 645.9,545.4 653.1,546.1 660.3,546.9 667.5,547.6 674.7,548.3 681.9,549.0 689.2,549.7 696.4,550.3 703.6,551.0 710.8,551.6 718.0,552.2 725.3,552.7 732.5,553.3 739.7,553.8 746.9,554.3 754.2,554.8 M520.5,373.4 527.2,374.5 534.0,375.6 540.7,376.7 547.4,377.7 554.2,378.8 560.9,379.8 567.7,380.8 574.4,381.8 581.2,382.7 587.9,383.7 594.7,384.6 601.5,385.5 608.2,386.4 615.0,387.3 621.8,388.2 628.5,389.0 635.3,389.8 642.1,390.6 648.9,391.4 655.6,392.2 662.4,392.9 669.2,393.6 676.0,394.3 682.8,395.0 689.6,395.7 696.4,396.3 703.1,397.0 709.9,397.6 M723.6,243.6 722.8,253.2 721.9,262.9 721.0,272.6 720.2,282.2 719.3,291.9 718.5,301.5 717.6,311.2 716.8,320.8 715.9,330.4 715.1,340.0 714.2,349.6 713.3,359.2 712.5,368.8 711.6,378.4 710.8,388.0 709.9,397.6 709.1,407.2 708.2,416.7 707.4,426.3 706.5,435.9 705.7,445.4 704.8,455.0 704.0,464.5 703.1,474.1 702.3,483.6 701.5,493.1 700.6,502.7 699.8,512.2 698.9,521.8 698.1,531.3 697.2,540.8 696.4,550.3 M713.1,361.5 720.1,362.1 727.0,362.7 733.9,363.3 740.8,363.8 747.8,364.4 754.7,364.9 761.6,365.3 768.5,365.8 775.5,366.3 782.4,366.7 789.3,367.1 796.3,367.5 803.2,367.9 810.1,368.2 817.1,368.5 824.0,368.8 831.0,369.1 837.9,369.4 844.8,369.7 851.8,369.9 858.7,370.1 865.7,370.3 872.6,370.5 879.6,370.6 886.5,370.7 893.4,370.8 900.4,370.9 907.3,371.0 914.3,371.1 M703.1,474.1 710.2,474.7 717.3,475.3 724.4,475.9 731.4,476.4 738.5,477.0 745.6,477.5 752.7,478.0 759.8,478.5 766.8,478.9 773.9,479.4 781.0,479.8 788.1,480.2 795.2,480.6 802.3,480.9 809.4,481.3 816.4,481.6 823.5,481.9 830.6,482.2 837.7,482.4 844.8,482.7 851.9,482.9 859.0,483.1 M754.2,554.8 753.5,564.4 752.9,573.9 752.3,583.4 751.7,593.0 751.1,602.5 750.4,612.1 749.8,621.6 749.2,631.1 748.6,640.7 748.0,650.2 747.4,659.7 746.8,669.3 746.1,678.8 745.5,688.3 744.9,697.9 744.3,707.4 M751.6,593.0 759.2,593.5 766.8,593.9 774.4,594.4 782.0,594.8 789.6,595.2 797.3,595.6 804.9,596.0 812.5,596.3 820.1,596.7 827.7,597.0 835.3,597.2 842.9,597.5 850.6,597.7 858.2,597.9 865.8,598.1 873.4,598.3 881.0,598.5 888.7,598.6 896.3,598.7 903.9,598.8 911.5,598.8 919.1,598.9 926.8,598.9 934.4,598.9 942.0,598.9 949.6,598.8 M379.6,658.8 387.2,660.3 394.7,661.8 402.3,663.3 409.9,664.7 417.5,666.1 425.1,667.5 432.8,668.9 440.4,670.3 448.0,671.7 455.6,673.0 463.2,674.3 470.9,675.6 478.5,676.8 486.1,678.1 493.8,679.3 501.4,680.5 509.1,681.7 516.7,682.8 524.4,684.0 532.0,685.1 539.7,686.2 547.3,687.2 555.0,688.3 562.7,689.3 570.3,690.3 578.0,691.3 585.7,692.3 593.4,693.2 601.1,694.1 608.7,695.0 616.4,695.9 624.1,696.8 631.8,697.6 639.5,698.4 647.2,699.2 654.9,700.0 662.6,700.7 670.3,701.5 678.0,702.2 685.7,702.9 693.4,703.5 701.1,704.2 708.8,704.8 716.5,705.4 724.3,706.0 732.0,706.5 739.7,707.1 747.4,707.6 755.1,708.1 762.9,708.6 770.6,709.0 778.3,709.4 786.0,709.9 793.8,710.2 801.5,710.6 809.2,711.0 816.9,711.3 824.7,711.6 832.4,711.9 840.1,712.1 847.9,712.4 855.6,712.6 863.3,712.8 871.1,712.9 878.8,713.1 886.5,713.2 894.3,713.3 902.0,713.4 909.8,713.5 917.5,713.5 925.2,713.5 933.0,713.5 940.7,713.5 948.4,713.5 956.2,713.4 963.9,713.3 971.6,713.2 M552.5,533.6 551.1,543.2 549.7,552.8 548.3,562.4 546.9,572.1 545.5,581.7 544.1,591.3 542.7,601.0 541.3,610.6 540.0,620.2 538.6,629.8 537.2,639.4 535.8,649.1 534.4,658.7 533.0,668.3 531.6,677.9 530.2,687.6 528.8,697.2 527.4,706.8 526.0,716.5 524.6,726.1 523.2,735.7 521.9,745.4 520.5,755.0 519.1,764.6 517.7,774.3 516.3,783.9 514.9,793.6 513.5,803.2 512.1,812.9 510.7,822.6 509.3,832.2 507.9,841.9 506.5,851.6 505.1,861.2 503.7,870.9 502.3,880.6 500.9,890.3 499.5,900.0 M417.6,471.4 415.6,480.9 413.7,490.4 411.8,499.8 409.9,509.3 408.0,518.7 406.1,528.2 404.2,537.6 402.2,547.1 400.3,556.5 398.4,566.0 396.5,575.4 394.6,584.8 392.7,594.3 390.8,603.7 388.8,613.2 386.9,622.6 385.0,632.1 383.1,641.5 381.2,651.0 379.3,660.4 377.4,669.9 375.4,679.3 373.5,688.8 M251.9,432.4 249.4,441.7 246.9,450.9 244.4,460.1 241.9,469.4 239.4,478.6 237.0,487.8 234.5,497.0 232.0,506.3 229.5,515.5 227.0,524.7 224.5,533.9 222.0,543.2 227.5,552.2 233.0,561.2 238.6,570.2 244.2,579.1 249.9,588.1 255.6,597.1 261.3,606.0 267.1,615.0 273.0,623.9 278.8,632.8 284.8,641.7 290.8,650.6 296.8,659.5 302.8,668.3 309.0,677.2 315.1,686.1 321.3,694.9 327.6,703.7 333.9,712.5 340.2,721.3 346.6,730.1 M714.9,705.3 714.2,714.8 713.5,724.3 721.2,724.9 728.9,725.5 736.6,726.0 744.3,726.5 752.0,727.0 759.7,727.5 767.4,728.0 775.1,728.4 782.8,728.8 790.5,729.2 798.2,729.6 805.9,729.9 M712.2,724.2 711.5,733.8 710.7,743.3 709.9,752.8 709.1,762.4 708.4,771.9 707.6,781.4 706.8,791.0 706.0,800.5 705.2,810.1 704.5,819.6 703.7,829.2 702.9,838.7 702.1,848.3 701.4,857.9 700.6,867.4 699.8,877.0 699.0,886.6 698.2,896.1 689.9,895.5 681.6,894.8 673.3,894.1 665.0,893.4 656.7,892.6 648.4,891.8 640.1,891.0 631.8,890.2 623.5,889.4 615.3,888.5 607.0,887.6 598.7,886.7 590.4,885.8 582.1,884.8 M805.9,729.9 805.4,740.5 805.0,751.1 804.5,761.7 804.0,772.3 803.6,782.9 803.1,793.5 802.6,804.1 M970.7,633.0 970.8,642.9 971.0,652.8 971.1,662.8 971.2,672.7 971.3,682.6 971.4,692.6 971.6,702.5 971.7,712.5 971.8,722.4 971.9,732.3 M971.9,732.3 973.6,742.8 975.2,753.3 976.9,763.8 978.5,774.3 978.5,783.9 978.4,793.6 978.3,803.2 978.3,812.8 978.2,822.5 978.2,832.1 978.1,841.7 M992.3,844.9 992.5,855.1 992.7,865.3 1001.1,865.1 1009.6,864.8 1018.0,864.6 1026.4,864.3 1034.9,864.0 1043.3,863.7 1051.7,863.4 1060.2,863.0 1068.6,862.6 1077.0,862.2 1085.4,861.8 M992.7,865.3 992.9,875.1 993.1,885.0 993.3,894.9 993.6,904.8 M971.9,732.3 980.0,732.2 988.2,732.0 996.3,731.9 1004.4,731.7 1012.5,731.4 1020.6,731.2 1028.7,730.9 1036.8,730.6 1045.0,730.3 1053.1,729.9 1061.2,729.6 1069.3,729.2 1077.4,728.8 1085.5,728.3 1093.6,727.8 1101.7,727.4 1109.8,726.8 M1104.2,746.4 1114.4,745.7 1124.7,745.0 M936.0,576.7 943.4,576.7 950.8,576.6 958.1,576.6 965.5,576.5 972.8,576.4 980.2,576.2 987.6,576.1 994.9,575.9 1002.3,575.7 1009.6,575.5 1017.0,575.3 1024.4,575.0 1031.7,574.7 1039.1,574.4 1046.4,574.1 1053.8,573.8 M916.8,464.9 924.1,464.9 931.4,464.9 938.7,464.9 946.0,464.9 953.3,464.8 960.6,464.7 967.9,464.6 975.2,464.5 982.5,464.4 989.8,464.2 997.1,464.0 1004.4,463.8 1011.7,463.6 1019.0,463.3 1026.3,463.1 1033.6,462.8 1040.9,462.5 1048.2,462.1 1055.5,461.8 1062.7,461.4 M914.3,371.1 914.2,384.2 917.1,395.7 917.1,405.6 917.0,415.5 917.0,425.4 916.9,435.3 916.9,445.2 916.8,455.0 916.8,464.9 M1028.8,362.9 1028.4,351.9 1027.9,340.9 M1081.2,498.4 1088.5,498.0 1095.8,497.6 1103.1,497.2 1110.4,496.8 1117.7,496.3 1125.0,495.8 1132.3,495.3 1139.6,494.8 1146.9,494.3 1154.2,493.7 1161.5,493.2 M1172.0,520.3 1179.7,519.5 1187.5,518.8 1195.2,518.0 1202.9,517.2 1210.6,516.3 1218.3,515.5 1226.1,514.6 1233.8,513.7 1241.5,512.8 1249.2,511.9 1257.0,511.1 1264.7,510.4 1272.5,509.6 1280.2,508.8 1288.0,507.9 M1249.2,511.9 1250.4,522.0 1251.6,532.1 1252.9,542.2 1254.1,552.3 1255.3,562.4 1256.5,572.5 1257.7,582.6 1259.0,592.7 1260.2,602.7 1261.4,612.8 M1171.7,520.3 1172.7,530.5 1173.6,540.7 1174.6,550.9 1175.5,561.1 1176.5,571.3 1177.4,581.5 1178.4,591.7 1179.3,601.8 1180.3,612.0 M1108.5,784.4 1116.6,783.9 1124.6,783.4 1132.7,782.8 1140.8,782.2 1148.9,781.6 1157.0,781.0 1165.1,780.3 1173.2,779.6 1181.3,778.9 1189.3,778.2 1197.4,777.5 1205.5,776.7 1213.6,775.9 1221.6,775.1 1229.7,774.2 1237.8,773.4 1245.8,772.5 1253.9,771.6 1261.9,770.7 1270.0,769.7 1278.0,768.7 1286.1,767.7 1294.1,766.7 1302.2,765.7 1310.2,764.6 1318.3,763.5 1326.3,762.4 1334.3,761.3 M1174.7,779.5 1174.9,789.4 1175.0,799.3 1175.1,809.3 1175.3,819.2 1175.4,829.1 1175.5,839.0 1175.6,849.0 1175.7,858.9 1175.8,868.9 1175.9,878.8 1176.0,888.8 1176.1,898.7 1177.3,908.3 1178.5,917.8 1179.7,927.4 1180.8,937.0 1182.0,946.5 1183.2,956.1 M1074.3,940.1 1083.3,939.7 1092.3,939.2 1101.3,938.7 1110.3,938.2 1119.3,937.6 1128.3,937.0 1137.3,936.4 M1207.7,930.7 1216.3,929.9 1224.9,929.1 1233.5,928.2 1242.1,927.4 1250.7,926.4 1259.3,925.5 1267.8,924.6 1276.4,923.6 1285.0,922.6 1293.5,921.5 M1256.2,771.3 1259.0,781.3 1261.9,791.2 1264.7,801.1 1267.6,811.1 1270.4,821.0 1273.3,831.0 1276.2,840.9 1279.1,850.9 M1299.6,932.5 1308.4,931.9 1317.3,931.2 1326.1,930.6 1335.0,929.9 1343.9,929.2 1352.7,928.5 1361.6,927.7 1370.4,926.9 1379.3,926.1 1388.1,925.3 1394.6,932.1 M1129.8,725.5 1138.6,724.8 1147.4,724.2 1156.2,723.5 1165.0,722.7 1173.8,722.0 1173.8,715.1 1181.8,714.6 1189.7,714.0 1197.6,713.4 1205.5,712.8 1213.4,712.2 1221.3,711.6 1229.2,710.9 1237.2,710.2 1245.1,709.5 1253.0,708.8 1260.9,708.1 1268.8,707.3 1276.7,706.5 1284.6,705.7 1292.5,704.8 1300.4,704.0 1308.3,703.1 1317.0,701.9 1325.6,700.7 1334.3,699.4 1343.0,698.1 1351.6,696.8 1360.3,695.5 1369.0,694.1 1376.7,693.0 1384.4,691.8 1392.1,690.6 1399.7,689.4 1407.4,688.2 1415.1,686.9 1422.8,685.6 1430.5,684.3 1438.2,683.0 1445.8,681.7 1453.5,680.3 1461.2,678.9 1468.8,677.5 1476.5,676.1 1484.2,674.6 1491.8,673.1 1499.5,671.7 1507.1,670.1 1514.7,668.6 1522.4,667.0 1530.0,665.5 1537.6,663.9 1545.2,662.3 M1384.0,570.8 1391.7,569.5 1399.3,568.1 1406.9,566.7 1414.6,565.3 1422.2,563.9 1429.8,562.5 1437.4,561.0 1445.0,559.6 1452.7,558.0 1460.3,556.5 1467.9,555.0 1475.5,553.4 1483.0,551.8 1490.6,550.2 1498.2,548.6 1505.8,546.9 1513.4,545.2 1520.9,543.5 M1384.0,570.8 1382.4,561.2 1380.7,551.7 1379.1,542.1 1377.5,532.6 1375.8,523.1 1374.2,513.5 1372.5,503.9 1370.9,494.4 1369.2,484.8 M1388.8,470.9 1390.6,481.1 1397.9,479.7 1405.2,478.4 1412.4,477.0 1419.7,475.6 1426.9,474.2 1434.2,472.8 1441.4,471.4 1448.7,469.9 1455.9,468.4 1463.1,466.9 1470.4,465.4 1477.6,463.8 1484.8,462.2 1492.0,460.7 1499.3,459.0 1506.5,457.4 1513.7,455.7 M1520.9,543.5 1523.1,553.0 1525.2,562.5 1527.4,571.9 1529.5,581.4 1531.6,590.9 1542.5,588.4 1553.3,585.9 M1541.2,330.2 1543.8,339.5 1546.4,348.8 1549.0,358.1 1551.6,367.4 1554.2,376.7 1556.8,386.0 1559.4,395.3 1562.0,404.5 1564.5,413.8 1564.7,427.6 1564.8,441.4 1567.9,453.1 1571.0,464.9 1574.0,476.6 M1564.5,413.8 1572.4,412.1 1580.2,410.3 1587.9,408.6 1595.7,406.8 1603.5,404.9 1611.3,403.1 1619.1,401.2 1630.1,391.4 M1564.8,441.4 1572.7,439.6 1580.6,437.8 1588.5,435.9 1596.3,434.0 1604.2,432.1 1612.0,430.2 1623.6,427.0 M1612.0,430.2 1615.5,442.9 1619.0,455.7 M1631.1,382.7 1620.2,373.0 1617.0,363.1 1613.8,353.2 1610.6,343.3 1607.4,333.4 1604.2,323.4 1601.0,313.5 1597.8,303.5 M248.2,805.2 256.8,806.4 265.5,807.6 274.1,808.8 282.7,809.9 291.4,811.0 300.0,812.0 308.6,813.1 317.3,814.1 325.9,815.1 M325.9,815.1 321.2,823.1 329.1,828.0 337.0,832.9 344.9,837.7 352.9,842.6 360.8,847.4 368.8,852.2 376.8,856.9 384.9,861.7 392.9,866.4 401.0,871.1 409.1,875.8 417.2,880.4 425.4,885.1 433.5,889.7 442.0,891.1 450.5,892.5 459.0,893.8 467.5,895.2 476.0,896.5 484.5,897.8 493.0,899.0 501.5,900.3 510.0,901.5 518.5,902.7 527.0,903.8 529.3,886.7 538.4,887.9 547.6,889.1 556.7,890.2 565.8,891.4 574.9,892.5 584.1,893.6 M1505.3,339.5 1512.4,337.8 1519.4,336.0 1526.5,334.2 1533.5,332.4 1540.6,330.6 1547.6,328.8 1554.7,326.9 1561.7,325.1 1568.7,323.2 1575.7,321.2 1582.7,319.3 1589.7,317.4 1597.8,303.5" fill="none" stroke="#000" stroke-width="4.6" stroke-linejoin="round" stroke-linecap="round"/>
<path d="M158.5,99.3 162.8,106.7 168.1,113.1 174.5,119.5 178.3,127.0 182.0,133.4 186.3,137.7 188.9,143.5 195.9,151.5 205.5,160.1 214.0,167.5 223.6,172.3 230.0,169.7 231.1,163.3 229.5,152.6 226.8,144.1 220.4,135.5 214.0,129.1 208.1,121.7 204.4,114.2 202.8,99.3" fill="none" stroke="#000" stroke-width="4.6" stroke-linejoin="round" stroke-linecap="round"/>
<path d="M186.3,137.7 196.9,136.1 202.3,130.2" fill="none" stroke="#000" stroke-width="4.6" stroke-linejoin="round" stroke-linecap="round"/>
<path d="M212.9,99.3 214.0,109.9 220.4,119.5 226.8,125.9 235.3,129.1 241.7,133.4 243.9,139.8 250.3,138.7" fill="none" stroke="#000" stroke-width="4.6" stroke-linejoin="round" stroke-linecap="round"/>
<path d="M234.3,99.3 237.5,105.7 232.1,109.9 224.7,112.6 218.3,111.0" fill="none" stroke="#000" stroke-width="4.6" stroke-linejoin="round" stroke-linecap="round"/>
<path d="M241.7,127.0 246.0,125.4 248.7,127.0" fill="none" stroke="#000" stroke-width="4.6" stroke-linejoin="round" stroke-linecap="round"/>
<path d="M243.9,139.8 244.9,148.3 248.7,154.7" fill="none" stroke="#000" stroke-width="4.6" stroke-linejoin="round" stroke-linecap="round"/>
<path d="M248.7,154.7 252.4,163.3 252.4,173.9 250.8,180.3 253.5,185.7 254.0,194.2 249.2,200.6 246.0,208.1 243.9,217.7 237.5,224.1 231.1,225.7 223.6,222.5 222.5,213.4 228.9,205.9 235.3,200.6 240.7,193.1" fill="none" stroke="#000" stroke-width="4.6" stroke-linejoin="round" stroke-linecap="round"/>
<path d="M194.8,162.2 205.5,169.7 214.0,175.0 224.7,180.3 233.2,183.5 238.5,187.8 240.7,193.1" fill="none" stroke="#000" stroke-width="4.6" stroke-linejoin="round" stroke-linecap="round"/>
<path d="M226.8,144.1 233.2,154.7 231.1,167.5 227.9,161.1 Z" fill="#000" stroke="#000" stroke-width="4.6" stroke-linejoin="round" stroke-linecap="round"/>
<path d="M235.3,165.4 242.8,163.3 246.0,168.6 240.7,173.9 Z" fill="#000" stroke="#000" stroke-width="4.6" stroke-linejoin="round" stroke-linecap="round"/>
<path d="M240.7,180.3 251.3,178.2 252.4,191.0 246.0,201.7 240.7,196.3 Z" fill="#000" stroke="#000" stroke-width="4.6" stroke-linejoin="round" stroke-linecap="round"/>
<path d="M194.8,162.2 191.6,169.7 190.0,180.3 192.7,188.9 193.7,201.7 192.1,212.3 193.7,220.9 201.2,221.9 194.8,226.2 192.7,233.7 189.5,239.0 186.3,245.4 185.2,255.0" fill="none" stroke="#000" stroke-width="4.6" stroke-linejoin="round" stroke-linecap="round"/>
<path d="M186.7,246.7 185.0,263.3 181.7,276.7 176.7,290.0 171.7,303.3 166.7,316.7 161.7,330.0 156.7,340.0 150.0,348.3 145.0,356.7 140.0,363.3 135.0,370.0 136.0,380.0 133.3,390.0 131.7,400.0 134.0,405.0 130.7,415.0 131.7,426.7 128.3,433.3 123.3,443.3 116.7,448.3 112.7,455.0 111.7,463.3 115.0,473.3 118.3,483.3 119.3,496.7 116.7,506.7 114.3,520.0 118.3,526.7 123.3,535.0 117.3,530.0" fill="none" stroke="#000" stroke-width="4.6" stroke-linejoin="round" stroke-linecap="round"/>
<path d="M186.7,250.0 193.3,251.7 200.0,253.3 205.0,256.7 211.7,260.0 213.3,270.0 215.0,280.0 221.7,283.3 230.0,285.0 238.3,283.3 246.7,286.7 253.3,290.0 258.3,291.7 270.0,292.3 283.3,292.3 296.7,291.0 314.0,291.3" fill="none" stroke="#000" stroke-width="4.6" stroke-linejoin="round" stroke-linecap="round"/>
<path d="M370.0,305.0 375.0,311.7 378.3,320.0 373.3,328.3 366.7,338.3 360.0,346.7 353.3,355.0 348.3,361.7 346.7,366.7 352.7,373.3 350.0,380.0 348.7,386.7" fill="none" stroke="#000" stroke-width="4.6" stroke-linejoin="round" stroke-linecap="round"/>
<path d="M410.0,233.3 413.3,246.7 416.7,256.7 421.7,263.3 426.7,275.0 433.3,286.7 436.7,293.3 443.3,295.0 440.0,303.3 437.3,311.7 435.0,323.3 430.0,330.0 430.0,336.7 435.0,338.3 443.3,335.0 448.3,343.3 451.7,353.3 455.0,363.3 460.0,373.3 463.3,383.3 465.0,388.3 471.7,386.7 480.0,385.0 490.0,386.0 496.7,388.3 503.3,386.7 506.7,381.7 510.0,383.3 512.7,388.3 515.0,391.7" fill="none" stroke="#000" stroke-width="4.6" stroke-linejoin="round" stroke-linecap="round"/>
<path d="M430.0,98.3 433.3,106.7 438.3,115.0 443.3,121.7 446.7,130.0 451.7,138.3 455.0,141.7 458.3,150.0 460.0,160.0 461.0,170.0 456.7,180.0 458.3,186.7 460.0,193.3 465.0,200.0 468.3,205.0" fill="none" stroke="#000" stroke-width="4.6" stroke-linejoin="round" stroke-linecap="round"/>
<path d="M117.6,530.0 120.8,536.4 125.6,541.2 127.2,546.0 128.0,552.4 124.0,558.8 129.6,560.4 134.4,566.8 132.8,578.0 132.0,592.4 135.2,600.4 141.6,605.2 146.4,609.2 146.4,614.8 140.0,620.4 138.4,628.4 141.6,634.8 145.6,642.0 148.8,650.0" fill="none" stroke="#000" stroke-width="4.6" stroke-linejoin="round" stroke-linecap="round"/>
<path d="M134.4,566.8 138.4,560.4 143.2,558.0 146.4,561.2 154.4,562.0 160.8,566.0 168.0,569.2" fill="none" stroke="#000" stroke-width="4.6" stroke-linejoin="round" stroke-linecap="round"/>
<path d="M136.8,570.0 141.6,578.0 144.8,586.0" fill="none" stroke="#000" stroke-width="4" stroke-linejoin="round" stroke-linecap="round"/>
<path d="M148.7,650.0 151.7,658.3 158.3,670.0 160.0,680.0 163.3,686.7 160.0,696.7 158.3,705.0 163.3,710.0 176.7,713.3 186.7,716.7 195.0,723.3 200.0,731.7 206.7,735.0 213.3,738.3 220.0,741.7 221.7,750.0 225.0,753.3 231.7,756.7 238.3,765.0 243.3,771.7 248.3,780.0 250.0,793.3 247.3,801.7 250.0,806.7 248.3,810.0 251.7,820.0 255.0,833.3 259.3,838.3 256.0,843.3 260.0,853.3 265.0,870.0 266.7,880.0 270.0,900.0 271.7,913.3 275.0,923.3 283.3,933.3 293.3,941.7 300.0,953.3 306.7,963.3 313.3,975.0 316.7,985.0 313.3,995.0 308.3,1001.7 303.3,1003.3 295.0,1004.0 288.3,1001.7 280.0,999.3 285.0,1010.0 293.3,1020.0 296.7,1026.7 306.7,1033.3 315.0,1043.3 321.7,1050.0 328.3,1050.0 335.0,1046.7 336.7,1053.3 341.7,1061.7 350.0,1070.0 358.3,1078.3" fill="none" stroke="#000" stroke-width="4.6" stroke-linejoin="round" stroke-linecap="round"/>
<path d="M313.3,846.7 310.0,856.7 309.3,873.3 311.7,890.0 310.0,903.3 311.7,916.7 316.7,926.7 323.3,933.3 330.0,943.3 336.7,953.3 340.0,966.7 346.7,976.7 351.7,990.0 355.0,1000.0 356.7,1013.3 360.0,1023.3 365.0,1033.3 368.3,1043.3 373.3,1053.3 376.7,1063.3 383.3,1060.0 390.0,1070.0 391.7,1080.0" fill="none" stroke="#000" stroke-width="4.6" stroke-linejoin="round" stroke-linecap="round"/>
<path d="M313.3,846.7 320.0,851.7 328.3,858.3 335.0,865.0 343.3,863.3 350.0,870.0 353.3,875.0 363.3,881.7 370.0,885.0 366.7,891.7 365.0,900.0 368.3,913.3 373.3,933.3 378.3,950.0 380.0,960.0 383.3,970.0 390.0,983.3 396.7,996.7 406.7,1010.0 416.7,1020.0 428.3,1023.3 431.7,1026.7 428.3,1033.3 428.3,1043.3 433.3,1050.0 441.7,1055.0 448.3,1060.0 453.3,1070.0 463.3,1078.3" fill="none" stroke="#000" stroke-width="4.6" stroke-linejoin="round" stroke-linecap="round"/>
<path d="M158.3,725.0 166.7,730.0 173.3,731.7 186.7,733.3" fill="none" stroke="#000" stroke-width="4" stroke-linejoin="round" stroke-linecap="round"/>
<path d="M178.3,761.0 181.7,762.7 183.3,764.3" fill="none" stroke="#000" stroke-width="5" stroke-linejoin="round" stroke-linecap="round"/>
<path d="M211.7,761.7 216.7,765.0 219.3,770.0" fill="none" stroke="#000" stroke-width="5" stroke-linejoin="round" stroke-linecap="round"/>
<path d="M206.7,778.3 210.0,785.0 212.7,787.3" fill="none" stroke="#000" stroke-width="5" stroke-linejoin="round" stroke-linecap="round"/>
<path d="M178.3,923.3 180.0,930.0 180.7,934.0" fill="none" stroke="#000" stroke-width="5" stroke-linejoin="round" stroke-linecap="round"/>
<path d="M275.0,978.3 276.7,985.0 273.3,988.3 270.7,985.0 Z" fill="none" stroke="#000" stroke-width="4.6" stroke-linejoin="round" stroke-linecap="round"/>
<path d="M305.0,1000.0 308.3,1008.3 310.0,1011.7" fill="none" stroke="#000" stroke-width="4" stroke-linejoin="round" stroke-linecap="round"/>
<path d="M340.0,943.3 345.0,944.0 350.0,955.0 349.3,965.0 345.0,963.3 341.7,955.0 Z" fill="none" stroke="#000" stroke-width="4.6" stroke-linejoin="round" stroke-linecap="round"/>
<path d="M373.3,976.7 378.3,966.7 382.3,966.7 380.0,978.3 376.7,980.7 Z" fill="none" stroke="#000" stroke-width="4.6" stroke-linejoin="round" stroke-linecap="round"/>
<path d="M380.0,1056.7 383.3,1066.7" fill="none" stroke="#000" stroke-width="5" stroke-linejoin="round" stroke-linecap="round"/>
<path d="M380.0,660.0 376.7,680.0 373.3,691.7 368.3,696.0 363.3,691.7 358.3,688.3 351.7,690.0 350.7,700.0 350.0,713.3 348.3,723.3 346.7,731.7 348.3,740.0 351.7,753.3 358.3,761.7 350.0,766.7 345.0,771.7 341.7,780.0 338.3,788.3 331.7,793.3 330.0,800.0 333.3,810.0 331.7,816.7 325.0,818.3 321.7,825.0" fill="none" stroke="#000" stroke-width="4.6" stroke-linejoin="round" stroke-linecap="round"/>
<path d="M950.7,236.7 958.3,238.3 960.0,253.3 966.7,260.7 980.0,263.3 988.3,269.0 1000.0,264.3 1010.0,267.3" fill="none" stroke="#000" stroke-width="4.6" stroke-linejoin="round" stroke-linecap="round"/>
<path d="M911.7,370.0 913.3,356.7 910.0,343.3 908.3,323.3 906.7,303.3 901.7,290.0 898.3,270.0 897.3,252.3" fill="none" stroke="#000" stroke-width="4.6" stroke-linejoin="round" stroke-linecap="round"/>
<path d="M911.7,370.0 906.0,383.3 915.0,391.7 916.7,465.0" fill="none" stroke="#000" stroke-width="4.6" stroke-linejoin="round" stroke-linecap="round"/>
<path d="M916.7,465.0 913.3,470.0 915.0,480.0 911.7,490.0 911.7,497.3" fill="none" stroke="#000" stroke-width="4.6" stroke-linejoin="round" stroke-linecap="round"/>
<path d="M860.0,481.7 866.7,486.7 873.3,490.0 883.3,488.3 893.3,490.0 903.3,493.3 911.7,498.3 916.7,506.7 921.7,520.0 926.7,530.0 930.0,540.0 933.3,556.7 935.0,570.0 938.3,580.0 943.3,590.0" fill="none" stroke="#000" stroke-width="4.6" stroke-linejoin="round" stroke-linecap="round"/>
<path d="M1030.0,338.3 1028.3,343.3 1028.3,356.7 1020.0,366.7 1013.3,376.7 1015.0,390.0 1016.7,403.3 1023.3,418.3 1033.3,423.3 1046.7,433.3 1056.7,443.3 1061.7,450.0 1063.3,460.0" fill="none" stroke="#000" stroke-width="4.6" stroke-linejoin="round" stroke-linecap="round"/>
<path d="M1063.3,460.0 1065.0,470.0 1066.7,480.0 1073.3,490.0 1080.0,495.0 1090.0,506.7 1096.7,515.0 1093.3,523.3 1090.0,533.3 1076.7,540.0 1071.7,546.7 1073.3,556.7 1070.0,566.7 1065.0,573.3 1061.7,580.0 1060.0,590.0" fill="none" stroke="#000" stroke-width="4.6" stroke-linejoin="round" stroke-linecap="round"/>
<path d="M1055.0,572.3 1061.7,580.0" fill="none" stroke="#000" stroke-width="4.6" stroke-linejoin="round" stroke-linecap="round"/>
<path d="M1075.0,341.7 1083.3,345.0 1100.0,348.3 1113.3,350.0 1126.7,353.3 1140.0,358.3 1146.7,366.7 1151.7,376.7 1154.0,383.3" fill="none" stroke="#000" stroke-width="4.6" stroke-linejoin="round" stroke-linecap="round"/>
<path d="M1130.0,358.2 1140.0,361.6 1146.6,366.6 1151.6,374.9 1153.3,383.2 1156.6,389.9 1163.3,379.9 1169.9,369.9 1174.9,361.6 1183.2,359.9 1191.6,354.9 1201.5,351.6 1211.5,348.3 1219.9,348.3 1229.8,353.2 1234.0,357.4" fill="none" stroke="#000" stroke-width="4.6" stroke-linejoin="round" stroke-linecap="round"/>
<path d="M1156.6,389.9 1153.3,399.8 1148.3,413.1 1151.6,414.8 1158.3,404.8 1164.9,394.8 1171.6,384.9 1176.6,379.9" fill="none" stroke="#000" stroke-width="4.6" stroke-linejoin="round" stroke-linecap="round"/>
<path d="M1176.6,379.9 1168.3,393.2 1163.3,406.5 1160.0,419.8 1158.3,433.1 1156.6,449.8 1156.6,466.4 1158.3,483.0 1161.6,499.7 1164.9,509.7 1169.9,521.3 1173.3,530.4" fill="none" stroke="#000" stroke-width="4.6" stroke-linejoin="round" stroke-linecap="round"/>
<path d="M1173.3,528.0 1179.9,523.0 1188.2,518.0 1196.6,513.0 1201.5,504.7 1204.9,491.3 1205.7,474.7 1203.2,463.1 1196.6,449.8 1192.4,439.8 1193.2,426.5 1196.6,413.1 1199.9,403.2 1203.2,396.5 1208.2,393.2 1213.2,389.9 1218.2,383.2 1224.8,378.2 1229.8,373.2 1226.5,366.6 1226.5,361.6 1230.7,358.2" fill="none" stroke="#000" stroke-width="4.6" stroke-linejoin="round" stroke-linecap="round"/>
<path d="M1211.5,362.4 1212.4,368.2" fill="none" stroke="#000" stroke-width="8" stroke-linejoin="round" stroke-linecap="round"/>
<path d="M1214.9,386.5 1215.7,396.5 1214.9,399.8" fill="none" stroke="#000" stroke-width="8" stroke-linejoin="round" stroke-linecap="round"/>
<path d="M1201.5,386.5 1202.4,388.2" fill="none" stroke="#000" stroke-width="6" stroke-linejoin="round" stroke-linecap="round"/>
<path d="M1230.7,358.2 1239.8,360.7 1249.8,364.9 1259.8,368.2 1268.1,371.5 1273.1,378.2 1276.4,383.2 1278.1,393.2 1278.1,404.8 1273.1,413.1 1269.8,421.5 1266.4,428.1 1268.1,434.8 1273.1,436.4 1276.4,429.8 1278.1,423.1 1283.1,418.1 1291.4,416.5 1298.1,421.5 1303.0,433.1 1306.4,441.4 1309.7,449.8 1310.5,459.7 1308.9,468.1 1306.4,471.4 1303.9,475.5 1306.4,479.7 1311.4,479.7 1313.0,476.4 1309.7,473.0" fill="none" stroke="#000" stroke-width="4.6" stroke-linejoin="round" stroke-linecap="round"/>
<path d="M1303.9,476.4 1301.4,481.4 1298.1,486.4 1296.4,493.0 1293.9,499.7 1291.4,504.7 1289.7,508.0 1296.4,511.3 1303.0,513.8 1308.0,516.3" fill="none" stroke="#000" stroke-width="4.6" stroke-linejoin="round" stroke-linecap="round"/>
<path d="M1234.0,357.4 1233.2,348.3 1246.5,347.4 1263.1,349.9 1279.8,350.7 1296.4,353.2 1313.0,358.2 1316.4,349.9 1314.7,341.6" fill="none" stroke="#000" stroke-width="4.6" stroke-linejoin="round" stroke-linecap="round"/>
<path d="M1246.5,339.9 1263.1,344.1 1279.8,346.6 1296.4,345.8 1306.4,342.4 1314.7,344.1 1316.4,356.6 1304.7,354.1 1288.1,349.9 1266.4,347.4 1249.8,344.9 Z" fill="none" stroke="#000" stroke-width="4.6" stroke-linejoin="round" stroke-linecap="round"/>
<path d="M1244.8,331.6 1263.1,334.1 1279.8,334.1 1296.4,333.3 1313.0,333.3 1329.7,334.9 1338.0,336.6 1344.6,344.9 1349.6,353.2 1358.0,356.6 1362.9,363.2 1367.9,369.9 1374.6,374.9" fill="none" stroke="#000" stroke-width="4.6" stroke-linejoin="round" stroke-linecap="round"/>
<path d="M1318.0,366.6 1329.7,366.6 1334.7,373.2 1338.0,383.2 1344.6,386.5 1351.3,387.4 1359.6,389.9 1366.3,386.5 1367.9,381.5 1374.6,376.5" fill="none" stroke="#000" stroke-width="4.6" stroke-linejoin="round" stroke-linecap="round"/>
<path d="M1318.0,366.6 1323.0,373.2 1329.7,379.9 1332.2,389.9 1328.0,398.2 1324.7,408.2 1328.0,416.5 1326.3,431.4 1321.3,443.1 1313.0,453.1 1310.5,459.7" fill="none" stroke="#000" stroke-width="4.6" stroke-linejoin="round" stroke-linecap="round"/>
<path d="M1229.8,300.0 1226.5,308.3 1231.5,313.3 1236.5,316.6 1239.8,325.0 1244.8,331.6 1246.5,336.6 1244.8,343.3" fill="none" stroke="#000" stroke-width="4.6" stroke-linejoin="round" stroke-linecap="round"/>
<path d="M1300.0,336.7 1316.6,335.0 1333.3,336.7 1339.9,340.0 1346.6,346.6 1353.2,351.6 1359.9,356.6 1364.9,363.3 1369.9,369.9 1374.9,374.9 1369.9,379.1 1363.2,375.8" fill="none" stroke="#000" stroke-width="4.6" stroke-linejoin="round" stroke-linecap="round"/>
<path d="M1316.6,368.3 1326.6,366.6 1333.3,376.6 1341.6,383.2 1349.9,386.6 1358.2,388.2 1366.6,388.2 1368.2,383.2 1364.9,377.4" fill="none" stroke="#000" stroke-width="4.6" stroke-linejoin="round" stroke-linecap="round"/>
<path d="M1333.3,379.9 1328.3,396.6 1325.0,409.9 1323.3,419.9 1325.0,429.8 1323.3,439.8 1316.6,448.1 1311.6,453.1 1310.0,461.4 1310.0,471.4 1307.5,475.6 1303.3,476.4" fill="none" stroke="#000" stroke-width="4.6" stroke-linejoin="round" stroke-linecap="round"/>
<path d="M1300.0,496.4 1306.7,489.7 1316.6,486.4 1325.0,479.8 1333.3,473.1 1341.6,468.1 1349.9,463.9 1358.2,462.3 1366.6,460.6 1378.2,462.3 1369.9,461.4 1373.2,458.1 1383.2,454.8 1393.2,449.8 1403.2,444.8 1409.0,443.1" fill="none" stroke="#000" stroke-width="4.6" stroke-linejoin="round" stroke-linecap="round"/>
<path d="M1300.0,516.4 1308.3,516.4 1316.6,514.7 1325.0,511.4 1333.3,508.0 1343.3,504.7 1353.2,499.7 1363.2,494.7 1369.9,489.7 1376.5,484.7 1383.2,479.8 1389.9,474.8 1396.5,468.1 1403.2,459.8 1408.2,451.5 1409.8,444.8 1406.5,436.5 1401.5,433.2" fill="none" stroke="#000" stroke-width="4.6" stroke-linejoin="round" stroke-linecap="round"/>
<path d="M1381.5,431.5 1386.5,423.2 1396.5,413.2 1408.2,406.5 1419.8,401.5 1429.8,396.6 1438.1,391.6 1444.8,386.6 1453.1,384.9 1459.7,384.9 1466.4,383.2 1473.0,383.2 1478.0,388.2 1476.4,393.2 1478.0,399.9 1476.4,406.5 1473.0,411.5 1466.4,414.9 1459.7,418.2 1449.8,421.5 1441.4,421.5 1433.1,420.7 1424.8,421.5 1416.5,423.2 1408.2,426.5 1399.8,429.8 1393.2,432.3 1384.9,432.8 Z" fill="none" stroke="#000" stroke-width="4.6" stroke-linejoin="round" stroke-linecap="round"/>
<path d="M1473.0,383.2 1479.7,374.9 1483.0,368.3 1489.7,358.3 1496.3,348.3 1503.0,341.6 1509.7,336.7 1516.3,333.3 1523.0,330.0" fill="none" stroke="#000" stroke-width="4.6" stroke-linejoin="round" stroke-linecap="round"/>
<path d="M1592.8,330.0 1594.5,338.3 1586.2,346.6 1584.5,363.3 1586.2,379.9 1586.2,396.6 1586.5,408.2" fill="none" stroke="#000" stroke-width="4.6" stroke-linejoin="round" stroke-linecap="round"/>
<path d="M1516.3,458.1 1524.6,463.1 1529.6,469.8 1537.9,476.4 1546.3,479.8 1559.6,483.1 1566.2,484.7" fill="none" stroke="#000" stroke-width="4.6" stroke-linejoin="round" stroke-linecap="round"/>
<path d="M1537.9,477.3 1532.9,488.1 1529.6,496.4 1532.9,504.7 1539.6,513.0 1548.8,521.3 1544.6,526.3 1537.9,533.0 1532.9,538.0 1528.0,543.0 1529.6,549.6 1532.9,556.3 1536.3,560.0" fill="none" stroke="#000" stroke-width="4.6" stroke-linejoin="round" stroke-linecap="round"/>
<path d="M1561.2,476.4 1566.2,488.1 1561.2,496.4 1559.6,503.0 1564.6,513.0 1569.6,521.3 1570.4,529.7 1567.9,539.7 1563.7,546.3 1561.2,560.0" fill="none" stroke="#000" stroke-width="4.6" stroke-linejoin="round" stroke-linecap="round"/>
<path d="M1566.2,479.8 1574.5,476.4 1586.2,469.8 1600.0,464.8" fill="none" stroke="#000" stroke-width="4.6" stroke-linejoin="round" stroke-linecap="round"/>
<path d="M1567.9,494.7 1579.5,489.7 1591.2,483.9 1600.0,479.8" fill="none" stroke="#000" stroke-width="4.6" stroke-linejoin="round" stroke-linecap="round"/>
<path d="M1566.2,488.1 1574.5,484.7 1586.2,478.1 1600.0,473.1" fill="none" stroke="#000" stroke-width="4.6" stroke-linejoin="round" stroke-linecap="round"/>
<path d="M1496.7,345.0 1513.3,331.7 1526.7,316.7 1535.0,305.0 1541.7,291.7 1550.0,280.0 1558.3,268.3 1566.7,260.0 1576.7,253.3 1585.0,243.3 1593.3,231.7 1600.0,221.7 1605.0,210.0 1606.7,196.7 1605.0,190.0 1608.3,183.3 1611.7,173.3 1613.3,165.0 1618.3,155.0 1623.3,146.7 1630.0,140.0 1640.0,133.3 1650.0,126.7 1651.7,120.0 1653.3,98.3" fill="none" stroke="#000" stroke-width="4.6" stroke-linejoin="round" stroke-linecap="round"/>
<path d="M1568.3,186.7 1586.7,185.8 1605.0,190.0" fill="none" stroke="#000" stroke-width="6" stroke-linejoin="round" stroke-linecap="round"/>
<path d="M1696.7,160.0 1705.0,158.3 1715.0,160.0 1723.3,153.3 1730.0,145.0 1735.0,136.7 1735.8,126.7 1733.3,118.3 1726.7,113.3 1716.7,111.7 1705.0,112.5 1695.0,116.7 1683.3,123.3 1673.3,130.0 1663.3,136.7 1653.3,145.0 1643.3,153.3 1633.3,163.3 1625.0,173.3 1618.3,183.3 1613.3,193.3 1608.3,203.3 1603.3,215.0 1596.7,226.7 1590.0,235.0 1580.0,245.0 1570.0,255.0 1560.0,263.3 1546.7,278.3 1536.7,295.0 1530.0,310.0 1520.0,323.3 1510.0,336.7 1505.0,345.0" fill="none" stroke="#000" stroke-width="4.6" stroke-linejoin="round" stroke-linecap="round"/>
<path d="M1733.3,161.7 1721.7,165.0 1713.3,173.3 1705.0,166.7 1693.3,165.0 1685.0,168.3 1676.7,176.7 1666.7,181.7 1656.7,180.0 1646.7,183.3 1641.7,186.7 1644.2,196.7 1646.7,203.3 1643.3,208.3 1636.7,215.0 1631.7,218.3 1628.3,211.7 1625.0,211.7" fill="none" stroke="#000" stroke-width="4.6" stroke-linejoin="round" stroke-linecap="round"/>
<path d="M1625.0,211.7 1623.3,221.7 1618.3,236.7 1613.3,248.3 1613.3,261.7 1615.0,275.0 1611.7,286.7 1608.3,298.3 1603.3,305.0 1595.0,308.3 1593.3,318.3 1595.0,328.3 1593.3,345.0" fill="none" stroke="#000" stroke-width="4.6" stroke-linejoin="round" stroke-linecap="round"/>
<path d="M1645.0,206.7 1651.7,206.7 1663.3,211.7 1668.3,215.0 1671.7,228.3 1675.0,241.7 1680.0,255.0 1681.7,265.0 1690.0,268.3 1695.0,275.0 1700.0,280.0 1706.7,283.3 1710.0,288.3 1711.7,293.3" fill="none" stroke="#000" stroke-width="4.6" stroke-linejoin="round" stroke-linecap="round"/>
<path d="M1733.3,161.7 1735.0,170.0 1733.3,181.7 1728.3,193.3 1736.7,191.7 1743.3,198.3 1750.0,208.3 1756.7,215.0 1766.7,215.0 1774.2,211.7" fill="none" stroke="#000" stroke-width="4.6" stroke-linejoin="round" stroke-linecap="round"/>
<path d="M1710.8,285.0 1713.3,278.3 1720.0,271.7 1728.3,266.7 1733.3,263.3 1743.3,255.0 1753.3,245.0 1761.7,235.0 1766.7,229.2 1774.2,224.2" fill="none" stroke="#000" stroke-width="4.6" stroke-linejoin="round" stroke-linecap="round"/>
<path d="M1756.7,185.0 1761.7,183.3 1766.7,195.0 1773.3,203.3 1770.0,208.3 1761.7,200.0 1756.7,195.0 Z" fill="none" stroke="#000" stroke-width="4.6" stroke-linejoin="round" stroke-linecap="round"/>
<path d="M1774.2,253.3 1763.3,263.3 1753.3,275.0 1745.0,286.7 1738.3,303.3 1740.0,316.7 1746.7,325.0 1753.3,325.0 1760.0,328.3 1766.7,325.0 1774.2,318.3" fill="none" stroke="#000" stroke-width="4.6" stroke-linejoin="round" stroke-linecap="round"/>
<path d="M1711.7,293.3 1706.7,300.0 1696.7,308.3 1688.3,311.7 1680.0,316.7 1671.7,315.0 1666.7,323.3 1663.3,331.7 1656.7,338.3 1650.0,345.0" fill="none" stroke="#000" stroke-width="4.6" stroke-linejoin="round" stroke-linecap="round"/>
<path d="M1717.5,291.7 1720.0,295.0" fill="none" stroke="#000" stroke-width="7" stroke-linejoin="round" stroke-linecap="round"/>
<path d="M1736.7,153.3 1737.5,161.7" fill="none" stroke="#000" stroke-width="8" stroke-linejoin="round" stroke-linecap="round"/>
<path d="M1480.0,325.0 1496.7,316.7 1508.3,318.3 1511.7,328.3 1509.2,333.3" fill="none" stroke="#000" stroke-width="4.6" stroke-linejoin="round" stroke-linecap="round"/>
<path d="M1273.3,98.3 1293.3,103.3 1310.0,113.3 1316.7,126.7 1306.7,136.7" fill="none" stroke="#000" stroke-width="4.6" stroke-linejoin="round" stroke-linecap="round"/>
<path d="M1328.3,130.0 1335.0,123.3 1333.3,115.0 1340.0,110.0 1346.7,115.0 1350.0,123.3 1346.7,110.0 1345.0,100.0" fill="none" stroke="#000" stroke-width="4.6" stroke-linejoin="round" stroke-linecap="round"/>
<path d="M1336.0,121.7 1340.0,143.3 1346.7,183.3 1353.3,223.3 1360.0,270.0 1361.7,273.3" fill="none" stroke="#000" stroke-width="4.6" stroke-linejoin="round" stroke-linecap="round"/>
<path d="M1361.7,273.3 1366.7,286.7 1380.0,303.3 1393.3,311.7 1413.3,313.3 1433.3,320.0 1443.3,323.3 1450.0,326.7 1456.7,330.0 1466.7,330.0 1480.0,326.7 1493.3,320.0 1503.3,316.7 1513.3,320.0 1513.3,330.0 1510.0,336.7" fill="none" stroke="#000" stroke-width="4.6" stroke-linejoin="round" stroke-linecap="round"/>
<path d="M1650.0,345.0 1643.3,353.3 1636.7,366.7 1632.0,382.7" fill="none" stroke="#000" stroke-width="4.6" stroke-linejoin="round" stroke-linecap="round"/>
<path d="M1613.3,455.0 1600.0,461.7 1586.7,468.3 1573.3,476.7 1563.3,480.7" fill="none" stroke="#000" stroke-width="4.6" stroke-linejoin="round" stroke-linecap="round"/>
<path d="M938.3,580.0 943.3,590.0 950.0,596.7 958.3,603.3 958.3,613.3 963.3,623.3 971.7,631.7" fill="none" stroke="#000" stroke-width="4.6" stroke-linejoin="round" stroke-linecap="round"/>
<path d="M803.3,801.7 810.0,806.7 816.7,810.0 821.7,808.3 826.7,816.7 833.3,820.0 846.7,821.7 853.3,820.0 863.3,825.0 866.7,830.0 873.3,828.3 880.0,831.7 886.7,833.3 893.3,836.7 900.0,833.3 910.0,835.0 920.0,838.3 930.0,833.3 940.0,830.0 950.0,830.0 956.7,828.3 966.7,833.3 976.7,840.0 983.3,843.3 992.7,843.3" fill="none" stroke="#000" stroke-width="4.6" stroke-linejoin="round" stroke-linecap="round"/>
<path d="M995.0,899.3 996.7,903.3 1003.3,913.3 1008.3,926.7 1010.0,940.0 1006.7,953.3 1005.0,966.7 1003.3,980.0 1001.7,988.3" fill="none" stroke="#000" stroke-width="4.6" stroke-linejoin="round" stroke-linecap="round"/>
<path d="M1001.7,988.3 990.0,991.7 976.7,1000.0 966.7,1006.7 960.0,1013.3 950.0,1020.0 933.3,1030.0 920.0,1036.7 910.0,1043.3 900.0,1053.3 890.0,1066.7 883.3,1080.0" fill="none" stroke="#000" stroke-width="4.6" stroke-linejoin="round" stroke-linecap="round"/>
<path d="M963.3,998.3 966.7,991.7 970.7,990.7 971.7,1003.3" fill="none" stroke="#000" stroke-width="4.6" stroke-linejoin="round" stroke-linecap="round"/>
<path d="M920.0,1033.3 910.0,1035.0 900.0,1043.3 890.0,1050.0 883.3,1060.0 880.0,1070.0 878.3,1080.0" fill="none" stroke="#000" stroke-width="5" stroke-linejoin="round" stroke-linecap="round"/>
<path d="M1001.7,988.3 1013.3,986.7 1026.7,988.3 1040.0,991.7 1053.3,993.3 1063.3,986.7 1070.0,993.3 1076.7,996.7 1083.3,1001.7 1090.0,1006.7 1100.0,1008.3 1110.0,1006.7 1120.0,1003.3 1126.7,1000.0 1130.0,1006.7 1140.0,1003.3 1150.0,1006.7 1160.0,1010.0 1165.0,1003.3 1153.3,996.7 1146.7,990.0 1150.0,980.0 1160.0,973.3 1166.7,970.0 1173.3,960.0 1186.7,956.7 1200.0,955.0" fill="none" stroke="#000" stroke-width="4.6" stroke-linejoin="round" stroke-linecap="round"/>
<path d="M1116.7,966.7 1126.7,963.3 1140.0,966.7 1133.3,972.7 1120.0,972.7 Z" fill="none" stroke="#000" stroke-width="4.6" stroke-linejoin="round" stroke-linecap="round"/>
<path d="M1146.7,980.0 1153.3,986.7 1166.7,993.3 1160.0,1000.0" fill="none" stroke="#000" stroke-width="4.6" stroke-linejoin="round" stroke-linecap="round"/>
<path d="M1166.7,973.3 1163.3,980.0 1166.7,985.0" fill="none" stroke="#000" stroke-width="5" stroke-linejoin="round" stroke-linecap="round"/>
<path d="M1063.3,990.0 1070.0,996.7" fill="none" stroke="#000" stroke-width="7" stroke-linejoin="round" stroke-linecap="round"/>
<path d="M1138.3,710.0 1130.0,720.0 1126.7,733.3 1123.3,746.7 1120.0,756.7 1113.3,773.3 1110.0,783.3 1103.3,796.7 1096.7,813.3 1090.0,823.3 1085.0,836.7 1086.7,856.7 1086.7,870.0 1090.0,880.0 1086.7,893.3 1080.0,906.7 1076.7,920.0 1073.3,933.3 1073.3,938.3" fill="none" stroke="#000" stroke-width="4.6" stroke-linejoin="round" stroke-linecap="round"/>
<path d="M1136.7,936.7 1138.3,946.7 1136.7,956.7 1140.0,963.3 1141.7,973.3" fill="none" stroke="#000" stroke-width="4.6" stroke-linejoin="round" stroke-linecap="round"/>
<path d="M1060.0,580.0 1063.3,593.3 1073.3,606.7 1083.3,620.0 1093.3,633.3 1100.0,636.7 1103.3,650.0 1106.7,660.0 1116.7,670.0 1123.3,680.0 1130.0,693.3 1136.7,703.3 1138.3,710.0" fill="none" stroke="#000" stroke-width="4.6" stroke-linejoin="round" stroke-linecap="round"/>
<path d="M1136.7,703.3 1146.7,700.0 1156.7,693.3 1163.3,680.0 1170.0,670.0 1180.0,665.0 1190.0,666.7 1200.0,663.3" fill="none" stroke="#000" stroke-width="4.6" stroke-linejoin="round" stroke-linecap="round"/>
<path d="M1176.7,580.0 1180.0,596.7 1181.7,613.3 1180.0,630.0 1176.7,646.7 1173.3,660.0 1168.3,669.3" fill="none" stroke="#000" stroke-width="4.6" stroke-linejoin="round" stroke-linecap="round"/>
<path d="M600.0,906.7 610.0,916.7 620.0,930.0 630.0,940.0 636.7,950.0 640.0,966.7 646.7,980.0 656.7,990.0 670.0,1000.0 683.3,1010.0 690.0,1006.7 696.7,1000.0 700.0,993.3 706.7,983.3 716.7,980.0 726.7,981.7 733.3,983.3 743.3,985.0 750.0,991.7 758.7,1000.0" fill="none" stroke="#000" stroke-width="4.6" stroke-linejoin="round" stroke-linecap="round"/>
<path d="M581.7,885.0 590.0,893.0 600.0,907.0" fill="none" stroke="#000" stroke-width="4.6" stroke-linejoin="round" stroke-linecap="round"/>
<path d="M1180.0,666.7 1190.0,666.7 1200.0,663.3 1213.3,660.0 1223.3,656.7 1233.3,650.0 1240.0,640.0 1246.7,631.7 1256.7,626.7 1263.3,618.3 1266.7,613.3 1273.3,613.3 1280.0,620.0 1290.0,623.3 1303.3,623.3 1316.7,621.7 1323.3,625.0 1333.3,630.0" fill="none" stroke="#000" stroke-width="4.6" stroke-linejoin="round" stroke-linecap="round"/>
<path d="M1333.3,630.0 1340.0,616.7 1346.7,606.7 1353.3,596.7 1356.7,590.0 1366.7,583.3 1373.3,576.7 1376.7,566.7 1380.0,560.0" fill="none" stroke="#000" stroke-width="4.6" stroke-linejoin="round" stroke-linecap="round"/>
<path d="M1333.3,630.0 1331.7,640.0 1336.7,650.0 1346.7,656.7 1353.3,663.3 1366.7,670.0 1380.0,666.7 1393.3,660.0 1403.3,650.0 1410.0,633.3 1416.7,613.3 1426.7,606.7 1434.3,597.3" fill="none" stroke="#000" stroke-width="4.6" stroke-linejoin="round" stroke-linecap="round"/>
<path d="M1305.0,703.3 1320.0,693.3 1333.3,680.0 1343.3,670.0 1353.3,663.3" fill="none" stroke="#000" stroke-width="4.6" stroke-linejoin="round" stroke-linecap="round"/>
<path d="M1296.7,763.3 1300.0,753.3 1313.3,746.7 1326.7,740.0 1333.3,730.0 1343.3,723.3 1353.3,716.7 1360.0,710.0 1366.7,703.3 1368.3,695.0" fill="none" stroke="#000" stroke-width="4.6" stroke-linejoin="round" stroke-linecap="round"/>
<path d="M1328.3,768.3 1336.7,761.7 1353.3,751.7 1373.3,750.0 1396.7,746.7 1400.0,751.7 1406.7,756.7 1440.0,753.3 1481.7,780.0" fill="none" stroke="#000" stroke-width="4.6" stroke-linejoin="round" stroke-linecap="round"/>
<path d="M1328.3,768.3 1333.3,773.3 1343.3,780.0 1353.3,793.3 1366.7,806.7 1380.0,820.0 1393.3,833.3 1403.3,846.7 1413.3,858.3 1420.0,863.3" fill="none" stroke="#000" stroke-width="4.6" stroke-linejoin="round" stroke-linecap="round"/>
<path d="M1540.0,656.7 1546.7,666.7 1556.7,680.0 1563.3,693.3 1566.7,706.7 1563.3,713.3 1553.3,716.7 1546.7,723.3 1543.3,730.0 1533.3,736.7 1523.3,740.0 1513.3,746.7 1510.0,756.7 1503.3,763.3 1500.0,773.3 1490.0,778.3 1481.7,780.0 1473.3,790.0 1466.7,803.3 1463.3,813.3 1453.3,823.3 1443.3,833.3 1433.3,843.3 1426.7,850.0 1420.0,860.0 1416.7,870.0 1413.3,880.0 1410.0,893.3 1408.3,906.7 1408.3,916.7 1413.3,926.7 1416.7,940.0 1423.3,956.7 1430.0,970.0 1440.0,983.3 1446.7,993.3 1453.3,1006.7 1460.0,1020.0 1466.7,1033.3 1473.3,1046.7 1480.0,1060.0" fill="none" stroke="#000" stroke-width="4.6" stroke-linejoin="round" stroke-linecap="round"/>
<path d="M1523.3,683.3 1533.3,681.7 1543.3,686.7 1546.7,696.7" fill="none" stroke="#000" stroke-width="4.6" stroke-linejoin="round" stroke-linecap="round"/>
<path d="M1520.0,710.0 1533.3,706.7 1540.0,713.3" fill="none" stroke="#000" stroke-width="4.6" stroke-linejoin="round" stroke-linecap="round"/>
<path d="M1520.0,723.3 1533.3,720.0 1543.3,726.7 1536.7,736.7" fill="none" stroke="#000" stroke-width="4.6" stroke-linejoin="round" stroke-linecap="round"/>
<path d="M1526.7,700.0 1540.0,703.3 1546.7,710.0" fill="none" stroke="#000" stroke-width="4.6" stroke-linejoin="round" stroke-linecap="round"/>
<path d="M1443.3,986.7 1450.0,996.7 1456.7,1006.7" fill="none" stroke="#000" stroke-width="7" stroke-linejoin="round" stroke-linecap="round"/>
<path d="M1286.7,873.3 1285.0,880.0 1286.7,893.3 1290.0,906.7 1293.3,920.0 1298.3,930.0" fill="none" stroke="#000" stroke-width="4.6" stroke-linejoin="round" stroke-linecap="round"/>
<path d="M1180.0,960.0 1190.0,958.3 1195.0,943.3 1200.0,953.3 1205.0,958.3 1213.3,951.7 1223.3,946.7 1233.3,948.3 1246.7,946.7 1256.7,948.3 1266.7,950.0 1276.7,955.0 1286.7,970.0 1296.7,973.3 1306.7,966.7 1316.7,956.7 1326.7,951.7 1336.7,955.0 1346.7,963.3 1356.7,973.3 1366.7,983.3 1376.7,993.3 1381.7,1006.7 1380.0,1023.3 1383.3,1033.3 1390.0,1040.0 1393.3,1050.0 1400.0,1060.0" fill="none" stroke="#000" stroke-width="4.6" stroke-linejoin="round" stroke-linecap="round"/>
<path d="M1553.3,1040.0 1566.7,1038.3 1580.0,1043.3 1586.7,1053.3" fill="none" stroke="#000" stroke-width="4.6" stroke-linejoin="round" stroke-linecap="round"/>
<path d="M1520.0,1058.3 1540.0,1050.0 1556.7,1046.7" fill="none" stroke="#000" stroke-width="4.6" stroke-linejoin="round" stroke-linecap="round"/>
<path d="M1379.7,1000.0 1379.7,1020.0 1381.3,1033.3 1389.7,1030.0 1393.0,1036.6 1386.3,1043.3 1393.0,1053.2 1403.0,1063.2 1409.6,1066.6 1412.9,1076.5 1419.6,1083.2 1426.3,1093.2 1436.2,1099.8 1446.2,1106.5 1452.9,1116.5 1454.5,1124.8 1459.5,1128.1 1469.5,1124.8 1479.5,1119.8 1484.5,1114.8 1485.5,1099.8 1486.2,1083.2 1484.5,1066.6 1479.5,1049.9 1472.8,1036.6 1466.2,1023.3 1459.5,1013.3 1452.9,1000.0" fill="none" stroke="#000" stroke-width="4.6" stroke-linejoin="round" stroke-linecap="round"/>
<path d="M1479.5,1119.8 1472.8,1133.1 1466.2,1139.8" fill="none" stroke="#000" stroke-width="4.6" stroke-linejoin="round" stroke-linecap="round"/>
<path d="M1409.6,1063.2 1412.9,1079.9 1417.9,1073.2" fill="none" stroke="#000" stroke-width="6" stroke-linejoin="round" stroke-linecap="round"/>
<path d="M1519.4,1056.6 1527.8,1059.9 1532.7,1053.2 1542.7,1049.9 1556.0,1048.3" fill="none" stroke="#000" stroke-width="7" stroke-linejoin="round" stroke-linecap="round"/>
<path d="M1556.0,1039.9 1569.4,1038.3 1582.7,1046.6 1586.0,1056.6 1582.7,1069.9" fill="none" stroke="#000" stroke-width="7" stroke-linejoin="round" stroke-linecap="round"/>
<path d="M1581.0,1049.9 1583.3,1061.6 1581.0,1068.2" fill="none" stroke="#000" stroke-width="6" stroke-linejoin="round" stroke-linecap="round"/>
<path d="M1559.4,1109.8 1566.0,1109.8 1572.7,1119.8 1576.0,1133.1 1569.4,1136.4 1559.4,1133.1 1554.4,1129.8 1557.7,1119.8 Z" fill="none" stroke="#000" stroke-width="4.6" stroke-linejoin="round" stroke-linecap="round"/>
<path d="M1606.0,1084.9 1619.3,1089.9 1625.9,1096.5 1629.3,1109.8" fill="none" stroke="#000" stroke-width="8" stroke-linejoin="round" stroke-linecap="round"/>
<path d="M1581.0,1108.2 1587.7,1107.2" fill="none" stroke="#000" stroke-width="8" stroke-linejoin="round" stroke-linecap="round"/>
<path d="M1645.9,1109.8 1655.9,1116.5 1665.9,1126.5" fill="none" stroke="#000" stroke-width="8" stroke-linejoin="round" stroke-linecap="round"/>
<path d="M1695.8,1123.1 1696.5,1126.5" fill="none" stroke="#000" stroke-width="8" stroke-linejoin="round" stroke-linecap="round"/>
<path d="M1645.9,1151.4 1659.2,1156.4" fill="none" stroke="#000" stroke-width="8" stroke-linejoin="round" stroke-linecap="round"/>
<path d="M1669.2,1146.4 1679.2,1159.7 1692.5,1169.7" fill="none" stroke="#000" stroke-width="8" stroke-linejoin="round" stroke-linecap="round"/>
<path d="M1712.4,1169.7 1729.1,1173.0 1722.4,1181.4 1719.1,1191.3" fill="none" stroke="#000" stroke-width="8" stroke-linejoin="round" stroke-linecap="round"/>
<path d="M1759.0,1174.7 1775.7,1174.7" fill="none" stroke="#000" stroke-width="6" stroke-linejoin="round" stroke-linecap="round"/>
<path d="M1778.0,1206.8 1771.0,1213.0 1771.7,1223.9 1764.0,1227.0 1754.7,1228.5 1751.6,1233.2 1757.8,1236.3 1778.0,1228.5" fill="none" stroke="#000" stroke-width="4.6" stroke-linejoin="round" stroke-linecap="round"/>
<path d="M1339.7,1276.2 1359.7,1262.9 1379.7,1242.9 1396.3,1232.9 1412.9,1226.3 1432.9,1216.3 1452.9,1213.0 1472.8,1208.0 1496.1,1209.7 1516.1,1213.0 1532.7,1216.3 1552.7,1213.0 1572.7,1213.0 1592.6,1219.6 1612.6,1229.6 1628.9,1240.9 1639.8,1245.6 1655.3,1247.1 1677.0,1247.1 1681.7,1254.9 1680.1,1261.1 1701.9,1258.0 1717.4,1259.6 1732.9,1264.2 1743.8,1268.9 1739.1,1275.1 1725.2,1278.2 1715.8,1281.3 1708.1,1286.0 1694.1,1289.1 1678.6,1291.4 1663.0,1293.7 1647.5,1296.8 1633.5,1301.6 1622.7,1307.7 1620.0,1315.0" fill="none" stroke="#000" stroke-width="4.6" stroke-linejoin="round" stroke-linecap="round"/>
<path d="M1615.0,1315.0 1618.0,1307.7 1621.1,1301.6 1630.4,1292.2 1633.5,1282.9 1624.2,1278.2 1608.7,1279.8 1596.3,1279.8 1587.0,1275.1 1586.0,1276.2 1576.0,1266.2 1572.7,1252.9 1552.7,1249.6 1512.8,1247.9 1479.5,1244.6 1452.9,1242.9 1442.9,1232.9 1429.6,1229.6 1412.9,1236.3 1396.3,1242.9 1379.7,1252.9 1366.4,1262.9 1346.4,1272.9 1339.7,1276.2" fill="none" stroke="#000" stroke-width="4.6" stroke-linejoin="round" stroke-linecap="round"/>
<path d="M1406.3,1266.2 1419.6,1264.6 1424.6,1272.9 1412.9,1279.5 1404.6,1276.2 Z" fill="none" stroke="#000" stroke-width="4.6" stroke-linejoin="round" stroke-linecap="round"/>
<path d="M1180.0,1302.8 1200.0,1299.5 1219.9,1296.2 1239.9,1294.5 1253.2,1292.8 1263.2,1296.2 1269.9,1302.8 1274.8,1311.1" fill="none" stroke="#000" stroke-width="4.6" stroke-linejoin="round" stroke-linecap="round"/>
<path d="M882.6,1082.5 879.2,1096.3 882.6,1113.5 886.1,1127.2 887.8,1139.3 884.3,1151.3 879.2,1171.9 874.0,1192.6 870.6,1213.2 867.1,1233.8 863.7,1254.5 862.0,1271.7 863.7,1285.4 867.1,1299.2 872.3,1311.2" fill="none" stroke="#000" stroke-width="4.6" stroke-linejoin="round" stroke-linecap="round"/>
<path d="M868.9,1079.1 875.7,1086.0 875.7,1103.2 879.2,1120.4 882.6,1134.1 886.1,1139.3" fill="none" stroke="#000" stroke-width="5" stroke-linejoin="round" stroke-linecap="round"/>
<path d="M758.8,1000.0 772.6,1013.8 782.9,1034.4 793.2,1051.6 803.5,1068.8 808.7,1082.5 810.4,1092.8 817.3,1110.0 824.2,1120.4 837.9,1127.2 855.1,1132.4 868.9,1135.8 879.2,1139.3 886.1,1141.0" fill="none" stroke="#000" stroke-width="4.6" stroke-linejoin="round" stroke-linecap="round"/>
<path d="M580.0,1282.0 586.9,1295.7 588.6,1311.2" fill="none" stroke="#000" stroke-width="4.6" stroke-linejoin="round" stroke-linecap="round"/>
<path d="M358.4,1078.4 362.5,1089.4 364.3,1103.2 360.8,1116.9 353.9,1130.7 359.1,1137.6 366.0,1144.4 379.7,1158.2 393.5,1171.9 407.2,1185.7 421.0,1199.4 431.3,1209.8 436.5,1218.4 427.9,1216.6 417.6,1206.3 410.7,1192.6 407.2,1175.4 409.0,1158.2 409.0,1141.0" fill="none" stroke="#000" stroke-width="4.6" stroke-linejoin="round" stroke-linecap="round"/>
<path d="M391.8,1080.1 393.5,1086.0 396.9,1096.3 400.4,1113.5 403.8,1127.2 409.0,1141.0" fill="none" stroke="#000" stroke-width="4.6" stroke-linejoin="round" stroke-linecap="round"/>
<path d="M463.3,1078.4 465.7,1082.5 469.1,1092.8 458.8,1099.7 458.8,1113.5 472.6,1120.4 479.4,1127.2 489.8,1135.8 500.1,1142.7 513.8,1158.2 527.6,1178.8 541.3,1199.4 555.1,1220.1 565.4,1240.7 572.3,1261.3 575.7,1275.1 580.9,1288.9 584.3,1299.2 586.1,1311.2" fill="none" stroke="#000" stroke-width="4.6" stroke-linejoin="round" stroke-linecap="round"/>
<path d="M537.2,1284.0 539.3,1286.8" fill="none" stroke="#000" stroke-width="8" stroke-linejoin="round" stroke-linecap="round"/>
<path d="M396.9,1089.4 400.4,1096.3" fill="none" stroke="#000" stroke-width="5" stroke-linejoin="round" stroke-linecap="round"/>
<path d="M407.2,1130.7 412.4,1137.6" fill="none" stroke="#000" stroke-width="6" stroke-linejoin="round" stroke-linecap="round"/>
<path d="M791.7,90.0 791.7,246.0" fill="none" stroke="#000" stroke-width="4.6" stroke-linejoin="round" stroke-linecap="round"/>
<path d="M950.3,90.0 950.3,253.0" fill="none" stroke="#000" stroke-width="4.6" stroke-linejoin="round" stroke-linecap="round"/>
<path d="M1279.3,850.7 1286.7,873.3" fill="none" stroke="#000" stroke-width="4.6" stroke-linejoin="round" stroke-linecap="round"/>
<path d="M1388.3,933.3 1390.0,923.3 1395.0,918.3 1408.3,916.0" fill="none" stroke="#000" stroke-width="4.6" stroke-linejoin="round" stroke-linecap="round"/>
<path d="M1110.0,726.7 1113.3,733.3 1105.0,745.0" fill="none" stroke="#000" stroke-width="4.6" stroke-linejoin="round" stroke-linecap="round"/>
<path d="M372.8,287.9 369.5,300.0 370.5,305.0" fill="none" stroke="#000" stroke-width="4.6" stroke-linejoin="round" stroke-linecap="round"/>
<path d="M1415.2,568.0 1417.4,585.6 1428.4,573.9 1435.7,568.0 1444.5,568.0 1448.9,570.9 1448.9,581.2 1444.5,591.5 1434.3,597.4 1429.9,609.1 1419.6,610.6 1416.7,612.0 1404.9,647.2 1400.5,656.0 1388.8,660.4 1380.0,666.3" fill="none" stroke="#000" stroke-width="4.6" stroke-linejoin="round" stroke-linecap="round"/>
<path d="M1448.9,570.9 1456.3,566.5 1465.1,562.1 1469.5,579.8 1476.8,576.8 1491.5,582.7 1487.1,597.4 1488.6,604.7 1497.4,609.1 1504.7,612.0 1515.0,620.8 1520.8,628.2" fill="none" stroke="#000" stroke-width="4.6" stroke-linejoin="round" stroke-linecap="round"/>
<path d="M1515.0,551.9 1507.6,562.1 1503.2,568.0 1506.2,576.8 1507.6,585.6 1504.7,594.4 1509.1,601.8 1516.4,606.2 1520.8,612.0 1523.8,626.7 1526.7,635.5 1528.2,642.8 1526.7,648.7 1537.0,651.6 1540.6,653.1" fill="none" stroke="#000" stroke-width="4.6" stroke-linejoin="round" stroke-linecap="round"/>
<path d="M1520.8,550.4 1513.5,559.2 1510.6,568.0 1512.0,579.8 1516.4,588.6 1523.8,588.6 1520.8,594.4 1526.7,597.4 1532.6,601.8 1538.4,604.7 1541.4,609.1 1539.9,620.8 1537.0,629.6 1535.5,641.4" fill="none" stroke="#000" stroke-width="4.6" stroke-linejoin="round" stroke-linecap="round"/>
<path d="M1494.4,610.6 1525.2,635.5" fill="none" stroke="#000" stroke-width="6" stroke-linejoin="round" stroke-linecap="round"/>
<path d="M1510.6,634.0 1526.7,641.4" fill="none" stroke="#000" stroke-width="6" stroke-linejoin="round" stroke-linecap="round"/>
<path d="M1497.4,644.3 1512.0,642.8 1526.7,651.6" fill="none" stroke="#000" stroke-width="6" stroke-linejoin="round" stroke-linecap="round"/>
<path d="M1536.7,559.9 1548.7,562.1 1551.6,568.0 1553.1,575.3 1554.6,582.7 1554.6,594.4 1551.6,606.2 1547.2,615.0 1544.3,623.8 1539.9,634.0 1535.5,641.4" fill="none" stroke="#000" stroke-width="4.6" stroke-linejoin="round" stroke-linecap="round"/>
<path d="M1028.6,339.8 1036.6,333.1 1044.6,325.2 1053.9,313.2 1063.2,305.2 1072.6,299.9 1084.5,294.5 1095.2,287.9 1103.2,281.2 1104.5,273.2 1107.2,265.3 1115.2,261.3 1123.1,254.6 1127.1,246.6 1132.5,242.6 1140.4,245.3 1148.4,248.0 1156.4,249.3 1169.7,246.6 1176.4,248.0 1181.7,255.9 1185.7,263.9 1191.0,271.9 1199.0,275.9 1209.7,275.9 1220.3,274.6 1219.0,281.2 1217.7,289.2 1225.6,295.9 1229.6,299.9 1228.3,306.5 1231.0,313.2 1236.3,315.8 1236.3,321.2 1240.3,325.2 1244.3,327.8 1249.6,331.8" fill="none" stroke="#000" stroke-width="4.6" stroke-linejoin="round" stroke-linecap="round"/>
<path d="M1010.0,265.3 1018.0,270.6 1023.3,277.2 1028.6,274.6 1036.6,278.6 1047.3,285.2 1052.6,282.6 1060.6,278.6 1065.9,281.2 1083.2,281.2 1092.5,286.6" fill="none" stroke="#000" stroke-width="4.6" stroke-linejoin="round" stroke-linecap="round"/>
<path d="M1108.5,287.9 1116.5,281.2 1124.5,276.6" fill="none" stroke="#000" stroke-width="9" stroke-linejoin="round" stroke-linecap="round"/>
<path d="M1193.7,284.6 1201.7,284.6" fill="none" stroke="#000" stroke-width="7" stroke-linejoin="round" stroke-linecap="round"/>
<path d="M1028.6,339.8 1035.3,339.1 1044.6,337.1 1053.9,331.8 1063.2,327.8 1068.6,326.5 1072.6,334.5 1081.9,339.8 1089.9,335.8 1100.5,330.5 1111.2,325.2 1120.5,317.2 1127.1,313.2 1132.5,309.2 1140.4,303.9 1147.1,302.5 1140.4,306.5 1133.8,313.2 1130.5,319.8 1130.5,327.8 1133.8,322.5 1143.1,322.5 1149.8,325.2 1156.4,334.5 1163.1,337.1 1169.7,337.1 1177.7,337.1 1183.0,333.1 1189.7,329.2 1203.0,325.2 1216.3,321.2 1221.6,321.2 1223.0,330.5 1229.6,331.8 1236.3,331.8 1242.9,331.8 1249.6,334.5" fill="none" stroke="#000" stroke-width="4.6" stroke-linejoin="round" stroke-linecap="round"/>
<path d="M1068.6,325.2 1073.9,323.8 1076.6,322.5" fill="none" stroke="#000" stroke-width="5" stroke-linejoin="round" stroke-linecap="round"/>
<path d="M1631.7,384.2 1632.8,393.8 1639.2,400.2 1636.0,405.6 1632.8,412.0 1633.8,415.2 1639.2,416.2 1643.4,421.6 1648.8,428.0 1653.0,430.6 1658.4,430.6 1665.8,429.6 1668.5,424.8 1664.8,419.4 1658.4,417.3 1655.2,417.8" fill="none" stroke="#000" stroke-width="4.6" stroke-linejoin="round" stroke-linecap="round"/>
<path d="M1668.5,424.8 1669.0,428.0 1665.8,431.7 1657.3,434.6 1650.9,437.6 1646.6,440.8 1641.3,442.9 1636.0,441.8 1630.6,445.0 1627.4,448.2 1623.2,451.4 1614.6,456.7 1609.3,459.9" fill="none" stroke="#000" stroke-width="4.6" stroke-linejoin="round" stroke-linecap="round"/>
<path d="M1647.2,448.4 1650.9,447.4 1654.1,446.3" fill="none" stroke="#000" stroke-width="7" stroke-linejoin="round" stroke-linecap="round"/>
<path d="M1666.4,446.3 1669.6,445.2 1671.7,446.3" fill="none" stroke="#000" stroke-width="8" stroke-linejoin="round" stroke-linecap="round"/>
<path d="M1624.2,429.6 1626.4,438.6 1628.5,448.2" fill="none" stroke="#000" stroke-width="4.6" stroke-linejoin="round" stroke-linecap="round"/>
<path d="M238.5,180.3 252.4,178.2 254.0,194.2 246.0,208.1 243.9,217.7 237.5,224.1 231.1,225.7 223.6,222.5 222.5,213.4 228.9,205.9 235.3,200.6 240.7,193.1 Z" fill="#000" stroke="#000" stroke-width="4.6" stroke-linejoin="round" stroke-linecap="round"/>
<path d="M158.5,99.3 162.8,106.7 168.1,113.1 174.5,119.5 178.3,127.0 182.0,133.4" fill="none" stroke="#000" stroke-width="7" stroke-linejoin="round" stroke-linecap="round"/>
<path d="M224.7,111.0 231.1,107.8 235.3,101.4" fill="none" stroke="#000" stroke-width="7" stroke-linejoin="round" stroke-linecap="round"/>
<path d="M214.0,109.9 220.4,119.5 226.8,125.9" fill="none" stroke="#000" stroke-width="7" stroke-linejoin="round" stroke-linecap="round"/>
<path d="M241.7,130.2 246.0,127.0 249.2,124.9" fill="none" stroke="#000" stroke-width="7" stroke-linejoin="round" stroke-linecap="round"/>
<path d="M243.9,139.8 250.3,137.7" fill="none" stroke="#000" stroke-width="7" stroke-linejoin="round" stroke-linecap="round"/>
<path d="M230.0,209.7 234.3,208.1 235.9,214.5 232.1,217.7 229.5,214.5 Z" fill="#fff" stroke="#fff" stroke-width="1" stroke-linejoin="round" stroke-linecap="round"/>

</g>
<rect x="30.5" y="97.5" width="1743.9" height="1211.9" fill="none" stroke="#000" stroke-width="2.9"/>
<rect x="67.1" y="1143.9" width="1559.5" height="130.1" fill="#fff" fill-opacity="0.85" stroke="#1a1a1a" stroke-width="3.7"/>
<text x="83" y="1197" font-family="Liberation Mono, monospace" font-size="50" xml:space="preserve">Valid: 2025-05-08 12:00 UTC to 2025-05-09 12:00 UTC</text>
<text x="83" y="1249" font-family="Liberation Mono, monospace" font-size="50" xml:space="preserve">Run:   2025-04-28 00:00 UTC</text>
<rect x="149.00" y="1311.3" width="215.80" height="20.799999999999955" fill="#fff5eb"/><rect x="364.20" y="1311.3" width="215.80" height="20.799999999999955" fill="#fee6ce"/><rect x="579.40" y="1311.3" width="215.80" height="20.799999999999955" fill="#fdd0a2"/><rect x="794.60" y="1311.3" width="215.80" height="20.799999999999955" fill="#fdae6b"/><rect x="1009.80" y="1311.3" width="215.80" height="20.799999999999955" fill="#fd8d3c"/><rect x="1225.00" y="1311.3" width="215.80" height="20.799999999999955" fill="#f16913"/><rect x="1440.20" y="1311.3" width="215.80" height="20.799999999999955" fill="#d94801"/><polygon points="149.0,1311.3 74,1321.6999999999998 149.0,1332.1" fill="#ffffff"/><polygon points="1655.3999999999999,1311.3 1730,1321.6999999999998 1655.3999999999999,1332.1" fill="#7f2704"/><polygon points="149.0,1311.3 74,1321.6999999999998 149.0,1332.1 1655.3999999999999,1332.1 1730,1321.6999999999998 1655.3999999999999,1311.3" fill="none" stroke="#000" stroke-width="3.1" stroke-linejoin="miter"/><line x1="149.00" y1="1332.1" x2="149.00" y2="1347.3" stroke="#000" stroke-width="3.1"/><text x="149.00" y="1398" text-anchor="middle" font-family="Liberation Mono, monospace" font-size="50">0.010</text><line x1="364.20" y1="1332.1" x2="364.20" y2="1347.3" stroke="#000" stroke-width="3.1"/><text x="364.20" y="1398" text-anchor="middle" font-family="Liberation Mono, monospace" font-size="50">0.025</text><line x1="579.40" y1="1332.1" x2="579.40" y2="1347.3" stroke="#000" stroke-width="3.1"/><text x="579.40" y="1398" text-anchor="middle" font-family="Liberation Mono, monospace" font-size="50">0.050</text><line x1="794.60" y1="1332.1" x2="794.60" y2="1347.3" stroke="#000" stroke-width="3.1"/><text x="794.60" y="1398" text-anchor="middle" font-family="Liberation Mono, monospace" font-size="50">0.100</text><line x1="1009.80" y1="1332.1" x2="1009.80" y2="1347.3" stroke="#000" stroke-width="3.1"/><text x="1009.80" y="1398" text-anchor="middle" font-family="Liberation Mono, monospace" font-size="50">0.500</text><line x1="1225.00" y1="1332.1" x2="1225.00" y2="1347.3" stroke="#000" stroke-width="3.1"/><text x="1225.00" y="1398" text-anchor="middle" font-family="Liberation Mono, monospace" font-size="50">1.000</text><line x1="1440.20" y1="1332.1" x2="1440.20" y2="1347.3" stroke="#000" stroke-width="3.1"/><text x="1440.20" y="1398" text-anchor="middle" font-family="Liberation Mono, monospace" font-size="50">2.000</text><line x1="1655.40" y1="1332.1" x2="1655.40" y2="1347.3" stroke="#000" stroke-width="3.1"/><text x="1655.40" y="1398" text-anchor="middle" font-family="Liberation Mono, monospace" font-size="50">3.000</text><text x="902" y="1461" text-anchor="middle" font-family="Liberation Mono, monospace" font-size="50">STP Daily Sum</text>
<g>
<defs><clipPath id="lg"><polygon points="48.3,1381.8 21.8,1390.6 21.8,1469.4 48.3,1478 75,1469.4 75,1390.6"/></clipPath></defs>
<polygon points="48.3,1380 20.3,1389.4 20.3,1470.6 48.3,1479.6 76.5,1470.6 76.5,1389.4" fill="#b4b4b4"/>
<polygon points="48.3,1381.8 21.8,1390.6 21.8,1469.4 48.3,1478 75,1469.4 75,1390.6" fill="#231f20"/>
<g clip-path="url(#lg)">
<path d="M30.2,1413 L30.2,1404 L31.3,1401 L32.7,1393 L34.1,1401 L34.9,1400 L36.7,1408.7 L38.6,1400 L39.7,1399 L41.1,1400 L43.3,1408.7 L45.5,1400 L46.5,1399 L48.3,1396 L50.1,1399 L51.0,1400 L53.2,1408.7 L55.4,1400 L56.5,1399 L57.3,1400 L59.1,1408.7 L61.3,1400 L62.5,1401 L64.2,1393 L65.3,1401 L66.5,1404 L66.5,1413 Z" fill="#fff"/>
<rect x="29.8" y="1411.5" width="37" height="2.4" fill="#fff"/>
<polygon points="30.2,1413 66.5,1413 66.5,1445 30.2,1449" fill="#fff"/>
<rect x="35.6" y="1414.5" width="0.9" height="34" fill="#231f20"/>
<rect x="60.5" y="1414.5" width="0.9" height="30" fill="#231f20"/>
<rect x="40.2" y="1419.7" width="6" height="2.8" fill="#231f20"/><rect x="50.4" y="1419.7" width="6" height="2.8" fill="#231f20"/>
<rect x="40.2" y="1423.6" width="6" height="2.6" fill="#231f20"/><rect x="50.4" y="1423.6" width="6" height="2.6" fill="#231f20"/>
<rect x="40.2" y="1427.1" width="6" height="2.3" fill="#231f20"/><rect x="50.4" y="1427.1" width="6" height="2.3" fill="#231f20"/>
<rect x="40.2" y="1432.9" width="6" height="2.8" fill="#231f20"/><rect x="50.4" y="1432.9" width="6" height="2.8" fill="#231f20"/>
<rect x="40.2" y="1436.8" width="6" height="2.6" fill="#231f20"/><rect x="50.4" y="1436.8" width="6" height="2.6" fill="#231f20"/>
<rect x="40.2" y="1440.3" width="6" height="2.0" fill="#231f20"/><rect x="50.4" y="1440.3" width="6" height="2.0" fill="#231f20"/>
<path d="M20,1449.6 Q48,1442 78,1437.5 L78,1482 L20,1482 Z" fill="#fff"/>
<path d="M20,1452 Q48,1444.5 78,1441 L78,1482 L20,1482 Z" fill="#d5101a"/>
</g>
<text x="48.6" y="1467.3" text-anchor="middle" font-family="Liberation Sans, sans-serif" font-weight="bold" font-size="16.5" fill="#fff" textLength="42" lengthAdjust="spacingAndGlyphs">NIU</text>
</g>

</svg>
</body></html>
